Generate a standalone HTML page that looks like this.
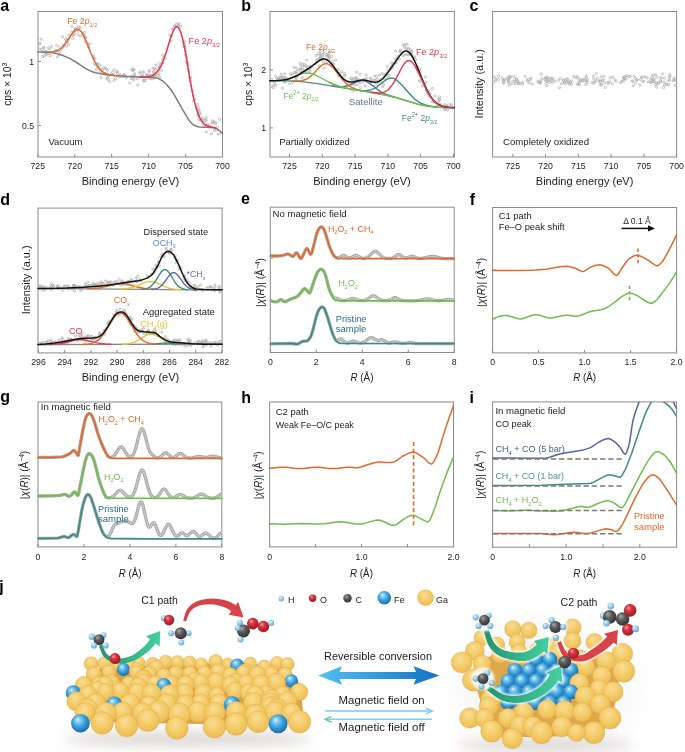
<!DOCTYPE html>
<html><head><meta charset="utf-8"><style>html,body{margin:0;padding:0;background:#fff;}svg{display:block;will-change:transform;}</style></head>
<body><svg width="685" height="752" viewBox="0 0 685 752" font-family='"Liberation Sans", sans-serif'><rect width="685" height="752" fill="#fff"/><text x="0.3" y="11.4" font-size="16" font-weight="bold" fill="#000">a</text><rect x="38" y="11.5" width="184.5" height="145.5" fill="none" stroke="#8a8a8a" stroke-width="1"/><line x1="37.8" y1="157" x2="37.8" y2="154" stroke="#8a8a8a" stroke-width="1"/><text x="37.8" y="168.8" font-size="9.2" fill="#1c1c1c" text-anchor="middle" font-weight="normal" textLength="14.55" lengthAdjust="spacingAndGlyphs" >725</text><line x1="74.75" y1="157" x2="74.75" y2="154" stroke="#8a8a8a" stroke-width="1"/><text x="74.75" y="168.8" font-size="9.2" fill="#1c1c1c" text-anchor="middle" font-weight="normal" textLength="14.55" lengthAdjust="spacingAndGlyphs" >720</text><line x1="111.7" y1="157" x2="111.7" y2="154" stroke="#8a8a8a" stroke-width="1"/><text x="111.7" y="168.8" font-size="9.2" fill="#1c1c1c" text-anchor="middle" font-weight="normal" textLength="14.55" lengthAdjust="spacingAndGlyphs" >715</text><line x1="148.65" y1="157" x2="148.65" y2="154" stroke="#8a8a8a" stroke-width="1"/><text x="148.65" y="168.8" font-size="9.2" fill="#1c1c1c" text-anchor="middle" font-weight="normal" textLength="14.55" lengthAdjust="spacingAndGlyphs" >710</text><line x1="185.6" y1="157" x2="185.6" y2="154" stroke="#8a8a8a" stroke-width="1"/><text x="185.6" y="168.8" font-size="9.2" fill="#1c1c1c" text-anchor="middle" font-weight="normal" textLength="14.55" lengthAdjust="spacingAndGlyphs" >705</text><line x1="222.55" y1="157" x2="222.55" y2="154" stroke="#8a8a8a" stroke-width="1"/><text x="222.55" y="168.8" font-size="9.2" fill="#1c1c1c" text-anchor="middle" font-weight="normal" textLength="14.55" lengthAdjust="spacingAndGlyphs" >700</text><text x="130.5" y="184.8" font-size="10.8" fill="#1c1c1c" text-anchor="middle" font-weight="normal" textLength="97.6" lengthAdjust="spacingAndGlyphs" >Binding energy (eV)</text><line x1="38" y1="61.5" x2="41" y2="61.5" stroke="#8a8a8a" stroke-width="1"/><text x="34" y="64.7" font-size="9.2" fill="#1c1c1c" text-anchor="end" font-weight="normal" textLength="4.85" lengthAdjust="spacingAndGlyphs" >1</text><line x1="38" y1="125.5" x2="41" y2="125.5" stroke="#8a8a8a" stroke-width="1"/><text x="34" y="128.7" font-size="9.2" fill="#1c1c1c" text-anchor="end" font-weight="normal" textLength="12.1" lengthAdjust="spacingAndGlyphs" >0.5</text><text transform="translate(11.3,84.2) rotate(-90)" x="0" y="0" font-size="10.5" fill="#1c1c1c" text-anchor="middle" textLength="43.2" lengthAdjust="spacingAndGlyphs">cps × 10<tspan font-size="7" dy="-4">3</tspan></text><g fill="#fff" stroke="#9c9c9c" stroke-width="0.6" fill-opacity="0.5"><circle cx="39.68" cy="43.15" r="1.1"/><circle cx="39.95" cy="48.89" r="1.1"/><circle cx="39.96" cy="44.04" r="1.1"/><circle cx="41.15" cy="39.18" r="1.1"/><circle cx="41.6" cy="49.54" r="1.1"/><circle cx="42.69" cy="56.64" r="1.1"/><circle cx="42.85" cy="51.76" r="1.1"/><circle cx="43.6" cy="47.13" r="1.1"/><circle cx="43.87" cy="48.02" r="1.1"/><circle cx="44.53" cy="55.9" r="1.1"/><circle cx="44.54" cy="52.2" r="1.1"/><circle cx="45.51" cy="51.8" r="1.1"/><circle cx="45.95" cy="51.41" r="1.1"/><circle cx="46.11" cy="51.76" r="1.1"/><circle cx="46.24" cy="54.68" r="1.1"/><circle cx="47.02" cy="53.72" r="1.1"/><circle cx="47.51" cy="52.44" r="1.1"/><circle cx="48.25" cy="47.65" r="1.1"/><circle cx="48.25" cy="53.55" r="1.1"/><circle cx="49.81" cy="48.97" r="1.1"/><circle cx="50.29" cy="55.7" r="1.1"/><circle cx="51.54" cy="46.63" r="1.1"/><circle cx="55.7" cy="50.3" r="1.1"/><circle cx="56.56" cy="50.55" r="1.1"/><circle cx="56.65" cy="45.51" r="1.1"/><circle cx="57.45" cy="56.8" r="1.1"/><circle cx="59.51" cy="54.73" r="1.1"/><circle cx="59.57" cy="47.38" r="1.1"/><circle cx="59.66" cy="52.01" r="1.1"/><circle cx="61.43" cy="49.14" r="1.1"/><circle cx="62.57" cy="36.67" r="1.1"/><circle cx="63.02" cy="47.07" r="1.1"/><circle cx="63.4" cy="45.46" r="1.1"/><circle cx="63.96" cy="45.36" r="1.1"/><circle cx="65.55" cy="38.88" r="1.1"/><circle cx="66.41" cy="40.71" r="1.1"/><circle cx="66.52" cy="40.89" r="1.1"/><circle cx="66.57" cy="46.01" r="1.1"/><circle cx="67.19" cy="41.83" r="1.1"/><circle cx="68.24" cy="38.89" r="1.1"/><circle cx="68.48" cy="44.35" r="1.1"/><circle cx="69.3" cy="35.13" r="1.1"/><circle cx="71.74" cy="32.1" r="1.1"/><circle cx="71.95" cy="26.38" r="1.1"/><circle cx="72.56" cy="38.45" r="1.1"/><circle cx="73.22" cy="35.35" r="1.1"/><circle cx="73.9" cy="34.42" r="1.1"/><circle cx="74.11" cy="33.27" r="1.1"/><circle cx="74.12" cy="31.14" r="1.1"/><circle cx="75" cy="30.77" r="1.1"/><circle cx="75.23" cy="28.82" r="1.1"/><circle cx="75.61" cy="28.75" r="1.1"/><circle cx="76.03" cy="29.5" r="1.1"/><circle cx="77.86" cy="34.63" r="1.1"/><circle cx="78.18" cy="31.03" r="1.1"/><circle cx="78.24" cy="28.71" r="1.1"/><circle cx="78.29" cy="26.74" r="1.1"/><circle cx="80.1" cy="27.5" r="1.1"/><circle cx="80.32" cy="36.2" r="1.1"/><circle cx="82.71" cy="35.27" r="1.1"/><circle cx="82.72" cy="33.63" r="1.1"/><circle cx="84.17" cy="34.84" r="1.1"/><circle cx="84.36" cy="32.35" r="1.1"/><circle cx="84.81" cy="37.28" r="1.1"/><circle cx="85.13" cy="41.58" r="1.1"/><circle cx="85.13" cy="36.77" r="1.1"/><circle cx="85.51" cy="38.28" r="1.1"/><circle cx="87.84" cy="44.02" r="1.1"/><circle cx="88.55" cy="47.09" r="1.1"/><circle cx="89.81" cy="43.8" r="1.1"/><circle cx="93.78" cy="58.3" r="1.1"/><circle cx="93.83" cy="56.05" r="1.1"/><circle cx="94.3" cy="63.64" r="1.1"/><circle cx="94.97" cy="58.65" r="1.1"/><circle cx="95.68" cy="65.08" r="1.1"/><circle cx="96.25" cy="69.68" r="1.1"/><circle cx="97.04" cy="63.95" r="1.1"/><circle cx="97.79" cy="63.97" r="1.1"/><circle cx="97.95" cy="67.21" r="1.1"/><circle cx="98.71" cy="67.47" r="1.1"/><circle cx="99.71" cy="64.89" r="1.1"/><circle cx="100.81" cy="71.52" r="1.1"/><circle cx="101.06" cy="77.67" r="1.1"/><circle cx="101.82" cy="69.67" r="1.1"/><circle cx="102.16" cy="70.15" r="1.1"/><circle cx="103.86" cy="68.08" r="1.1"/><circle cx="104.93" cy="73.83" r="1.1"/><circle cx="105.27" cy="68.04" r="1.1"/><circle cx="106.44" cy="69.06" r="1.1"/><circle cx="106.92" cy="78.3" r="1.1"/><circle cx="107.67" cy="70.25" r="1.1"/><circle cx="107.78" cy="77.83" r="1.1"/><circle cx="108.23" cy="79.64" r="1.1"/><circle cx="108.25" cy="74.84" r="1.1"/><circle cx="108.46" cy="76.02" r="1.1"/><circle cx="109.74" cy="81.64" r="1.1"/><circle cx="111.69" cy="73.85" r="1.1"/><circle cx="112.46" cy="72.46" r="1.1"/><circle cx="114" cy="69.78" r="1.1"/><circle cx="114.1" cy="75.09" r="1.1"/><circle cx="114.13" cy="80.56" r="1.1"/><circle cx="115.45" cy="78.73" r="1.1"/><circle cx="116.86" cy="71.64" r="1.1"/><circle cx="117.15" cy="72" r="1.1"/><circle cx="117.47" cy="73.36" r="1.1"/><circle cx="119.36" cy="76.55" r="1.1"/><circle cx="120.12" cy="74.71" r="1.1"/><circle cx="120.23" cy="76.32" r="1.1"/><circle cx="122.31" cy="76.78" r="1.1"/><circle cx="124.02" cy="74.63" r="1.1"/><circle cx="124.08" cy="75.61" r="1.1"/><circle cx="124.36" cy="76.57" r="1.1"/><circle cx="124.4" cy="75.47" r="1.1"/><circle cx="126.45" cy="77.82" r="1.1"/><circle cx="129.68" cy="83.19" r="1.1"/><circle cx="131.08" cy="78.4" r="1.1"/><circle cx="131.67" cy="76.39" r="1.1"/><circle cx="132.04" cy="69.79" r="1.1"/><circle cx="132.62" cy="77.69" r="1.1"/><circle cx="132.83" cy="68.83" r="1.1"/><circle cx="132.97" cy="70.88" r="1.1"/><circle cx="133.08" cy="79.49" r="1.1"/><circle cx="133.74" cy="78.95" r="1.1"/><circle cx="133.81" cy="75.7" r="1.1"/><circle cx="134.11" cy="69.78" r="1.1"/><circle cx="134.5" cy="74.88" r="1.1"/><circle cx="134.58" cy="73.72" r="1.1"/><circle cx="137.26" cy="78.81" r="1.1"/><circle cx="137.76" cy="84.98" r="1.1"/><circle cx="138.94" cy="77.26" r="1.1"/><circle cx="139.8" cy="73.5" r="1.1"/><circle cx="140.01" cy="72.01" r="1.1"/><circle cx="141.88" cy="76.28" r="1.1"/><circle cx="142.49" cy="75.83" r="1.1"/><circle cx="142.97" cy="72.13" r="1.1"/><circle cx="142.97" cy="76.95" r="1.1"/><circle cx="143.63" cy="72.14" r="1.1"/><circle cx="143.69" cy="80.73" r="1.1"/><circle cx="143.83" cy="80.55" r="1.1"/><circle cx="144.97" cy="80.61" r="1.1"/><circle cx="146.67" cy="74.6" r="1.1"/><circle cx="146.73" cy="78.36" r="1.1"/><circle cx="146.75" cy="75.9" r="1.1"/><circle cx="147.53" cy="74.85" r="1.1"/><circle cx="148.17" cy="74.95" r="1.1"/><circle cx="149.19" cy="71.13" r="1.1"/><circle cx="149.42" cy="70.53" r="1.1"/><circle cx="150.2" cy="78.85" r="1.1"/><circle cx="150.46" cy="75.03" r="1.1"/><circle cx="150.79" cy="76.48" r="1.1"/><circle cx="152.55" cy="78.75" r="1.1"/><circle cx="153.08" cy="68.08" r="1.1"/><circle cx="153.36" cy="71.53" r="1.1"/><circle cx="153.63" cy="75" r="1.1"/><circle cx="153.69" cy="75.79" r="1.1"/><circle cx="153.83" cy="72.77" r="1.1"/><circle cx="153.91" cy="78.07" r="1.1"/><circle cx="154.33" cy="74.66" r="1.1"/><circle cx="154.93" cy="68.77" r="1.1"/><circle cx="155.43" cy="69.39" r="1.1"/><circle cx="155.57" cy="75.86" r="1.1"/><circle cx="155.75" cy="74.4" r="1.1"/><circle cx="156.09" cy="65.08" r="1.1"/><circle cx="157.77" cy="75.56" r="1.1"/><circle cx="158.95" cy="71.16" r="1.1"/><circle cx="159.04" cy="73.85" r="1.1"/><circle cx="159.09" cy="67.22" r="1.1"/><circle cx="159.32" cy="67.21" r="1.1"/><circle cx="159.67" cy="63.5" r="1.1"/><circle cx="159.85" cy="77.13" r="1.1"/><circle cx="159.9" cy="66.75" r="1.1"/><circle cx="161.6" cy="70.18" r="1.1"/><circle cx="162.45" cy="59.72" r="1.1"/><circle cx="162.46" cy="62.8" r="1.1"/><circle cx="162.71" cy="55.2" r="1.1"/><circle cx="163.77" cy="57.4" r="1.1"/><circle cx="165.3" cy="58.33" r="1.1"/><circle cx="169.87" cy="35.07" r="1.1"/><circle cx="170.77" cy="41.07" r="1.1"/><circle cx="171.47" cy="36.23" r="1.1"/><circle cx="172.22" cy="28.91" r="1.1"/><circle cx="174.37" cy="26.27" r="1.1"/><circle cx="174.56" cy="26.14" r="1.1"/><circle cx="176.12" cy="26.14" r="1.1"/><circle cx="176.42" cy="24.18" r="1.1"/><circle cx="178.44" cy="24.03" r="1.1"/><circle cx="178.66" cy="26.3" r="1.1"/><circle cx="178.95" cy="23.98" r="1.1"/><circle cx="180.56" cy="26.39" r="1.1"/><circle cx="183.66" cy="42.72" r="1.1"/><circle cx="183.73" cy="46.57" r="1.1"/><circle cx="184.47" cy="41.02" r="1.1"/><circle cx="184.48" cy="46.9" r="1.1"/><circle cx="184.54" cy="44.72" r="1.1"/><circle cx="185.3" cy="47.5" r="1.1"/><circle cx="185.37" cy="54.83" r="1.1"/><circle cx="185.64" cy="51.09" r="1.1"/><circle cx="186.1" cy="61.35" r="1.1"/><circle cx="186.92" cy="57.49" r="1.1"/><circle cx="187.11" cy="63.07" r="1.1"/><circle cx="187.78" cy="64.74" r="1.1"/><circle cx="187.78" cy="62.78" r="1.1"/><circle cx="187.98" cy="69.07" r="1.1"/><circle cx="188.87" cy="71.64" r="1.1"/><circle cx="189.36" cy="77.39" r="1.1"/><circle cx="190.48" cy="81.34" r="1.1"/><circle cx="190.58" cy="77.91" r="1.1"/><circle cx="192.33" cy="91.08" r="1.1"/><circle cx="193.23" cy="96.04" r="1.1"/><circle cx="193.6" cy="101.23" r="1.1"/><circle cx="194.86" cy="99.33" r="1.1"/><circle cx="196.46" cy="108.41" r="1.1"/><circle cx="197.28" cy="104.57" r="1.1"/><circle cx="198.02" cy="115.67" r="1.1"/><circle cx="198.29" cy="109.8" r="1.1"/><circle cx="198.42" cy="107.38" r="1.1"/><circle cx="198.52" cy="114.26" r="1.1"/><circle cx="198.91" cy="119.62" r="1.1"/><circle cx="199.18" cy="110.24" r="1.1"/><circle cx="199.27" cy="112.09" r="1.1"/><circle cx="199.66" cy="114.23" r="1.1"/><circle cx="200.08" cy="113.58" r="1.1"/><circle cx="200.34" cy="119.78" r="1.1"/><circle cx="201.96" cy="117.81" r="1.1"/><circle cx="202.62" cy="118.96" r="1.1"/><circle cx="202.74" cy="124.06" r="1.1"/><circle cx="203.96" cy="120.24" r="1.1"/><circle cx="204.93" cy="125.55" r="1.1"/><circle cx="205.69" cy="120.75" r="1.1"/><circle cx="206.07" cy="120.07" r="1.1"/><circle cx="206.1" cy="117.72" r="1.1"/><circle cx="206.38" cy="131.93" r="1.1"/><circle cx="207.4" cy="124.16" r="1.1"/><circle cx="208.34" cy="126.69" r="1.1"/><circle cx="209.35" cy="125.97" r="1.1"/><circle cx="210.25" cy="126.93" r="1.1"/><circle cx="211.43" cy="126.77" r="1.1"/><circle cx="211.45" cy="133.83" r="1.1"/><circle cx="212.03" cy="122.75" r="1.1"/><circle cx="212.55" cy="120.87" r="1.1"/><circle cx="212.75" cy="122.97" r="1.1"/><circle cx="214.21" cy="122" r="1.1"/><circle cx="214.45" cy="129.95" r="1.1"/><circle cx="215.5" cy="130.53" r="1.1"/><circle cx="215.63" cy="123.82" r="1.1"/><circle cx="216.31" cy="122.55" r="1.1"/><circle cx="217.62" cy="127.35" r="1.1"/><circle cx="217.92" cy="134.19" r="1.1"/><circle cx="219.49" cy="119.39" r="1.1"/><circle cx="220.68" cy="133.23" r="1.1"/></g><path d="M37.7,52 46.5,52.3 52.5,52.8 56.7,53.6 62.2,55.2 66.8,57.1 70.5,58.9 78.9,64 84.9,68.1 87.7,69.6 90.4,70.9 93.2,72 95.5,72.7 98.3,73.3 105.2,74.5 114.5,75.6 128.8,76.5 152.9,77.6 156.1,77.9 158.5,78.6 162.2,80.6 164,82 167.2,85.2 170,88.5 172.3,91.8 174.6,95.4 182.5,109.4 188.1,118.8 189.9,121.4 192.7,124.3 194.1,125.2 195.5,125.8 197.3,126.5 199.2,126.9 211.7,127.5 214.4,127.8 215.4,128 216.7,128.7 219.1,130.3 220.4,131.5 222.3,133.5" fill="none" stroke="#837977" stroke-width="1.5" stroke-linejoin="round" stroke-linecap="round" /><path d="M48.3,52.1 52,51.9 55.7,51.3 58.1,50.5 60.4,49.1 62.7,47 64.5,44.8 66.8,41.6 71.5,34.5 73.8,31.6 75.2,30.3 76.6,29.6 78,29.4 78.9,29.6 79.8,30.2 81.2,31.6 82.1,32.9 83.5,35.3 85.8,40.4 91.4,54.2 93.7,59.5 96.5,64.7 97.8,66.8 99.2,68.6 100.6,70.1 102.5,71.7 104.3,72.8 106.2,73.7 108.5,74.4 110.8,74.9 114,75.4 117.7,75.8" fill="none" stroke="#E2692B" stroke-width="1.5" stroke-linejoin="round" stroke-linecap="round" /><path d="M140.4,77 144.1,77 146.9,76.9 149.2,76.6 151.5,75.9 153.4,75 154.8,74 156.6,72.3 158.5,70.1 159.8,68 160.8,66.4 162.2,63.4 163.5,60 166.3,52 170.9,37 173.3,30.8 174.6,28.2 175.6,27.2 176.5,26.7 177,26.7 177.9,27.1 178.8,28.2 180.2,30.8 181.6,34.9 183,40.3 184.4,46.8 185.8,54.2 189.9,78.8 192.7,93.8 194.1,100.1 195.5,105.6 196.9,110.3 198.2,114.3 199.6,117.5 201,120 202.9,122.5 204.7,124.3 206.6,125.5 208.4,126.3 210.7,126.9 214.9,127.7 215.8,128.1" fill="none" stroke="#E8354B" stroke-width="1.5" stroke-linejoin="round" stroke-linecap="round" /><text x="67.2" y="23.9" font-size="9.5" fill="#E2692B" text-anchor="start" font-weight="normal" textLength="30" lengthAdjust="spacingAndGlyphs" >Fe 2<tspan font-style="italic">p</tspan><tspan font-size="6" dy="2.8">1/2</tspan></text><text x="188.6" y="43.7" font-size="9.5" fill="#E8354B" text-anchor="start" font-weight="normal" textLength="31.4" lengthAdjust="spacingAndGlyphs" >Fe 2<tspan font-style="italic">p</tspan><tspan font-size="6" dy="2.8">3/2</tspan></text><text x="48.5" y="145.2" font-size="9.2" fill="#1c1c1c" text-anchor="start" font-weight="normal" textLength="34" lengthAdjust="spacingAndGlyphs" >Vacuum</text><text x="241.3" y="11.4" font-size="16" font-weight="bold" fill="#000">b</text><rect x="270" y="11.5" width="184.4" height="145.5" fill="none" stroke="#8a8a8a" stroke-width="1"/><line x1="289.5" y1="157" x2="289.5" y2="154" stroke="#8a8a8a" stroke-width="1"/><text x="289.5" y="168.8" font-size="9.2" fill="#1c1c1c" text-anchor="middle" font-weight="normal" textLength="14.55" lengthAdjust="spacingAndGlyphs" >725</text><line x1="322.28" y1="157" x2="322.28" y2="154" stroke="#8a8a8a" stroke-width="1"/><text x="322.28" y="168.8" font-size="9.2" fill="#1c1c1c" text-anchor="middle" font-weight="normal" textLength="14.55" lengthAdjust="spacingAndGlyphs" >720</text><line x1="355.06" y1="157" x2="355.06" y2="154" stroke="#8a8a8a" stroke-width="1"/><text x="355.06" y="168.8" font-size="9.2" fill="#1c1c1c" text-anchor="middle" font-weight="normal" textLength="14.55" lengthAdjust="spacingAndGlyphs" >715</text><line x1="387.84" y1="157" x2="387.84" y2="154" stroke="#8a8a8a" stroke-width="1"/><text x="387.84" y="168.8" font-size="9.2" fill="#1c1c1c" text-anchor="middle" font-weight="normal" textLength="14.55" lengthAdjust="spacingAndGlyphs" >710</text><line x1="420.62" y1="157" x2="420.62" y2="154" stroke="#8a8a8a" stroke-width="1"/><text x="420.62" y="168.8" font-size="9.2" fill="#1c1c1c" text-anchor="middle" font-weight="normal" textLength="14.55" lengthAdjust="spacingAndGlyphs" >705</text><line x1="453.4" y1="157" x2="453.4" y2="154" stroke="#8a8a8a" stroke-width="1"/><text x="453.4" y="168.8" font-size="9.2" fill="#1c1c1c" text-anchor="middle" font-weight="normal" textLength="14.55" lengthAdjust="spacingAndGlyphs" >700</text><text x="362" y="184.8" font-size="10.8" fill="#1c1c1c" text-anchor="middle" font-weight="normal" textLength="97.6" lengthAdjust="spacingAndGlyphs" >Binding energy (eV)</text><line x1="270" y1="70" x2="273" y2="70" stroke="#8a8a8a" stroke-width="1"/><text x="266" y="73.2" font-size="9.2" fill="#1c1c1c" text-anchor="end" font-weight="normal" textLength="4.85" lengthAdjust="spacingAndGlyphs" >2</text><line x1="270" y1="127.9" x2="273" y2="127.9" stroke="#8a8a8a" stroke-width="1"/><text x="266" y="131.1" font-size="9.2" fill="#1c1c1c" text-anchor="end" font-weight="normal" textLength="4.85" lengthAdjust="spacingAndGlyphs" >1</text><text transform="translate(252.3,84.2) rotate(-90)" x="0" y="0" font-size="10.5" fill="#1c1c1c" text-anchor="middle" textLength="43.2" lengthAdjust="spacingAndGlyphs">cps × 10<tspan font-size="7" dy="-4">3</tspan></text><g fill="#fff" stroke="#9c9c9c" stroke-width="0.6" fill-opacity="0.5"><circle cx="271.6" cy="79.04" r="1.1"/><circle cx="272.04" cy="86.91" r="1.1"/><circle cx="273.32" cy="87.47" r="1.1"/><circle cx="273.75" cy="84.69" r="1.1"/><circle cx="274.4" cy="82.1" r="1.1"/><circle cx="275.7" cy="76.26" r="1.1"/><circle cx="275.82" cy="85.16" r="1.1"/><circle cx="276.92" cy="78.83" r="1.1"/><circle cx="277.42" cy="78.76" r="1.1"/><circle cx="278.61" cy="77.78" r="1.1"/><circle cx="279.08" cy="79.36" r="1.1"/><circle cx="280.02" cy="77.09" r="1.1"/><circle cx="280.56" cy="78.53" r="1.1"/><circle cx="281.34" cy="74.26" r="1.1"/><circle cx="282.39" cy="77.14" r="1.1"/><circle cx="282.5" cy="88.27" r="1.1"/><circle cx="283.14" cy="78.32" r="1.1"/><circle cx="283.31" cy="77.59" r="1.1"/><circle cx="283.8" cy="80.76" r="1.1"/><circle cx="284.36" cy="81.41" r="1.1"/><circle cx="284.7" cy="73.71" r="1.1"/><circle cx="285.05" cy="77.45" r="1.1"/><circle cx="285.14" cy="82.17" r="1.1"/><circle cx="285.94" cy="79.29" r="1.1"/><circle cx="286.39" cy="78.57" r="1.1"/><circle cx="289.48" cy="83.75" r="1.1"/><circle cx="290.52" cy="74.01" r="1.1"/><circle cx="291.86" cy="76.7" r="1.1"/><circle cx="292.22" cy="74.02" r="1.1"/><circle cx="292.45" cy="82.37" r="1.1"/><circle cx="293.78" cy="67.34" r="1.1"/><circle cx="294.63" cy="72.33" r="1.1"/><circle cx="295.12" cy="72.69" r="1.1"/><circle cx="295.64" cy="77.44" r="1.1"/><circle cx="295.75" cy="77.14" r="1.1"/><circle cx="295.98" cy="80.34" r="1.1"/><circle cx="296.18" cy="67.77" r="1.1"/><circle cx="296.38" cy="77.43" r="1.1"/><circle cx="296.74" cy="72.85" r="1.1"/><circle cx="296.85" cy="71.23" r="1.1"/><circle cx="296.99" cy="76.22" r="1.1"/><circle cx="298.98" cy="68.99" r="1.1"/><circle cx="300.35" cy="63.32" r="1.1"/><circle cx="300.61" cy="70.34" r="1.1"/><circle cx="300.72" cy="65.54" r="1.1"/><circle cx="301.1" cy="68.87" r="1.1"/><circle cx="301.17" cy="73.12" r="1.1"/><circle cx="301.27" cy="72.81" r="1.1"/><circle cx="302.24" cy="77.58" r="1.1"/><circle cx="302.55" cy="69.89" r="1.1"/><circle cx="302.68" cy="64.21" r="1.1"/><circle cx="302.69" cy="67.47" r="1.1"/><circle cx="304.51" cy="65.69" r="1.1"/><circle cx="304.57" cy="64.4" r="1.1"/><circle cx="304.61" cy="71.32" r="1.1"/><circle cx="306.11" cy="65.87" r="1.1"/><circle cx="306.67" cy="59.93" r="1.1"/><circle cx="307.14" cy="70.87" r="1.1"/><circle cx="307.72" cy="67.12" r="1.1"/><circle cx="308.06" cy="68.88" r="1.1"/><circle cx="308.34" cy="67.64" r="1.1"/><circle cx="309.74" cy="68.93" r="1.1"/><circle cx="310" cy="66.26" r="1.1"/><circle cx="310.11" cy="71.22" r="1.1"/><circle cx="310.5" cy="67.54" r="1.1"/><circle cx="311.04" cy="67.01" r="1.1"/><circle cx="315.77" cy="63.35" r="1.1"/><circle cx="315.9" cy="55.41" r="1.1"/><circle cx="316.51" cy="60.35" r="1.1"/><circle cx="317.75" cy="59.01" r="1.1"/><circle cx="317.88" cy="60.88" r="1.1"/><circle cx="318.08" cy="54.15" r="1.1"/><circle cx="319.32" cy="65.89" r="1.1"/><circle cx="319.81" cy="59.17" r="1.1"/><circle cx="319.98" cy="53.54" r="1.1"/><circle cx="320.18" cy="51.34" r="1.1"/><circle cx="320.26" cy="57.3" r="1.1"/><circle cx="320.45" cy="58" r="1.1"/><circle cx="320.79" cy="55.2" r="1.1"/><circle cx="321.02" cy="58.5" r="1.1"/><circle cx="321.78" cy="55.12" r="1.1"/><circle cx="321.83" cy="60.11" r="1.1"/><circle cx="322.68" cy="54.52" r="1.1"/><circle cx="322.9" cy="57.37" r="1.1"/><circle cx="323.53" cy="61.57" r="1.1"/><circle cx="323.74" cy="68.24" r="1.1"/><circle cx="324.43" cy="53.23" r="1.1"/><circle cx="326.43" cy="56.07" r="1.1"/><circle cx="326.72" cy="54.63" r="1.1"/><circle cx="326.82" cy="61.5" r="1.1"/><circle cx="327.71" cy="53.93" r="1.1"/><circle cx="328.05" cy="56.95" r="1.1"/><circle cx="328.49" cy="59.19" r="1.1"/><circle cx="328.74" cy="55.4" r="1.1"/><circle cx="329.35" cy="56.01" r="1.1"/><circle cx="329.63" cy="58.29" r="1.1"/><circle cx="330.03" cy="51.85" r="1.1"/><circle cx="331.63" cy="56.34" r="1.1"/><circle cx="332.24" cy="61.39" r="1.1"/><circle cx="332.41" cy="63.97" r="1.1"/><circle cx="333.72" cy="64.25" r="1.1"/><circle cx="335.5" cy="60.02" r="1.1"/><circle cx="338.31" cy="69.43" r="1.1"/><circle cx="338.9" cy="75.54" r="1.1"/><circle cx="339.7" cy="75.55" r="1.1"/><circle cx="339.99" cy="73.26" r="1.1"/><circle cx="341.68" cy="71.86" r="1.1"/><circle cx="342.54" cy="79.15" r="1.1"/><circle cx="344.51" cy="75.84" r="1.1"/><circle cx="344.55" cy="73.39" r="1.1"/><circle cx="345.11" cy="75.34" r="1.1"/><circle cx="347.17" cy="85.96" r="1.1"/><circle cx="347.8" cy="81.05" r="1.1"/><circle cx="348.14" cy="85.11" r="1.1"/><circle cx="350.82" cy="78.64" r="1.1"/><circle cx="350.83" cy="84.59" r="1.1"/><circle cx="351.5" cy="78.11" r="1.1"/><circle cx="352.2" cy="79.91" r="1.1"/><circle cx="352.63" cy="90.96" r="1.1"/><circle cx="352.73" cy="83.72" r="1.1"/><circle cx="353.65" cy="78.23" r="1.1"/><circle cx="353.94" cy="79.91" r="1.1"/><circle cx="354.13" cy="81.6" r="1.1"/><circle cx="354.57" cy="85.21" r="1.1"/><circle cx="355.96" cy="77.7" r="1.1"/><circle cx="356.6" cy="72.26" r="1.1"/><circle cx="356.64" cy="78.38" r="1.1"/><circle cx="356.65" cy="79.62" r="1.1"/><circle cx="357.49" cy="79.78" r="1.1"/><circle cx="357.52" cy="84.84" r="1.1"/><circle cx="357.92" cy="80.54" r="1.1"/><circle cx="359.83" cy="82.18" r="1.1"/><circle cx="360.03" cy="74.11" r="1.1"/><circle cx="360.24" cy="82.34" r="1.1"/><circle cx="360.55" cy="87.46" r="1.1"/><circle cx="363.43" cy="81.73" r="1.1"/><circle cx="363.64" cy="79.56" r="1.1"/><circle cx="364.55" cy="79.22" r="1.1"/><circle cx="365.13" cy="86.16" r="1.1"/><circle cx="366.16" cy="74.95" r="1.1"/><circle cx="366.58" cy="78.47" r="1.1"/><circle cx="366.7" cy="80.89" r="1.1"/><circle cx="369.81" cy="82.95" r="1.1"/><circle cx="370.4" cy="78.16" r="1.1"/><circle cx="371.33" cy="81.54" r="1.1"/><circle cx="371.41" cy="79.1" r="1.1"/><circle cx="372.99" cy="81.11" r="1.1"/><circle cx="374.58" cy="80.2" r="1.1"/><circle cx="375" cy="75.97" r="1.1"/><circle cx="375.17" cy="80.67" r="1.1"/><circle cx="375.38" cy="84.44" r="1.1"/><circle cx="376.68" cy="76.53" r="1.1"/><circle cx="377.29" cy="79.43" r="1.1"/><circle cx="378.49" cy="82.82" r="1.1"/><circle cx="379.49" cy="75.04" r="1.1"/><circle cx="380.5" cy="79.68" r="1.1"/><circle cx="381.87" cy="73.41" r="1.1"/><circle cx="381.92" cy="82.59" r="1.1"/><circle cx="382.62" cy="86.92" r="1.1"/><circle cx="383.56" cy="84.76" r="1.1"/><circle cx="383.94" cy="74.96" r="1.1"/><circle cx="384.25" cy="78.64" r="1.1"/><circle cx="385.71" cy="74.34" r="1.1"/><circle cx="386.1" cy="73.78" r="1.1"/><circle cx="386.95" cy="78.77" r="1.1"/><circle cx="387.22" cy="66.37" r="1.1"/><circle cx="387.7" cy="75.7" r="1.1"/><circle cx="388.35" cy="70.18" r="1.1"/><circle cx="389.03" cy="75.36" r="1.1"/><circle cx="390.72" cy="67.83" r="1.1"/><circle cx="391.7" cy="62.81" r="1.1"/><circle cx="391.99" cy="66.4" r="1.1"/><circle cx="392.48" cy="67.62" r="1.1"/><circle cx="392.9" cy="64.07" r="1.1"/><circle cx="394.74" cy="63.28" r="1.1"/><circle cx="395.12" cy="58.49" r="1.1"/><circle cx="395.56" cy="51.06" r="1.1"/><circle cx="396.19" cy="62.88" r="1.1"/><circle cx="396.25" cy="61.94" r="1.1"/><circle cx="397.57" cy="57.7" r="1.1"/><circle cx="398.39" cy="56.2" r="1.1"/><circle cx="399.12" cy="59.27" r="1.1"/><circle cx="399.87" cy="52.02" r="1.1"/><circle cx="400.43" cy="50.29" r="1.1"/><circle cx="401.16" cy="51.62" r="1.1"/><circle cx="403.08" cy="55.62" r="1.1"/><circle cx="403.23" cy="44.69" r="1.1"/><circle cx="404.3" cy="54.88" r="1.1"/><circle cx="404.67" cy="47.04" r="1.1"/><circle cx="404.82" cy="45.04" r="1.1"/><circle cx="405.75" cy="54.76" r="1.1"/><circle cx="406.05" cy="49.04" r="1.1"/><circle cx="406.98" cy="44.11" r="1.1"/><circle cx="407.85" cy="48.4" r="1.1"/><circle cx="407.93" cy="53.86" r="1.1"/><circle cx="408.21" cy="55.12" r="1.1"/><circle cx="408.81" cy="48.75" r="1.1"/><circle cx="409.21" cy="52.6" r="1.1"/><circle cx="409.63" cy="54.32" r="1.1"/><circle cx="410.48" cy="49.6" r="1.1"/><circle cx="411.03" cy="54.53" r="1.1"/><circle cx="411.13" cy="53.05" r="1.1"/><circle cx="411.54" cy="51.54" r="1.1"/><circle cx="411.78" cy="52.1" r="1.1"/><circle cx="411.85" cy="54.55" r="1.1"/><circle cx="413.53" cy="57.35" r="1.1"/><circle cx="414.54" cy="56.91" r="1.1"/><circle cx="415.54" cy="59.67" r="1.1"/><circle cx="416.83" cy="69.12" r="1.1"/><circle cx="417.43" cy="66.79" r="1.1"/><circle cx="417.76" cy="70.43" r="1.1"/><circle cx="418.42" cy="73.38" r="1.1"/><circle cx="419.23" cy="72.83" r="1.1"/><circle cx="419.66" cy="80.99" r="1.1"/><circle cx="419.99" cy="68.81" r="1.1"/><circle cx="420.01" cy="75.73" r="1.1"/><circle cx="420.1" cy="71.21" r="1.1"/><circle cx="420.18" cy="80.55" r="1.1"/><circle cx="422.56" cy="85.82" r="1.1"/><circle cx="425.42" cy="77.15" r="1.1"/><circle cx="425.89" cy="82.29" r="1.1"/><circle cx="426.31" cy="90.05" r="1.1"/><circle cx="426.68" cy="91.34" r="1.1"/><circle cx="427.84" cy="93.42" r="1.1"/><circle cx="428.29" cy="90.87" r="1.1"/><circle cx="428.83" cy="94.05" r="1.1"/><circle cx="429.15" cy="95.44" r="1.1"/><circle cx="429.92" cy="93.64" r="1.1"/><circle cx="432.38" cy="101.83" r="1.1"/><circle cx="432.64" cy="88.35" r="1.1"/><circle cx="433.97" cy="102.03" r="1.1"/><circle cx="434.9" cy="95.97" r="1.1"/><circle cx="437.03" cy="106.12" r="1.1"/><circle cx="437.91" cy="101.72" r="1.1"/><circle cx="439.1" cy="99.63" r="1.1"/><circle cx="439.27" cy="105.02" r="1.1"/><circle cx="439.39" cy="99.69" r="1.1"/><circle cx="439.5" cy="99.74" r="1.1"/><circle cx="439.51" cy="96.99" r="1.1"/><circle cx="440.27" cy="103.81" r="1.1"/><circle cx="442.31" cy="106.75" r="1.1"/><circle cx="444.72" cy="109.57" r="1.1"/><circle cx="444.89" cy="104.72" r="1.1"/><circle cx="444.93" cy="109.72" r="1.1"/><circle cx="446.42" cy="105.65" r="1.1"/><circle cx="446.48" cy="105.19" r="1.1"/><circle cx="446.64" cy="108.02" r="1.1"/><circle cx="447.67" cy="110.19" r="1.1"/><circle cx="450.13" cy="104.54" r="1.1"/><circle cx="451.54" cy="105.03" r="1.1"/></g><path d="M269.8,80.7 286.1,80.8 294.2,81.1 303.8,81.9 317.1,83.6 369.6,92.1 386.9,95.3 390.6,96.2 394.7,97.2 417.6,104.1 424.6,105.6 429.8,106.4 437.6,107.2 446.8,107.6 454.2,107.7" fill="none" stroke="#4f8a86" stroke-width="1.4" stroke-linejoin="round" stroke-linecap="round" /><path d="M332.6,86 336.7,86.5 339.6,86.6 342.2,86.6 344.8,86.3 347,85.8 349.3,85.1 356.3,82 358.5,81.1 361.1,80.6 362.6,80.6 363.7,80.7 364.8,80.9 366.2,81.4 368.8,82.9 371.1,84.4 377.7,89.7 379.9,91.2 382.1,92.5 384.4,93.6 386.9,94.6 394.7,97.2" fill="none" stroke="#6570A8" stroke-width="1.4" stroke-linejoin="round" stroke-linecap="round" /><path d="M292.7,80.9 297.9,80.9 301.2,80.6 304.2,80 307.1,78.8 309.3,77.4 311.9,75.3 314.1,73.1 318.9,67.8 321.5,65.5 323,64.5 324.1,64 325.6,63.6 326.7,63.7 327.8,63.9 329.3,64.6 330.8,65.6 332.3,66.9 335.2,70.3 340.4,77 343,80.1 345.9,83.2 348.5,85.4 351.8,87.5 355.2,88.9 359.2,90.1 364.4,91.2" fill="none" stroke="#E2692B" stroke-width="1.4" stroke-linejoin="round" stroke-linecap="round" /><path d="M356.6,90 361.4,90.5 365.1,90.6 368.5,90.3 371.4,89.6 374,88.6 376.6,87.1 379.2,85.2 384.4,81 386.9,79.3 388.4,78.6 389.9,78.2 391.4,78.1 392.5,78.2 394,78.7 395.8,79.7 397.3,80.7 399.1,82.3 402.1,85.2 408.7,92.8 411.7,96 415,99.2 418,101.4 421.3,103.3 425.4,105 429.4,106 435.4,106.9" fill="none" stroke="#3B8C84" stroke-width="1.4" stroke-linejoin="round" stroke-linecap="round" /><path d="M269.8,80.7 279.8,80.4 283.1,80.1 286.1,79.6 288.6,79 291.6,78 300.1,74.4 302.3,73.6 305.3,73 307.9,72.9 309.7,73.2 311.6,73.6 313.4,74.2 315.6,75.1 319.3,77 328.6,82 334.1,84.5 338.9,86.2 344.8,87.8" fill="none" stroke="#6DBE4B" stroke-width="1.4" stroke-linejoin="round" stroke-linecap="round" /><path d="M330,82.8 333.4,84.2 336.7,85.5 340,86.6 343.7,87.5 351.1,89.1 373.3,92.8 389.2,95.8 395.4,97.5 416.9,103.9 421.7,105 428.3,106.2 436.5,107.1 445.7,107.5 454.2,107.7" fill="none" stroke="#6DBE4B" stroke-width="1.4" stroke-linejoin="round" stroke-linecap="round" /><path d="M269.8,80.7 277.9,80.5 283.1,80.1 287.5,79.3 292,77.8 294.9,76.5 298.3,74.8 308.6,68.5 311.9,66.2 317.5,61.8 319.7,60.3 321.9,59.3 323,59 324.1,58.9 325.6,59.2 327.1,59.9 328.6,60.9 330,62.2 333,65.6 338.9,73.7 341.5,76.9 343,78.4 344.4,79.7 345.9,80.7 347,81.3 349.3,82 350.4,82.1 351.8,82.1 354.1,81.7 360,80.2 361.8,80 363.3,80 366.2,80.4 371.4,81.8 373.3,82.1 375.1,82.3 377,82 379.2,81.2 381,80 382.9,78.5 385.1,76.1 389.2,70.8 398.8,56.9 401.4,53.7 402.8,52.3 403.9,51.6 405.4,51 406.5,51 408,51.5 409.5,52.7 411.3,55 413.2,58.1 416.1,64.3 423.2,81.6 426.5,89.1 428.3,92.7 429.8,95.3 431.3,97.5 433.1,99.9 435,101.9 436.8,103.4 439,104.8 441.3,105.8 443.9,106.6 446.8,107.1 450.1,107.5 454.2,107.6" fill="none" stroke="#111" stroke-width="1.5" stroke-linejoin="round" stroke-linecap="round" /><path d="M371.1,92.3 377.3,93 379.6,93 381.4,92.8 383.2,92.3 384.7,91.8 386.6,90.8 388.1,89.7 390.6,87 392.1,85.1 393.6,82.9 396.2,78.4 401.7,67.8 403.2,65.3 404.3,63.7 405.8,62 406.9,61.2 407.6,60.8 408.4,60.6 409.5,60.7 411,61.3 412.4,62.6 413.9,64.4 415.4,66.6 418.4,72.3 424.3,85.2 427.2,91.2 430.2,96.2 431.7,98.3 433.5,100.5 435.4,102.3 437.2,103.8 439,104.9 441.3,105.8 443.9,106.6 446.4,107.1 449.4,107.4 453.1,107.6" fill="none" stroke="#E8354B" stroke-width="1.4" stroke-linejoin="round" stroke-linecap="round" /><text x="306" y="50.2" font-size="9.5" fill="#E2692B" text-anchor="start" font-weight="normal" textLength="29" lengthAdjust="spacingAndGlyphs" >Fe 2<tspan font-style="italic">p</tspan><tspan font-size="6" dy="2.8">1/2</tspan></text><text x="415.9" y="55.3" font-size="9.5" fill="#E8354B" text-anchor="start" font-weight="normal" textLength="31.2" lengthAdjust="spacingAndGlyphs" >Fe 2<tspan font-style="italic">p</tspan><tspan font-size="6" dy="2.8">3/2</tspan></text><text x="283.5" y="98.5" font-size="9.5" fill="#6DBE4B" text-anchor="start" font-weight="normal" textLength="35.3" lengthAdjust="spacingAndGlyphs" >Fe<tspan font-size="6.5" dy="-3.5">2+</tspan><tspan dy="3.5"> 2</tspan><tspan font-style="italic">p</tspan><tspan font-size="6" dy="2.8">1/2</tspan></text><text x="348.8" y="105.4" font-size="9.5" fill="#6570A8" text-anchor="start" font-weight="normal" textLength="34" lengthAdjust="spacingAndGlyphs" >Satellite</text><text x="401.8" y="120.8" font-size="9.5" fill="#3B8C84" text-anchor="start" font-weight="normal" textLength="35.6" lengthAdjust="spacingAndGlyphs" >Fe<tspan font-size="6.5" dy="-3.5">2+</tspan><tspan dy="3.5"> 2</tspan><tspan font-style="italic">p</tspan><tspan font-size="6" dy="2.8">3/2</tspan></text><text x="279.3" y="145.2" font-size="9.2" fill="#1c1c1c" text-anchor="start" font-weight="normal" textLength="70.5" lengthAdjust="spacingAndGlyphs" >Partially oxidized</text><text x="469.6" y="11.4" font-size="16" font-weight="bold" fill="#000">c</text><rect x="492.6" y="11.5" width="184" height="145.5" fill="none" stroke="#8a8a8a" stroke-width="1"/><line x1="512.8" y1="157" x2="512.8" y2="154" stroke="#8a8a8a" stroke-width="1"/><text x="512.8" y="168.8" font-size="9.2" fill="#1c1c1c" text-anchor="middle" font-weight="normal" textLength="14.55" lengthAdjust="spacingAndGlyphs" >725</text><line x1="545.56" y1="157" x2="545.56" y2="154" stroke="#8a8a8a" stroke-width="1"/><text x="545.56" y="168.8" font-size="9.2" fill="#1c1c1c" text-anchor="middle" font-weight="normal" textLength="14.55" lengthAdjust="spacingAndGlyphs" >720</text><line x1="578.32" y1="157" x2="578.32" y2="154" stroke="#8a8a8a" stroke-width="1"/><text x="578.32" y="168.8" font-size="9.2" fill="#1c1c1c" text-anchor="middle" font-weight="normal" textLength="14.55" lengthAdjust="spacingAndGlyphs" >715</text><line x1="611.08" y1="157" x2="611.08" y2="154" stroke="#8a8a8a" stroke-width="1"/><text x="611.08" y="168.8" font-size="9.2" fill="#1c1c1c" text-anchor="middle" font-weight="normal" textLength="14.55" lengthAdjust="spacingAndGlyphs" >710</text><line x1="643.84" y1="157" x2="643.84" y2="154" stroke="#8a8a8a" stroke-width="1"/><text x="643.84" y="168.8" font-size="9.2" fill="#1c1c1c" text-anchor="middle" font-weight="normal" textLength="14.55" lengthAdjust="spacingAndGlyphs" >705</text><line x1="676.6" y1="157" x2="676.6" y2="154" stroke="#8a8a8a" stroke-width="1"/><text x="676.6" y="168.8" font-size="9.2" fill="#1c1c1c" text-anchor="middle" font-weight="normal" textLength="14.55" lengthAdjust="spacingAndGlyphs" >700</text><text x="584.6" y="184.8" font-size="10.8" fill="#1c1c1c" text-anchor="middle" font-weight="normal" textLength="97.6" lengthAdjust="spacingAndGlyphs" >Binding energy (eV)</text><text transform="translate(483,83.7) rotate(-90)" x="0" y="0" font-size="10.5" fill="#1c1c1c" text-anchor="middle" textLength="69.4" lengthAdjust="spacingAndGlyphs">Intensity (a.u.)</text><g fill="#fff" stroke="#9c9c9c" stroke-width="0.6" fill-opacity="0.5"><circle cx="493.22" cy="82.55" r="1.1"/><circle cx="494.18" cy="76.85" r="1.1"/><circle cx="495.43" cy="80.94" r="1.1"/><circle cx="495.86" cy="79.02" r="1.1"/><circle cx="498.43" cy="79.44" r="1.1"/><circle cx="498.6" cy="75.87" r="1.1"/><circle cx="502.15" cy="78.08" r="1.1"/><circle cx="502.85" cy="80.35" r="1.1"/><circle cx="503.59" cy="82.71" r="1.1"/><circle cx="503.9" cy="82.97" r="1.1"/><circle cx="504.02" cy="80.19" r="1.1"/><circle cx="505.16" cy="79.91" r="1.1"/><circle cx="506.62" cy="78.24" r="1.1"/><circle cx="508.24" cy="81.45" r="1.1"/><circle cx="508.45" cy="79.76" r="1.1"/><circle cx="508.62" cy="81.98" r="1.1"/><circle cx="508.91" cy="84.95" r="1.1"/><circle cx="509" cy="80.32" r="1.1"/><circle cx="509.03" cy="76.51" r="1.1"/><circle cx="509.04" cy="78.16" r="1.1"/><circle cx="510.37" cy="76.61" r="1.1"/><circle cx="510.9" cy="77.29" r="1.1"/><circle cx="511.23" cy="83.79" r="1.1"/><circle cx="512.98" cy="80.99" r="1.1"/><circle cx="513.99" cy="76.45" r="1.1"/><circle cx="514.85" cy="82.1" r="1.1"/><circle cx="514.88" cy="83.68" r="1.1"/><circle cx="515.95" cy="79.46" r="1.1"/><circle cx="516.41" cy="78.64" r="1.1"/><circle cx="516.5" cy="79.52" r="1.1"/><circle cx="517.7" cy="81.14" r="1.1"/><circle cx="518.14" cy="82.06" r="1.1"/><circle cx="518.16" cy="83.47" r="1.1"/><circle cx="518.31" cy="83.55" r="1.1"/><circle cx="520.09" cy="83.48" r="1.1"/><circle cx="522.56" cy="83.94" r="1.1"/><circle cx="522.64" cy="82.12" r="1.1"/><circle cx="525.25" cy="76.42" r="1.1"/><circle cx="527.04" cy="80.06" r="1.1"/><circle cx="527.62" cy="81.22" r="1.1"/><circle cx="528.5" cy="79.4" r="1.1"/><circle cx="529.15" cy="82.77" r="1.1"/><circle cx="530.73" cy="79.46" r="1.1"/><circle cx="530.93" cy="77.99" r="1.1"/><circle cx="532.15" cy="84.16" r="1.1"/><circle cx="538.18" cy="82.13" r="1.1"/><circle cx="538.27" cy="80.97" r="1.1"/><circle cx="539.97" cy="82.81" r="1.1"/><circle cx="540.13" cy="83.16" r="1.1"/><circle cx="540.99" cy="81.29" r="1.1"/><circle cx="541.34" cy="74.01" r="1.1"/><circle cx="541.74" cy="78.64" r="1.1"/><circle cx="544.8" cy="79.21" r="1.1"/><circle cx="545.2" cy="77.84" r="1.1"/><circle cx="546.04" cy="80.92" r="1.1"/><circle cx="546.08" cy="83.5" r="1.1"/><circle cx="546.14" cy="79.14" r="1.1"/><circle cx="546.74" cy="77.45" r="1.1"/><circle cx="546.88" cy="85.67" r="1.1"/><circle cx="547.45" cy="79.23" r="1.1"/><circle cx="547.51" cy="77.19" r="1.1"/><circle cx="548.16" cy="81.02" r="1.1"/><circle cx="548.54" cy="81.51" r="1.1"/><circle cx="548.86" cy="78.57" r="1.1"/><circle cx="549.71" cy="82.46" r="1.1"/><circle cx="550.98" cy="79.13" r="1.1"/><circle cx="551.35" cy="78" r="1.1"/><circle cx="551.68" cy="80.86" r="1.1"/><circle cx="552.54" cy="82.4" r="1.1"/><circle cx="553.28" cy="78.75" r="1.1"/><circle cx="554.97" cy="81.26" r="1.1"/><circle cx="558.68" cy="80.16" r="1.1"/><circle cx="559.35" cy="87.74" r="1.1"/><circle cx="560.43" cy="78.56" r="1.1"/><circle cx="561.21" cy="84" r="1.1"/><circle cx="563.41" cy="80.26" r="1.1"/><circle cx="563.48" cy="80.07" r="1.1"/><circle cx="564.03" cy="82.28" r="1.1"/><circle cx="564.48" cy="82.72" r="1.1"/><circle cx="565.22" cy="83.69" r="1.1"/><circle cx="566.09" cy="81.25" r="1.1"/><circle cx="566.14" cy="78.84" r="1.1"/><circle cx="567.73" cy="79" r="1.1"/><circle cx="567.78" cy="81.73" r="1.1"/><circle cx="568.01" cy="81.91" r="1.1"/><circle cx="569.03" cy="84.03" r="1.1"/><circle cx="570.38" cy="81.49" r="1.1"/><circle cx="570.65" cy="83.16" r="1.1"/><circle cx="571.48" cy="84.34" r="1.1"/><circle cx="571.65" cy="80.83" r="1.1"/><circle cx="573.63" cy="76.54" r="1.1"/><circle cx="575.3" cy="77.33" r="1.1"/><circle cx="577.24" cy="76.66" r="1.1"/><circle cx="577.7" cy="84.54" r="1.1"/><circle cx="577.9" cy="78.2" r="1.1"/><circle cx="578.18" cy="83.6" r="1.1"/><circle cx="578.86" cy="81.92" r="1.1"/><circle cx="579.27" cy="84.86" r="1.1"/><circle cx="579.47" cy="83.01" r="1.1"/><circle cx="580.45" cy="80.13" r="1.1"/><circle cx="580.91" cy="79.88" r="1.1"/><circle cx="581.91" cy="80.62" r="1.1"/><circle cx="583.12" cy="80.86" r="1.1"/><circle cx="584.06" cy="79.02" r="1.1"/><circle cx="584.33" cy="80.32" r="1.1"/><circle cx="585.54" cy="84.58" r="1.1"/><circle cx="586.24" cy="75.97" r="1.1"/><circle cx="586.57" cy="81.07" r="1.1"/><circle cx="586.59" cy="78.04" r="1.1"/><circle cx="586.79" cy="80.89" r="1.1"/><circle cx="587.06" cy="82.58" r="1.1"/><circle cx="587.59" cy="80.25" r="1.1"/><circle cx="592.27" cy="82.41" r="1.1"/><circle cx="593.55" cy="76.27" r="1.1"/><circle cx="593.62" cy="83.28" r="1.1"/><circle cx="593.73" cy="78.83" r="1.1"/><circle cx="594.84" cy="82.02" r="1.1"/><circle cx="595.96" cy="80.87" r="1.1"/><circle cx="596.23" cy="73.68" r="1.1"/><circle cx="597.35" cy="78.43" r="1.1"/><circle cx="599.62" cy="80.97" r="1.1"/><circle cx="599.68" cy="84.44" r="1.1"/><circle cx="599.85" cy="81.15" r="1.1"/><circle cx="600.54" cy="81.07" r="1.1"/><circle cx="601.31" cy="76.73" r="1.1"/><circle cx="601.5" cy="84.12" r="1.1"/><circle cx="601.52" cy="85.1" r="1.1"/><circle cx="602.56" cy="80.47" r="1.1"/><circle cx="603.3" cy="79.83" r="1.1"/><circle cx="603.8" cy="76.19" r="1.1"/><circle cx="604.62" cy="82.7" r="1.1"/><circle cx="605.37" cy="87.43" r="1.1"/><circle cx="608" cy="82.26" r="1.1"/><circle cx="608.3" cy="83.69" r="1.1"/><circle cx="610.15" cy="81.81" r="1.1"/><circle cx="610.26" cy="77.84" r="1.1"/><circle cx="612.51" cy="83.88" r="1.1"/><circle cx="612.98" cy="77.19" r="1.1"/><circle cx="614.72" cy="79.85" r="1.1"/><circle cx="616.22" cy="81.13" r="1.1"/><circle cx="620.33" cy="82.7" r="1.1"/><circle cx="621.67" cy="81.48" r="1.1"/><circle cx="622.32" cy="81.41" r="1.1"/><circle cx="623.38" cy="78.42" r="1.1"/><circle cx="624.04" cy="77.05" r="1.1"/><circle cx="624.13" cy="80.56" r="1.1"/><circle cx="624.62" cy="78.55" r="1.1"/><circle cx="624.65" cy="77" r="1.1"/><circle cx="624.85" cy="77.11" r="1.1"/><circle cx="626.23" cy="79.13" r="1.1"/><circle cx="626.92" cy="75.58" r="1.1"/><circle cx="629.2" cy="76.9" r="1.1"/><circle cx="630.35" cy="76.15" r="1.1"/><circle cx="632.21" cy="80.87" r="1.1"/><circle cx="632.86" cy="81.46" r="1.1"/><circle cx="633.36" cy="85.62" r="1.1"/><circle cx="633.93" cy="76.51" r="1.1"/><circle cx="635.5" cy="78.63" r="1.1"/><circle cx="635.72" cy="82.77" r="1.1"/><circle cx="637" cy="79.84" r="1.1"/><circle cx="637.14" cy="79.55" r="1.1"/><circle cx="639.67" cy="84.84" r="1.1"/><circle cx="640.32" cy="79.52" r="1.1"/><circle cx="641.5" cy="77.39" r="1.1"/><circle cx="642.17" cy="76.98" r="1.1"/><circle cx="642.8" cy="81.27" r="1.1"/><circle cx="643.59" cy="81.19" r="1.1"/><circle cx="645.06" cy="76.83" r="1.1"/><circle cx="647.13" cy="77.84" r="1.1"/><circle cx="648.17" cy="81.79" r="1.1"/><circle cx="649.9" cy="81.9" r="1.1"/><circle cx="651.03" cy="78.73" r="1.1"/><circle cx="651.19" cy="82.02" r="1.1"/><circle cx="652.17" cy="81.89" r="1.1"/><circle cx="652.28" cy="75.76" r="1.1"/><circle cx="652.9" cy="79.59" r="1.1"/><circle cx="652.95" cy="81.48" r="1.1"/><circle cx="653.59" cy="78.91" r="1.1"/><circle cx="653.63" cy="74.84" r="1.1"/><circle cx="654.17" cy="79.66" r="1.1"/><circle cx="655.18" cy="82.36" r="1.1"/><circle cx="655.31" cy="84.51" r="1.1"/><circle cx="655.65" cy="74.7" r="1.1"/><circle cx="656.63" cy="87.19" r="1.1"/><circle cx="656.78" cy="77.47" r="1.1"/><circle cx="656.85" cy="82.89" r="1.1"/><circle cx="657.83" cy="83.61" r="1.1"/><circle cx="658.61" cy="82.96" r="1.1"/><circle cx="660.43" cy="80.79" r="1.1"/><circle cx="660.61" cy="77.38" r="1.1"/><circle cx="660.92" cy="82.03" r="1.1"/><circle cx="661.35" cy="78.54" r="1.1"/><circle cx="662.76" cy="73.84" r="1.1"/><circle cx="663.55" cy="87.76" r="1.1"/><circle cx="664.28" cy="82.24" r="1.1"/><circle cx="664.46" cy="85.13" r="1.1"/><circle cx="664.49" cy="78.03" r="1.1"/><circle cx="666.58" cy="84.22" r="1.1"/><circle cx="667.19" cy="84.53" r="1.1"/><circle cx="668.58" cy="84.44" r="1.1"/><circle cx="668.91" cy="80.34" r="1.1"/><circle cx="669.25" cy="77.27" r="1.1"/><circle cx="669.42" cy="79.94" r="1.1"/><circle cx="669.72" cy="74.67" r="1.1"/><circle cx="670.19" cy="75.97" r="1.1"/><circle cx="673.11" cy="80.64" r="1.1"/><circle cx="674.18" cy="77.82" r="1.1"/><circle cx="674.4" cy="79.97" r="1.1"/><circle cx="674.61" cy="80.12" r="1.1"/><circle cx="675.1" cy="85.42" r="1.1"/></g><text x="503" y="145.2" font-size="9.2" fill="#1c1c1c" text-anchor="start" font-weight="normal" textLength="86" lengthAdjust="spacingAndGlyphs" >Completely oxidized</text><text x="0.2" y="205.1" font-size="16" font-weight="bold" fill="#000">d</text><rect x="38" y="208.1" width="184.1" height="144.8" fill="none" stroke="#8a8a8a" stroke-width="1"/><line x1="38.5" y1="352.9" x2="38.5" y2="349.9" stroke="#8a8a8a" stroke-width="1"/><text x="38.5" y="364.8" font-size="9.2" fill="#1c1c1c" text-anchor="middle" font-weight="normal" textLength="14.55" lengthAdjust="spacingAndGlyphs" >296</text><line x1="64.7" y1="352.9" x2="64.7" y2="349.9" stroke="#8a8a8a" stroke-width="1"/><text x="64.7" y="364.8" font-size="9.2" fill="#1c1c1c" text-anchor="middle" font-weight="normal" textLength="14.55" lengthAdjust="spacingAndGlyphs" >294</text><line x1="90.9" y1="352.9" x2="90.9" y2="349.9" stroke="#8a8a8a" stroke-width="1"/><text x="90.9" y="364.8" font-size="9.2" fill="#1c1c1c" text-anchor="middle" font-weight="normal" textLength="14.55" lengthAdjust="spacingAndGlyphs" >292</text><line x1="117.1" y1="352.9" x2="117.1" y2="349.9" stroke="#8a8a8a" stroke-width="1"/><text x="117.1" y="364.8" font-size="9.2" fill="#1c1c1c" text-anchor="middle" font-weight="normal" textLength="14.55" lengthAdjust="spacingAndGlyphs" >290</text><line x1="143.3" y1="352.9" x2="143.3" y2="349.9" stroke="#8a8a8a" stroke-width="1"/><text x="143.3" y="364.8" font-size="9.2" fill="#1c1c1c" text-anchor="middle" font-weight="normal" textLength="14.55" lengthAdjust="spacingAndGlyphs" >288</text><line x1="169.5" y1="352.9" x2="169.5" y2="349.9" stroke="#8a8a8a" stroke-width="1"/><text x="169.5" y="364.8" font-size="9.2" fill="#1c1c1c" text-anchor="middle" font-weight="normal" textLength="14.55" lengthAdjust="spacingAndGlyphs" >286</text><line x1="195.7" y1="352.9" x2="195.7" y2="349.9" stroke="#8a8a8a" stroke-width="1"/><text x="195.7" y="364.8" font-size="9.2" fill="#1c1c1c" text-anchor="middle" font-weight="normal" textLength="14.55" lengthAdjust="spacingAndGlyphs" >284</text><line x1="221.9" y1="352.9" x2="221.9" y2="349.9" stroke="#8a8a8a" stroke-width="1"/><text x="221.9" y="364.8" font-size="9.2" fill="#1c1c1c" text-anchor="middle" font-weight="normal" textLength="14.55" lengthAdjust="spacingAndGlyphs" >282</text><text x="130.5" y="381" font-size="10.8" fill="#1c1c1c" text-anchor="middle" font-weight="normal" textLength="97.6" lengthAdjust="spacingAndGlyphs" >Binding energy (eV)</text><text transform="translate(30.3,279.9) rotate(-90)" x="0" y="0" font-size="10.5" fill="#1c1c1c" text-anchor="middle" textLength="68.8" lengthAdjust="spacingAndGlyphs">Intensity (a.u.)</text><g fill="#fff" stroke="#9c9c9c" stroke-width="0.6" fill-opacity="0.5"><circle cx="39.49" cy="285.8" r="1.1"/><circle cx="39.51" cy="289.07" r="1.1"/><circle cx="40.04" cy="285.65" r="1.1"/><circle cx="41.13" cy="287.48" r="1.1"/><circle cx="42.62" cy="290.3" r="1.1"/><circle cx="42.89" cy="286.6" r="1.1"/><circle cx="43.46" cy="286.93" r="1.1"/><circle cx="45.02" cy="289.84" r="1.1"/><circle cx="46.14" cy="287.13" r="1.1"/><circle cx="50.12" cy="287.24" r="1.1"/><circle cx="50.48" cy="288.19" r="1.1"/><circle cx="51.14" cy="289.71" r="1.1"/><circle cx="51.58" cy="283.69" r="1.1"/><circle cx="51.65" cy="286.23" r="1.1"/><circle cx="52.79" cy="285.88" r="1.1"/><circle cx="53.44" cy="285.72" r="1.1"/><circle cx="53.69" cy="286.14" r="1.1"/><circle cx="57.54" cy="286.1" r="1.1"/><circle cx="57.65" cy="288.2" r="1.1"/><circle cx="57.83" cy="286" r="1.1"/><circle cx="57.88" cy="287.87" r="1.1"/><circle cx="58.17" cy="288.38" r="1.1"/><circle cx="58.34" cy="286.29" r="1.1"/><circle cx="60.88" cy="287.82" r="1.1"/><circle cx="62.47" cy="290.56" r="1.1"/><circle cx="64.03" cy="288.09" r="1.1"/><circle cx="64.24" cy="286.31" r="1.1"/><circle cx="64.71" cy="287.35" r="1.1"/><circle cx="65.64" cy="285.75" r="1.1"/><circle cx="67.61" cy="287.87" r="1.1"/><circle cx="68.02" cy="288.94" r="1.1"/><circle cx="68.32" cy="285.83" r="1.1"/><circle cx="68.94" cy="286.93" r="1.1"/><circle cx="71.92" cy="289.23" r="1.1"/><circle cx="73.27" cy="286.21" r="1.1"/><circle cx="73.52" cy="287.46" r="1.1"/><circle cx="73.73" cy="285.22" r="1.1"/><circle cx="73.74" cy="285.6" r="1.1"/><circle cx="74.46" cy="286.13" r="1.1"/><circle cx="74.54" cy="290.98" r="1.1"/><circle cx="74.92" cy="286.31" r="1.1"/><circle cx="74.98" cy="286.09" r="1.1"/><circle cx="75.45" cy="286.01" r="1.1"/><circle cx="78.3" cy="286.58" r="1.1"/><circle cx="79.35" cy="288.01" r="1.1"/><circle cx="79.54" cy="287.16" r="1.1"/><circle cx="80.68" cy="290.47" r="1.1"/><circle cx="80.89" cy="287.14" r="1.1"/><circle cx="81.66" cy="289.32" r="1.1"/><circle cx="82.1" cy="287.19" r="1.1"/><circle cx="84.18" cy="287.66" r="1.1"/><circle cx="85.34" cy="283.9" r="1.1"/><circle cx="85.74" cy="286.24" r="1.1"/><circle cx="85.95" cy="286.33" r="1.1"/><circle cx="87.04" cy="285.95" r="1.1"/><circle cx="87.68" cy="282.47" r="1.1"/><circle cx="88.24" cy="287.89" r="1.1"/><circle cx="89.28" cy="285.53" r="1.1"/><circle cx="89.36" cy="285.43" r="1.1"/><circle cx="90.3" cy="285.7" r="1.1"/><circle cx="91.28" cy="285.67" r="1.1"/><circle cx="92.43" cy="286.73" r="1.1"/><circle cx="93.19" cy="283.65" r="1.1"/><circle cx="93.39" cy="284.25" r="1.1"/><circle cx="94.61" cy="286.35" r="1.1"/><circle cx="94.99" cy="286.06" r="1.1"/><circle cx="95.27" cy="285.1" r="1.1"/><circle cx="96.47" cy="284.65" r="1.1"/><circle cx="96.48" cy="284.18" r="1.1"/><circle cx="97.58" cy="285.49" r="1.1"/><circle cx="97.61" cy="287.72" r="1.1"/><circle cx="97.85" cy="283.66" r="1.1"/><circle cx="99.3" cy="288.19" r="1.1"/><circle cx="99.53" cy="286.94" r="1.1"/><circle cx="100.03" cy="284.56" r="1.1"/><circle cx="100.08" cy="286.78" r="1.1"/><circle cx="100.52" cy="282.69" r="1.1"/><circle cx="101.07" cy="282.16" r="1.1"/><circle cx="102.52" cy="282.82" r="1.1"/><circle cx="102.58" cy="284.4" r="1.1"/><circle cx="103.35" cy="284.47" r="1.1"/><circle cx="103.67" cy="284.1" r="1.1"/><circle cx="105.02" cy="285.06" r="1.1"/><circle cx="105.65" cy="280.97" r="1.1"/><circle cx="106.86" cy="285.58" r="1.1"/><circle cx="107.62" cy="282.05" r="1.1"/><circle cx="108.07" cy="283.36" r="1.1"/><circle cx="108.86" cy="283.71" r="1.1"/><circle cx="108.98" cy="282.36" r="1.1"/><circle cx="110.22" cy="281.83" r="1.1"/><circle cx="111.28" cy="282.35" r="1.1"/><circle cx="112.1" cy="284.04" r="1.1"/><circle cx="113" cy="285" r="1.1"/><circle cx="113.14" cy="284.93" r="1.1"/><circle cx="114.55" cy="281.93" r="1.1"/><circle cx="115.74" cy="282.11" r="1.1"/><circle cx="116.9" cy="281.7" r="1.1"/><circle cx="118.92" cy="283.84" r="1.1"/><circle cx="119.25" cy="279.31" r="1.1"/><circle cx="120.71" cy="284.96" r="1.1"/><circle cx="121.25" cy="281.77" r="1.1"/><circle cx="122.26" cy="281.07" r="1.1"/><circle cx="122.47" cy="283.05" r="1.1"/><circle cx="122.98" cy="284.22" r="1.1"/><circle cx="122.98" cy="282.98" r="1.1"/><circle cx="123.36" cy="284.19" r="1.1"/><circle cx="123.95" cy="282.44" r="1.1"/><circle cx="126.23" cy="284.05" r="1.1"/><circle cx="126.58" cy="284.02" r="1.1"/><circle cx="127.98" cy="281.39" r="1.1"/><circle cx="128.07" cy="284.14" r="1.1"/><circle cx="129.1" cy="281.7" r="1.1"/><circle cx="129.56" cy="281.49" r="1.1"/><circle cx="131.09" cy="279.46" r="1.1"/><circle cx="132.41" cy="280.42" r="1.1"/><circle cx="132.45" cy="282.33" r="1.1"/><circle cx="136.24" cy="278.03" r="1.1"/><circle cx="136.39" cy="281.54" r="1.1"/><circle cx="136.53" cy="280.98" r="1.1"/><circle cx="136.65" cy="280.84" r="1.1"/><circle cx="137.76" cy="276.2" r="1.1"/><circle cx="139.8" cy="279.65" r="1.1"/><circle cx="140.78" cy="280.81" r="1.1"/><circle cx="147.33" cy="276.02" r="1.1"/><circle cx="151.73" cy="274.32" r="1.1"/><circle cx="152.74" cy="268.84" r="1.1"/><circle cx="153.55" cy="273.28" r="1.1"/><circle cx="154.35" cy="269.7" r="1.1"/><circle cx="155.11" cy="271.23" r="1.1"/><circle cx="155.74" cy="265.27" r="1.1"/><circle cx="156.62" cy="268.28" r="1.1"/><circle cx="156.83" cy="266.24" r="1.1"/><circle cx="157.75" cy="266.48" r="1.1"/><circle cx="158.62" cy="261.78" r="1.1"/><circle cx="158.64" cy="262.3" r="1.1"/><circle cx="159.41" cy="265.83" r="1.1"/><circle cx="160.83" cy="257.15" r="1.1"/><circle cx="162.1" cy="254.83" r="1.1"/><circle cx="162.14" cy="255.52" r="1.1"/><circle cx="162.32" cy="253.87" r="1.1"/><circle cx="163.4" cy="256.34" r="1.1"/><circle cx="164.24" cy="256.3" r="1.1"/><circle cx="166.26" cy="250.06" r="1.1"/><circle cx="166.33" cy="248.17" r="1.1"/><circle cx="168.9" cy="252.77" r="1.1"/><circle cx="169.23" cy="252.74" r="1.1"/><circle cx="169.63" cy="252.37" r="1.1"/><circle cx="170.27" cy="253.31" r="1.1"/><circle cx="170.32" cy="249.7" r="1.1"/><circle cx="170.84" cy="251.31" r="1.1"/><circle cx="171.02" cy="249.26" r="1.1"/><circle cx="171.89" cy="249.94" r="1.1"/><circle cx="174.64" cy="257.73" r="1.1"/><circle cx="175.23" cy="255.85" r="1.1"/><circle cx="175.96" cy="262.62" r="1.1"/><circle cx="176.59" cy="259.95" r="1.1"/><circle cx="177.53" cy="260.6" r="1.1"/><circle cx="178.7" cy="265.75" r="1.1"/><circle cx="179.43" cy="269.27" r="1.1"/><circle cx="180.23" cy="268.79" r="1.1"/><circle cx="181.14" cy="267.86" r="1.1"/><circle cx="183.82" cy="276.53" r="1.1"/><circle cx="183.9" cy="278.5" r="1.1"/><circle cx="184.29" cy="275.94" r="1.1"/><circle cx="184.38" cy="275.61" r="1.1"/><circle cx="185.23" cy="280.46" r="1.1"/><circle cx="186.1" cy="280.53" r="1.1"/><circle cx="186.73" cy="279.42" r="1.1"/><circle cx="187.76" cy="282.3" r="1.1"/><circle cx="189.06" cy="283.05" r="1.1"/><circle cx="190.45" cy="286.21" r="1.1"/><circle cx="190.68" cy="286.05" r="1.1"/><circle cx="192.38" cy="288.97" r="1.1"/><circle cx="193.61" cy="288.85" r="1.1"/><circle cx="194" cy="284.95" r="1.1"/><circle cx="194.33" cy="288.65" r="1.1"/><circle cx="194.39" cy="289.56" r="1.1"/><circle cx="194.67" cy="288.88" r="1.1"/><circle cx="195.27" cy="290.11" r="1.1"/><circle cx="195.31" cy="287.28" r="1.1"/><circle cx="196.06" cy="286.69" r="1.1"/><circle cx="196.37" cy="290.11" r="1.1"/><circle cx="198.36" cy="286.7" r="1.1"/><circle cx="200.64" cy="284.91" r="1.1"/><circle cx="202.25" cy="290.74" r="1.1"/><circle cx="207.21" cy="287.74" r="1.1"/><circle cx="207.32" cy="288.49" r="1.1"/><circle cx="210.13" cy="286.58" r="1.1"/><circle cx="210.48" cy="286.72" r="1.1"/><circle cx="210.86" cy="287.03" r="1.1"/><circle cx="213.15" cy="288.51" r="1.1"/><circle cx="213.77" cy="289.83" r="1.1"/><circle cx="214.87" cy="285.05" r="1.1"/><circle cx="214.9" cy="290.54" r="1.1"/><circle cx="215.1" cy="287.06" r="1.1"/><circle cx="218.99" cy="287.3" r="1.1"/><circle cx="219.29" cy="290.44" r="1.1"/><circle cx="219.39" cy="289.08" r="1.1"/><circle cx="219.4" cy="286.45" r="1.1"/><circle cx="219.88" cy="292.53" r="1.1"/></g><path d="M38,288.4 222.1,290.1" fill="none" stroke="#8a8585" stroke-width="1.4" stroke-linejoin="round" stroke-linecap="round" /><path d="M87.8,288.7 94.4,288.5 99.6,287.9 104.8,286.9 115.5,284.2 118.4,283.7 121.4,283.6 124.3,283.7 127.7,284.3 138.4,287.2 143.5,288.3 148.7,289 155.3,289.4" fill="none" stroke="#E2692B" stroke-width="1.4" stroke-linejoin="round" stroke-linecap="round" /><path d="M120.3,289 126.5,288.7 129.1,288.3 131.3,287.8 135.8,286.4 142.8,283.3 145.4,282.3 147.9,281.6 150.5,281.4 153.1,281.7 155.7,282.5 157.9,283.4 164.9,286.6 169.3,288.2 171.6,288.7 174.1,289.1 180.4,289.6" fill="none" stroke="#E5C52F" stroke-width="1.4" stroke-linejoin="round" stroke-linecap="round" /><path d="M141.7,289.2 144.6,289 147.2,288.4 149.4,287.4 151.3,286.1 152.7,284.6 154.6,282.3 159.4,274.6 161.2,272 162.3,270.8 163.1,270.2 164.2,269.6 164.9,269.5 165.7,269.7 166.8,270.2 167.5,270.8 168.6,272.1 170.1,274.1 175.2,282.5 177.1,284.9 178.6,286.4 180.4,287.7 182.6,288.7 185.2,289.4 188.2,289.6" fill="none" stroke="#3B8C84" stroke-width="1.4" stroke-linejoin="round" stroke-linecap="round" /><path d="M151.3,289.3 154.2,289.1 156.4,288.6 158.3,287.9 160.1,286.8 161.6,285.5 163.4,283.5 168.6,276.4 170.1,274.7 171.2,273.6 171.9,273.1 173,272.7 173.8,272.6 174.5,272.7 175.2,273 176,273.5 177.1,274.5 178.9,276.7 183.7,283.4 185.6,285.5 187.1,286.8 188.9,288 191.1,288.9 193.3,289.4 196.3,289.7" fill="none" stroke="#5D6AA6" stroke-width="1.4" stroke-linejoin="round" stroke-linecap="round" /><path d="M38,288.5 52,288.4 67.1,288 83.4,287.2 97,286.2 105.5,285.4 113.2,284.5 127.2,282.3 138.3,280.7 142,279.9 146.4,278.4 147.9,277.7 150.1,276.2 152.3,274.2 153.4,272.9 154.5,271.2 158.2,264.8 161.5,257.8 162.6,255.8 164.1,253.9 165.6,252.4 167.1,251.5 168.2,251.2 169.3,251.4 170.7,252.1 173,254.2 174.1,255.6 175.5,258.3 177.8,262.8 182.9,274.5 186.2,281.1 187.3,283 188.1,284 189.6,285.5 191,286.7 194.3,288.5 195.5,288.9 196.2,289 204.3,289.6 222,289.8" fill="none" stroke="#111" stroke-width="1.5" stroke-linejoin="round" stroke-linecap="round" /><g fill="#fff" stroke="#9c9c9c" stroke-width="0.6" fill-opacity="0.5"><circle cx="40.04" cy="343.07" r="1.1"/><circle cx="41.52" cy="344.28" r="1.1"/><circle cx="42.38" cy="343.31" r="1.1"/><circle cx="43.35" cy="341.95" r="1.1"/><circle cx="45.41" cy="344.81" r="1.1"/><circle cx="45.82" cy="342.39" r="1.1"/><circle cx="47.1" cy="342.36" r="1.1"/><circle cx="48.04" cy="340.69" r="1.1"/><circle cx="50.64" cy="341.52" r="1.1"/><circle cx="50.84" cy="344.09" r="1.1"/><circle cx="51.05" cy="339.99" r="1.1"/><circle cx="52.76" cy="342.57" r="1.1"/><circle cx="54.8" cy="343.72" r="1.1"/><circle cx="55.19" cy="341.69" r="1.1"/><circle cx="55.89" cy="342.7" r="1.1"/><circle cx="58.74" cy="339.8" r="1.1"/><circle cx="59.16" cy="344.1" r="1.1"/><circle cx="61.23" cy="343.36" r="1.1"/><circle cx="61.29" cy="341.8" r="1.1"/><circle cx="61.89" cy="338.1" r="1.1"/><circle cx="62.24" cy="339.31" r="1.1"/><circle cx="63.25" cy="342.74" r="1.1"/><circle cx="65.44" cy="343.61" r="1.1"/><circle cx="65.55" cy="341.04" r="1.1"/><circle cx="67.7" cy="342.29" r="1.1"/><circle cx="68.49" cy="338.8" r="1.1"/><circle cx="69.26" cy="339.4" r="1.1"/><circle cx="71.12" cy="339.39" r="1.1"/><circle cx="71.28" cy="340.12" r="1.1"/><circle cx="75.59" cy="335.78" r="1.1"/><circle cx="77.02" cy="339.98" r="1.1"/><circle cx="77.25" cy="340.64" r="1.1"/><circle cx="79.09" cy="335.94" r="1.1"/><circle cx="81.04" cy="335.41" r="1.1"/><circle cx="81.17" cy="338.47" r="1.1"/><circle cx="81.17" cy="336.66" r="1.1"/><circle cx="82.39" cy="333.51" r="1.1"/><circle cx="83.53" cy="339.2" r="1.1"/><circle cx="83.68" cy="338.02" r="1.1"/><circle cx="84.55" cy="336.85" r="1.1"/><circle cx="85.86" cy="341.48" r="1.1"/><circle cx="86.3" cy="337.91" r="1.1"/><circle cx="86.8" cy="336.29" r="1.1"/><circle cx="87.69" cy="337.8" r="1.1"/><circle cx="88.17" cy="335.72" r="1.1"/><circle cx="88.19" cy="336.22" r="1.1"/><circle cx="90.8" cy="338.14" r="1.1"/><circle cx="90.83" cy="336.45" r="1.1"/><circle cx="92.01" cy="336.55" r="1.1"/><circle cx="92.21" cy="340.36" r="1.1"/><circle cx="92.93" cy="338.84" r="1.1"/><circle cx="93.4" cy="338.71" r="1.1"/><circle cx="94.2" cy="338.15" r="1.1"/><circle cx="94.64" cy="338.03" r="1.1"/><circle cx="95.88" cy="339.67" r="1.1"/><circle cx="95.99" cy="337" r="1.1"/><circle cx="99.32" cy="339.19" r="1.1"/><circle cx="99.37" cy="334.1" r="1.1"/><circle cx="99.61" cy="335.21" r="1.1"/><circle cx="99.82" cy="333.04" r="1.1"/><circle cx="100.24" cy="334.61" r="1.1"/><circle cx="103.65" cy="333.14" r="1.1"/><circle cx="103.92" cy="334.49" r="1.1"/><circle cx="104.07" cy="330.49" r="1.1"/><circle cx="104.62" cy="330.94" r="1.1"/><circle cx="105.9" cy="328.41" r="1.1"/><circle cx="108.31" cy="323.95" r="1.1"/><circle cx="108.61" cy="322.62" r="1.1"/><circle cx="108.8" cy="324.54" r="1.1"/><circle cx="109.02" cy="320.92" r="1.1"/><circle cx="109.32" cy="323.71" r="1.1"/><circle cx="109.7" cy="322.86" r="1.1"/><circle cx="113.7" cy="315.04" r="1.1"/><circle cx="115.97" cy="311.6" r="1.1"/><circle cx="116.75" cy="310.36" r="1.1"/><circle cx="117.84" cy="315.53" r="1.1"/><circle cx="119.93" cy="308.94" r="1.1"/><circle cx="120.08" cy="314.14" r="1.1"/><circle cx="123.28" cy="312.95" r="1.1"/><circle cx="123.42" cy="311.29" r="1.1"/><circle cx="124.1" cy="310.22" r="1.1"/><circle cx="124.35" cy="314.33" r="1.1"/><circle cx="124.55" cy="315.7" r="1.1"/><circle cx="124.65" cy="310.97" r="1.1"/><circle cx="126.26" cy="313.64" r="1.1"/><circle cx="126.37" cy="316.22" r="1.1"/><circle cx="127.95" cy="317.27" r="1.1"/><circle cx="128.7" cy="321.48" r="1.1"/><circle cx="129.32" cy="317.84" r="1.1"/><circle cx="129.52" cy="320.15" r="1.1"/><circle cx="129.82" cy="317.39" r="1.1"/><circle cx="130.39" cy="324.25" r="1.1"/><circle cx="131.29" cy="320.61" r="1.1"/><circle cx="131.83" cy="318.87" r="1.1"/><circle cx="133.52" cy="325.37" r="1.1"/><circle cx="133.91" cy="325.91" r="1.1"/><circle cx="134.91" cy="330.86" r="1.1"/><circle cx="135.08" cy="326.97" r="1.1"/><circle cx="135.78" cy="328.22" r="1.1"/><circle cx="135.84" cy="329.35" r="1.1"/><circle cx="136.76" cy="331.92" r="1.1"/><circle cx="136.98" cy="329.12" r="1.1"/><circle cx="138.67" cy="332.15" r="1.1"/><circle cx="139.85" cy="331.61" r="1.1"/><circle cx="140.03" cy="330.17" r="1.1"/><circle cx="140.44" cy="330.9" r="1.1"/><circle cx="141.7" cy="330.98" r="1.1"/><circle cx="142.47" cy="329.38" r="1.1"/><circle cx="143.09" cy="333.28" r="1.1"/><circle cx="143.6" cy="328.65" r="1.1"/><circle cx="145.6" cy="333.43" r="1.1"/><circle cx="147.26" cy="333.16" r="1.1"/><circle cx="147.63" cy="331.3" r="1.1"/><circle cx="148.04" cy="330.11" r="1.1"/><circle cx="148.68" cy="331.13" r="1.1"/><circle cx="149.07" cy="332.41" r="1.1"/><circle cx="149.36" cy="332.92" r="1.1"/><circle cx="152.89" cy="332.42" r="1.1"/><circle cx="153.08" cy="333.72" r="1.1"/><circle cx="153.84" cy="331.05" r="1.1"/><circle cx="154.41" cy="332.6" r="1.1"/><circle cx="154.53" cy="329.38" r="1.1"/><circle cx="154.63" cy="333.6" r="1.1"/><circle cx="155.5" cy="332.74" r="1.1"/><circle cx="155.81" cy="331.85" r="1.1"/><circle cx="157.62" cy="335.98" r="1.1"/><circle cx="158.08" cy="335.53" r="1.1"/><circle cx="161.84" cy="332.14" r="1.1"/><circle cx="164.14" cy="338.81" r="1.1"/><circle cx="165.27" cy="336.72" r="1.1"/><circle cx="165.38" cy="341.31" r="1.1"/><circle cx="165.77" cy="344.04" r="1.1"/><circle cx="167.03" cy="339.17" r="1.1"/><circle cx="168.87" cy="340.91" r="1.1"/><circle cx="171.72" cy="340.97" r="1.1"/><circle cx="173.11" cy="342.26" r="1.1"/><circle cx="173.24" cy="342.81" r="1.1"/><circle cx="174.01" cy="344.07" r="1.1"/><circle cx="174.28" cy="340.01" r="1.1"/><circle cx="174.77" cy="344.68" r="1.1"/><circle cx="175.56" cy="340.27" r="1.1"/><circle cx="175.9" cy="342.48" r="1.1"/><circle cx="176.19" cy="344.1" r="1.1"/><circle cx="176.35" cy="343.31" r="1.1"/><circle cx="177.47" cy="340.44" r="1.1"/><circle cx="178.16" cy="340.93" r="1.1"/><circle cx="178.37" cy="341.38" r="1.1"/><circle cx="178.41" cy="342.12" r="1.1"/><circle cx="179.15" cy="344.34" r="1.1"/><circle cx="179.91" cy="340.01" r="1.1"/><circle cx="180.32" cy="343.21" r="1.1"/><circle cx="181.4" cy="343.56" r="1.1"/><circle cx="181.53" cy="343.47" r="1.1"/><circle cx="181.98" cy="343.34" r="1.1"/><circle cx="182.37" cy="345.27" r="1.1"/><circle cx="184.17" cy="343.55" r="1.1"/><circle cx="184.47" cy="344.24" r="1.1"/><circle cx="184.79" cy="343.73" r="1.1"/><circle cx="185.65" cy="346" r="1.1"/><circle cx="187.52" cy="339.49" r="1.1"/><circle cx="187.97" cy="345.25" r="1.1"/><circle cx="188.43" cy="342.5" r="1.1"/><circle cx="188.77" cy="342.49" r="1.1"/><circle cx="188.88" cy="341.26" r="1.1"/><circle cx="189.16" cy="339.66" r="1.1"/><circle cx="189.62" cy="342.37" r="1.1"/><circle cx="189.64" cy="341.82" r="1.1"/><circle cx="190.33" cy="343.99" r="1.1"/><circle cx="190.58" cy="340.47" r="1.1"/><circle cx="190.98" cy="345.72" r="1.1"/><circle cx="194.06" cy="343.79" r="1.1"/><circle cx="194.21" cy="342.86" r="1.1"/><circle cx="197.44" cy="342.15" r="1.1"/><circle cx="197.99" cy="342.03" r="1.1"/><circle cx="199.15" cy="341.45" r="1.1"/><circle cx="199.26" cy="342.5" r="1.1"/><circle cx="200.3" cy="343.52" r="1.1"/><circle cx="201.84" cy="343.23" r="1.1"/><circle cx="202.26" cy="341.01" r="1.1"/><circle cx="202.41" cy="343.08" r="1.1"/><circle cx="202.44" cy="341.95" r="1.1"/><circle cx="202.46" cy="343.85" r="1.1"/><circle cx="203.04" cy="346.93" r="1.1"/><circle cx="203.81" cy="344.71" r="1.1"/><circle cx="204.74" cy="343.03" r="1.1"/><circle cx="205.12" cy="340.68" r="1.1"/><circle cx="205.82" cy="341.06" r="1.1"/><circle cx="205.83" cy="340.57" r="1.1"/><circle cx="205.95" cy="344.92" r="1.1"/><circle cx="207.22" cy="342.24" r="1.1"/><circle cx="207.66" cy="343.73" r="1.1"/><circle cx="210.57" cy="342.52" r="1.1"/><circle cx="210.95" cy="343.8" r="1.1"/><circle cx="211.18" cy="346.16" r="1.1"/><circle cx="214.18" cy="342.41" r="1.1"/><circle cx="215.02" cy="343.03" r="1.1"/><circle cx="216.59" cy="342.19" r="1.1"/><circle cx="217.43" cy="345.21" r="1.1"/><circle cx="219.54" cy="341.77" r="1.1"/><circle cx="220.55" cy="341.57" r="1.1"/></g><path d="M38,344.6 222.1,344" fill="none" stroke="#8a8585" stroke-width="1.4" stroke-linejoin="round" stroke-linecap="round" /><path d="M49.8,344.5 55.7,344.1 60.5,343.6 64.9,342.7 74.9,340.1 77.8,339.7 80.4,339.6 83,339.7 86,340.2 95.6,342.6 100,343.4 104.8,344 110.7,344.3" fill="none" stroke="#E8354B" stroke-width="1.4" stroke-linejoin="round" stroke-linecap="round" /><path d="M122.5,344.2 125.8,344 128.4,343.7 131,343.2 133.2,342.6 135.4,341.7 137.6,340.5 144.3,336.3 146.5,335.1 149.1,334.2 151.3,334 153.5,334.3 156.1,335.3 158.3,336.5 164.5,340.4 166.8,341.6 168.6,342.3 170.8,343 173.4,343.5 176.4,343.9 179.7,344.1" fill="none" stroke="#E5C52F" stroke-width="1.4" stroke-linejoin="round" stroke-linecap="round" /><path d="M152.7,344.1 156.8,343.8 163.1,343.1 166,342.9 168.6,343 175.2,343.8 179.3,344.1" fill="none" stroke="#3B8C84" stroke-width="1.4" stroke-linejoin="round" stroke-linecap="round" /><path d="M82.6,344.4 88.2,343.9 90.4,343.6 92.2,343.1 94.1,342.4 95.6,341.7 97.4,340.6 98.9,339.4 101.5,336.9 104.4,333 106.6,329.6 112.2,320.4 114.7,316.6 116.2,315 117.7,313.8 119.2,313 120.3,312.9 121.4,313 122.9,313.6 124.3,314.8 125.8,316.4 128.4,320.1 133.9,329.5 136.5,333.5 139.1,336.9 141.7,339.4 143.1,340.6 145,341.7 146.5,342.4 148.3,343 150.2,343.5 152.4,343.8 157.5,344.1" fill="none" stroke="#E2692B" stroke-width="1.4" stroke-linejoin="round" stroke-linecap="round" /><path d="M38,344.4 45.7,344 54.6,343.1 61.2,342 74.1,339.4 78.6,338.7 81.5,338.4 92.6,337.9 96.6,337.6 97.7,337.3 99.6,336.3 101.8,334.7 102.9,333.7 104,332.4 107.7,326.9 111,321.1 113.6,317 115.4,314.5 116.5,313.6 118,312.7 119.5,312.1 120.6,311.9 121.7,312 123.2,312.4 124.7,313.3 125.8,314.2 127.2,316.1 134.2,327.2 135.7,328.8 137.9,330.5 139,331 140.1,331.3 144.2,331.8 152.3,332.4 154.2,332.7 155.6,333.1 156.7,333.8 159.7,336.3 163.7,339.1 165.6,340.1 168.9,341.4 171.1,341.9 176.3,342.6 192.5,343.8 204.3,344.2 222,344.2" fill="none" stroke="#111" stroke-width="1.5" stroke-linejoin="round" stroke-linecap="round" /><text x="143.6" y="234.8" font-size="9.5" fill="#1c1c1c" text-anchor="start" font-weight="normal" textLength="64.6" lengthAdjust="spacingAndGlyphs" >Dispersed state</text><text x="152.7" y="245.6" font-size="9.5" fill="#5B8BD0" text-anchor="start" font-weight="normal" textLength="23" lengthAdjust="spacingAndGlyphs" >OCH<tspan font-size="6" dy="2.8">3</tspan></text><text x="186.6" y="277" font-size="9.5" fill="#5D6AA6" text-anchor="start" font-weight="normal" textLength="18.7" lengthAdjust="spacingAndGlyphs" >*CH<tspan font-size="6" dy="2.8">x</tspan></text><text x="142.7" y="314.8" font-size="9.5" fill="#1c1c1c" text-anchor="start" font-weight="normal" textLength="72.2" lengthAdjust="spacingAndGlyphs" >Aggregated state</text><text x="140.2" y="326.9" font-size="9.5" fill="#E5C52F" text-anchor="start" font-weight="normal" textLength="27.7" lengthAdjust="spacingAndGlyphs" >CH<tspan font-size="6" dy="2.8">4</tspan><tspan dy="-2.8">(g)</tspan></text><text x="68.9" y="334.4" font-size="9.5" fill="#E8354B" text-anchor="start" font-weight="normal" textLength="13.5" lengthAdjust="spacingAndGlyphs" >CO</text><text x="113.8" y="303" font-size="9.5" fill="#E2692B" text-anchor="start" font-weight="normal" textLength="16.1" lengthAdjust="spacingAndGlyphs" >CO<tspan font-size="6" dy="2.8" font-style="italic">x</tspan></text><text x="241" y="204" font-size="16" font-weight="bold" fill="#000">e</text><rect x="270.3" y="207.2" width="183.9" height="145.3" fill="none" stroke="#8a8a8a" stroke-width="1"/><line x1="270.3" y1="352.5" x2="270.3" y2="349.5" stroke="#8a8a8a" stroke-width="1"/><text x="270.3" y="364.8" font-size="9.2" fill="#1c1c1c" text-anchor="middle" font-weight="normal" textLength="4.85" lengthAdjust="spacingAndGlyphs" >0</text><line x1="316.28" y1="352.5" x2="316.28" y2="349.5" stroke="#8a8a8a" stroke-width="1"/><text x="316.28" y="364.8" font-size="9.2" fill="#1c1c1c" text-anchor="middle" font-weight="normal" textLength="4.85" lengthAdjust="spacingAndGlyphs" >2</text><line x1="362.26" y1="352.5" x2="362.26" y2="349.5" stroke="#8a8a8a" stroke-width="1"/><text x="362.26" y="364.8" font-size="9.2" fill="#1c1c1c" text-anchor="middle" font-weight="normal" textLength="4.85" lengthAdjust="spacingAndGlyphs" >4</text><line x1="408.24" y1="352.5" x2="408.24" y2="349.5" stroke="#8a8a8a" stroke-width="1"/><text x="408.24" y="364.8" font-size="9.2" fill="#1c1c1c" text-anchor="middle" font-weight="normal" textLength="4.85" lengthAdjust="spacingAndGlyphs" >6</text><line x1="454.22" y1="352.5" x2="454.22" y2="349.5" stroke="#8a8a8a" stroke-width="1"/><text x="454.22" y="364.8" font-size="9.2" fill="#1c1c1c" text-anchor="middle" font-weight="normal" textLength="4.85" lengthAdjust="spacingAndGlyphs" >8</text><text x="362" y="381.3" font-size="10.8" fill="#1c1c1c" text-anchor="middle" font-weight="normal" textLength="22.8" lengthAdjust="spacingAndGlyphs" ><tspan font-style="italic">R</tspan> (Å)</text><text transform="translate(263.9,282.5) rotate(-90)" x="0" y="0" font-size="10.5" fill="#1c1c1c" text-anchor="middle" textLength="49" lengthAdjust="spacingAndGlyphs">|<tspan font-style="italic">χ</tspan>(<tspan font-style="italic">R</tspan>)| (Å<tspan font-size="7" dy="-4">−4</tspan><tspan dy="4">)</tspan></text><line x1="270.3" y1="258" x2="273.3" y2="258" stroke="#8a8a8a" stroke-width="1"/><line x1="270.3" y1="300.8" x2="273.3" y2="300.8" stroke="#8a8a8a" stroke-width="1"/><line x1="270.3" y1="343.5" x2="273.3" y2="343.5" stroke="#8a8a8a" stroke-width="1"/><path d="M270.3,255.9 275.3,256 279.8,255.8 283.3,255.3 286.7,254.2 287.7,254 288.7,254.2 291.7,256.1 292.7,256.4 293.2,256.3 293.7,255.8 295.7,253.2 296.2,252.9 296.7,252.8 297.2,253.2 297.7,253.9 299.7,257.5 300.2,258.1 300.7,258.4 301.2,258.3 301.7,257.8 302.2,257.1 303.2,255.1 305.2,250.5 306.2,248.9 306.7,248.5 307.2,248.6 307.7,249.1 309.7,253.3 310.2,254.1 310.7,254.3 311.2,254 311.7,253 312.2,251.4 315.7,237.6 317.1,232.6 318.1,230.2 319.1,228.4 320.1,227.4 321.1,226.8 321.6,226.8 322.6,227.5 323.6,228.7 324.1,229.6 326.1,235.4 329.1,245.3 330.6,249.4 331.6,251.7 333.1,254.4 334.1,255.9 335.1,256.8 336.1,257.5 337.1,258 338.1,258 339.1,257.7 342.1,255.8 343.1,255.4 343.6,255.4 344.6,255.6 347.5,257.6 348.5,257.9 349.5,258 351,257.6 354.5,255.7 355.5,255.4 356,255.4 357.5,255.9 360,257.4 361.5,258 363,258.3 365,258.2 367,257.5 368.5,256.6 370,255.2 372.5,252.7 373.5,251.9 374.5,251.4 375.5,251.3 376.5,251.6 377.5,252.3 380.9,255.7 382.9,257.2 384.9,258.1 386.9,258.4 389.9,258.5 391.4,258.3 392.4,258 393.9,257.3 397.4,254.9 398.4,254.6 398.9,254.6 399.4,254.7 400.4,255.1 403.9,257.5 404.9,257.8 405.9,258 407.4,257.8 410.3,256.5 411.8,256.1 413.3,256.4 417.3,258.1 419.3,258.4 421.3,258.4 423.3,258.2 429.8,256.7 432.3,256.5 434.8,256.7 439.7,257.9 442.7,258.4 446.7,258.6 454.2,258.7" fill="none" stroke="#a8a8a8" stroke-width="3.3" stroke-linejoin="round"/><path d="M270.3,255.9 275.3,256 279.8,255.8 283.3,255.3 286.7,254.2 287.7,254 288.7,254.2 291.7,256.1 292.7,256.4 293.2,256.3 293.7,255.8 295.7,253.2 296.2,252.9 296.7,252.8 297.2,253.2 297.7,253.9 299.7,257.5 300.2,258.1 300.7,258.4 301.2,258.3 301.7,257.8 302.2,257.1 303.2,255.1 305.2,250.5 306.2,248.9 306.7,248.5 307.2,248.6 307.7,249.1 309.7,253.3 310.2,254.1 310.7,254.3 311.2,254 311.7,253 312.2,251.4 315.7,237.6 317.1,232.6 318.1,230.2 319.1,228.4 320.1,227.4 321.1,226.8 321.6,226.8 322.6,227.5 323.6,228.7 324.1,229.6 326.1,235.4 329.1,245.3 330.6,249.4 331.6,251.7 333.1,254.4 334.1,255.9 335.1,256.8 336.1,257.5 337.1,258 338.1,258 339.1,257.7 342.1,255.8 343.1,255.4 343.6,255.4 344.6,255.6 347.5,257.6 348.5,257.9 349.5,258 351,257.6 354.5,255.7 355.5,255.4 356,255.4 357.5,255.9 360,257.4 361.5,258 363,258.3 365,258.2 367,257.5 368.5,256.6 370,255.2 372.5,252.7 373.5,251.9 374.5,251.4 375.5,251.3 376.5,251.6 377.5,252.3 380.9,255.7 382.9,257.2 384.9,258.1 386.9,258.4 389.9,258.5 391.4,258.3 392.4,258 393.9,257.3 397.4,254.9 398.4,254.6 398.9,254.6 399.4,254.7 400.4,255.1 403.9,257.5 404.9,257.8 405.9,258 407.4,257.8 410.3,256.5 411.8,256.1 413.3,256.4 417.3,258.1 419.3,258.4 421.3,258.4 423.3,258.2 429.8,256.7 432.3,256.5 434.8,256.7 439.7,257.9 442.7,258.4 446.7,258.6 454.2,258.7" fill="none" stroke="#e2e2e2" stroke-width="1.3" stroke-dasharray="1.1,0.9" stroke-linejoin="round"/><path d="M270.3,300.5 272.3,301.3 273.8,301.7 275.3,301.9 276.3,301.9 277.8,301.5 279.8,300 280.8,299.6 281.8,299.9 283.8,301.4 284.3,301.6 284.8,301.7 286.2,301.3 290.7,299.1 295.7,297.3 297.7,296.1 298.7,295.2 301.2,292.3 303.2,289.5 304.2,288.7 304.7,288.6 305.2,288.8 307.2,290.7 308.7,292.5 309.2,292.9 309.7,293 310.2,292.3 310.7,291.1 314.7,278.9 317.1,272.9 318.1,271.3 319.1,270.3 320.1,269.5 321.1,269.2 321.6,269.3 322.6,269.9 324.1,271.7 324.6,272.6 325.6,275.5 326.6,278.9 328.1,285.5 329.1,288.9 330.1,291.5 331.1,293.6 333.1,296.9 334.1,298.1 334.6,298.4 335.1,298.5 336.1,298.3 337.1,298.4 338.1,298.8 340.6,300.1 341.6,300.4 343.6,300.7 345.6,300.5 347.5,300 351,298.7 352.5,298.5 353.5,298.6 354.5,298.8 357.5,299.9 359.5,300.5 361.5,300.6 363.5,300.5 365,300.2 366.5,299.6 368,298.7 371.5,296.3 372.5,295.9 373.5,295.8 374.5,296 375.5,296.5 378.9,299 380.4,299.8 382.4,300.4 384.4,300.7 386.9,300.6 388.9,300.2 390.4,299.6 393.4,298 394.9,297.6 395.9,297.7 396.9,298.1 399.4,299.5 400.9,300.1 402.4,300.5 404.4,300.7 412.8,300.8 417.3,300.7 419.8,300.4 425.3,299.2 427.3,299 429.3,299.1 434.8,300.3 437.8,300.6 439.7,300.7 441.7,300.5 446.7,299.6 448.7,299.4 450.7,299.5 454.2,300.2" fill="none" stroke="#a8a8a8" stroke-width="3.3" stroke-linejoin="round"/><path d="M270.3,300.5 272.3,301.3 273.8,301.7 275.3,301.9 276.3,301.9 277.8,301.5 279.8,300 280.8,299.6 281.8,299.9 283.8,301.4 284.3,301.6 284.8,301.7 286.2,301.3 290.7,299.1 295.7,297.3 297.7,296.1 298.7,295.2 301.2,292.3 303.2,289.5 304.2,288.7 304.7,288.6 305.2,288.8 307.2,290.7 308.7,292.5 309.2,292.9 309.7,293 310.2,292.3 310.7,291.1 314.7,278.9 317.1,272.9 318.1,271.3 319.1,270.3 320.1,269.5 321.1,269.2 321.6,269.3 322.6,269.9 324.1,271.7 324.6,272.6 325.6,275.5 326.6,278.9 328.1,285.5 329.1,288.9 330.1,291.5 331.1,293.6 333.1,296.9 334.1,298.1 334.6,298.4 335.1,298.5 336.1,298.3 337.1,298.4 338.1,298.8 340.6,300.1 341.6,300.4 343.6,300.7 345.6,300.5 347.5,300 351,298.7 352.5,298.5 353.5,298.6 354.5,298.8 357.5,299.9 359.5,300.5 361.5,300.6 363.5,300.5 365,300.2 366.5,299.6 368,298.7 371.5,296.3 372.5,295.9 373.5,295.8 374.5,296 375.5,296.5 378.9,299 380.4,299.8 382.4,300.4 384.4,300.7 386.9,300.6 388.9,300.2 390.4,299.6 393.4,298 394.9,297.6 395.9,297.7 396.9,298.1 399.4,299.5 400.9,300.1 402.4,300.5 404.4,300.7 412.8,300.8 417.3,300.7 419.8,300.4 425.3,299.2 427.3,299 429.3,299.1 434.8,300.3 437.8,300.6 439.7,300.7 441.7,300.5 446.7,299.6 448.7,299.4 450.7,299.5 454.2,300.2" fill="none" stroke="#e2e2e2" stroke-width="1.3" stroke-dasharray="1.1,0.9" stroke-linejoin="round"/><path d="M270.3,343.9 290.2,343.4 291.7,343.5 295.7,344 297.2,344.1 298.7,343.6 301.7,341.8 302.7,341.3 303.7,341.2 306.2,341.2 306.7,341.1 307.7,340.5 308.7,339.5 310.2,337.6 311.2,335.4 313.2,329.1 315.7,318.6 317.1,313.9 318.1,311.3 319.1,309.5 320.6,307.6 321.1,307.2 321.6,307 322.1,307 323.1,307.4 324.1,308.3 325.1,310.2 327.6,317.2 330.1,325.8 332.6,333.6 334.1,337.2 335.1,339.1 335.6,339.7 336.6,340.4 337.6,340.5 338.1,340.3 339.6,339.1 340.6,338.8 341.1,338.9 342.1,339.5 344.1,341.6 345.1,342.5 346.6,343.1 347.5,343.1 348.5,342.9 349.5,342.6 352,341.5 353.5,341.1 355,341.4 358.5,342.9 360.5,343.1 362,342.9 363.5,342.3 365.5,341.1 369,338.4 370.5,337.8 371.5,337.7 373,338 376,339.8 377.5,340.4 378.9,340.3 381.4,339.7 382.9,339.9 383.9,340.4 386.9,342.4 387.9,342.8 388.9,343 390.4,342.9 393.4,342.2 394.9,342 396.4,342.1 400.4,343.2 402.4,343.4 404.4,343.3 408.3,342.6 409.8,342.5 411.3,342.7 414.8,343.3 417.8,343.5 454.2,343.6" fill="none" stroke="#a8a8a8" stroke-width="3.3" stroke-linejoin="round"/><path d="M270.3,343.9 290.2,343.4 291.7,343.5 295.7,344 297.2,344.1 298.7,343.6 301.7,341.8 302.7,341.3 303.7,341.2 306.2,341.2 306.7,341.1 307.7,340.5 308.7,339.5 310.2,337.6 311.2,335.4 313.2,329.1 315.7,318.6 317.1,313.9 318.1,311.3 319.1,309.5 320.6,307.6 321.1,307.2 321.6,307 322.1,307 323.1,307.4 324.1,308.3 325.1,310.2 327.6,317.2 330.1,325.8 332.6,333.6 334.1,337.2 335.1,339.1 335.6,339.7 336.6,340.4 337.6,340.5 338.1,340.3 339.6,339.1 340.6,338.8 341.1,338.9 342.1,339.5 344.1,341.6 345.1,342.5 346.6,343.1 347.5,343.1 348.5,342.9 349.5,342.6 352,341.5 353.5,341.1 355,341.4 358.5,342.9 360.5,343.1 362,342.9 363.5,342.3 365.5,341.1 369,338.4 370.5,337.8 371.5,337.7 373,338 376,339.8 377.5,340.4 378.9,340.3 381.4,339.7 382.9,339.9 383.9,340.4 386.9,342.4 387.9,342.8 388.9,343 390.4,342.9 393.4,342.2 394.9,342 396.4,342.1 400.4,343.2 402.4,343.4 404.4,343.3 408.3,342.6 409.8,342.5 411.3,342.7 414.8,343.3 417.8,343.5 454.2,343.6" fill="none" stroke="#e2e2e2" stroke-width="1.3" stroke-dasharray="1.1,0.9" stroke-linejoin="round"/><path d="M270.3,255.9 275.3,256 279.8,255.8 283.3,255.3 286.7,254.2 287.7,254 288.7,254.2 291.7,256.1 292.7,256.4 293.2,256.3 293.7,255.8 295.7,253.2 296.2,252.9 296.7,252.8 297.2,253.2 297.7,253.9 299.7,257.5 300.2,258.1 300.7,258.4 301.2,258.3 301.7,257.8 302.2,257.1 303.2,255.1 305.2,250.5 306.2,248.9 306.7,248.5 307.2,248.6 307.7,249.1 309.7,253.3 310.2,254.1 310.7,254.3 311.2,254 311.7,253 312.2,251.4 315.7,237.6 317.1,232.6 318.1,230.2 319.1,228.4 320.1,227.4 321.1,226.8 321.6,226.8 322.6,227.5 323.6,228.7 324.1,229.6 326.1,235.4 329.1,245.3 330.6,249.4 331.6,251.7 333.1,254.4 334.6,256.4 336.6,257.9 337.6,258.3 344.6,258.6 454.2,258.7" fill="none" stroke="#E2692B" stroke-width="1.8" stroke-linejoin="round" stroke-linecap="round" /><path d="M270.3,300.5 272.3,301.3 273.8,301.7 275.3,301.9 276.3,301.9 277.8,301.5 279.8,300 280.8,299.6 281.8,299.9 283.8,301.4 284.3,301.6 284.8,301.7 286.2,301.3 290.7,299.1 295.7,297.3 297.7,296.1 298.7,295.2 301.2,292.3 303.2,289.5 304.2,288.7 304.7,288.6 305.2,288.8 307.2,290.7 308.7,292.5 309.2,292.9 309.7,293 310.2,292.3 310.7,291.1 314.7,278.9 317.1,272.9 318.1,271.3 319.1,270.3 320.1,269.5 321.1,269.2 321.6,269.3 322.6,269.9 324.1,271.7 324.6,272.6 325.6,275.5 326.6,278.9 328.6,287.4 329.6,290.3 331.1,293.8 333.6,298.5 334.6,299.9 335.1,300.3 337.6,300.7 340.1,300.8 454.2,300.8" fill="none" stroke="#6DBE4B" stroke-width="1.8" stroke-linejoin="round" stroke-linecap="round" /><path d="M270.3,343.9 290.2,343.4 291.7,343.5 295.7,344 297.2,344.1 298.7,343.6 301.7,341.8 302.7,341.3 303.7,341.2 306.2,341.2 306.7,341.1 307.7,340.5 308.7,339.5 310.2,337.6 311.2,335.4 313.2,329.1 315.7,318.6 317.1,313.9 318.1,311.3 319.1,309.5 320.6,307.6 321.1,307.2 321.6,307 322.1,307 323.1,307.4 324.1,308.3 324.6,309.1 325.6,311.4 327.6,317.2 329.6,324.2 332.1,332.2 334.1,337.3 335.1,339.3 336.1,340.8 337.6,342.3 338.6,342.8 340.6,343.3 342.1,343.4 454.2,343.6" fill="none" stroke="#3B8C84" stroke-width="1.8" stroke-linejoin="round" stroke-linecap="round" /><text x="272.6" y="216.8" font-size="9.5" fill="#1c1c1c" text-anchor="start" font-weight="normal" textLength="74" lengthAdjust="spacingAndGlyphs" >No magnetic field</text><text x="327.9" y="231.6" font-size="9.5" fill="#E2692B" text-anchor="start" font-weight="normal" textLength="45.5" lengthAdjust="spacingAndGlyphs" >H<tspan font-size="6" dy="2.8">2</tspan><tspan dy="-2.8">O</tspan><tspan font-size="6" dy="2.8">2</tspan><tspan dy="-2.8"> + CH</tspan><tspan font-size="6" dy="2.8">4</tspan></text><text x="338.4" y="286.3" font-size="9.5" fill="#6DBE4B" text-anchor="start" font-weight="normal" textLength="19.5" lengthAdjust="spacingAndGlyphs" >H<tspan font-size="6" dy="2.8">2</tspan><tspan dy="-2.8">O</tspan><tspan font-size="6" dy="2.8">2</tspan></text><text x="335.8" y="321.8" font-size="9.5" fill="#2F6A90" text-anchor="start" font-weight="normal" textLength="30.6" lengthAdjust="spacingAndGlyphs" >Pristine</text><text x="335.8" y="331.6" font-size="9.5" fill="#2F6A90" text-anchor="start" font-weight="normal" textLength="30.6" lengthAdjust="spacingAndGlyphs" >sample</text><text x="469.8" y="204.5" font-size="16" font-weight="bold" fill="#000">f</text><rect x="492.6" y="207.5" width="184" height="145.4" fill="none" stroke="#8a8a8a" stroke-width="1"/><line x1="492.6" y1="352.9" x2="492.6" y2="349.9" stroke="#8a8a8a" stroke-width="1"/><text x="492.6" y="364.8" font-size="9.2" fill="#1c1c1c" text-anchor="middle" font-weight="normal" textLength="4.85" lengthAdjust="spacingAndGlyphs" >0</text><line x1="538.6" y1="352.9" x2="538.6" y2="349.9" stroke="#8a8a8a" stroke-width="1"/><text x="538.6" y="364.8" font-size="9.2" fill="#1c1c1c" text-anchor="middle" font-weight="normal" textLength="12.1" lengthAdjust="spacingAndGlyphs" >0.5</text><line x1="584.6" y1="352.9" x2="584.6" y2="349.9" stroke="#8a8a8a" stroke-width="1"/><text x="584.6" y="364.8" font-size="9.2" fill="#1c1c1c" text-anchor="middle" font-weight="normal" textLength="12.1" lengthAdjust="spacingAndGlyphs" >1.0</text><line x1="630.6" y1="352.9" x2="630.6" y2="349.9" stroke="#8a8a8a" stroke-width="1"/><text x="630.6" y="364.8" font-size="9.2" fill="#1c1c1c" text-anchor="middle" font-weight="normal" textLength="12.1" lengthAdjust="spacingAndGlyphs" >1.5</text><line x1="676.6" y1="352.9" x2="676.6" y2="349.9" stroke="#8a8a8a" stroke-width="1"/><text x="676.6" y="364.8" font-size="9.2" fill="#1c1c1c" text-anchor="middle" font-weight="normal" textLength="12.1" lengthAdjust="spacingAndGlyphs" >2.0</text><text x="584.6" y="381.3" font-size="10.8" fill="#1c1c1c" text-anchor="middle" font-weight="normal" textLength="22.8" lengthAdjust="spacingAndGlyphs" ><tspan font-style="italic">R</tspan> (Å)</text><text transform="translate(484.9,282.4) rotate(-90)" x="0" y="0" font-size="10.5" fill="#1c1c1c" text-anchor="middle" textLength="49" lengthAdjust="spacingAndGlyphs">|<tspan font-style="italic">χ</tspan>(<tspan font-style="italic">R</tspan>)| (Å<tspan font-size="7" dy="-4">−4</tspan><tspan dy="4">)</tspan></text><line x1="492.6" y1="270" x2="495.6" y2="270" stroke="#8a8a8a" stroke-width="1"/><line x1="492.6" y1="318.9" x2="495.6" y2="318.9" stroke="#8a8a8a" stroke-width="1"/><path d="M492.6,270.5 517.5,270.5 530.5,270.3 535.5,270.1 546,269.2 559.9,266.8 563.4,266.4 565.9,266.2 568.9,266.5 574.4,267.9 575.9,268.5 580.4,270.9 581.9,271.4 582.9,271.4 583.9,271.2 585.3,270.5 589.3,267.8 590.8,267.1 594.3,265.8 596.3,265.3 598.3,264.9 599.8,264.8 601.3,265 602.8,265.5 608.3,268.2 609.8,269.4 612.8,272.8 614.3,274.3 615.8,275.2 616.8,275.3 617.3,275.1 618.3,274.1 621.7,268.3 625.7,262.7 627.7,260.2 628.7,259.2 631.7,257.1 633.7,256 635.2,255.5 636.7,255.3 637.7,255.4 639.2,255.7 640.7,256.2 643.2,257.4 647.7,259.9 653.2,263.9 655.2,265.1 656.2,265.6 657.2,265.8 657.7,265.7 658.6,265.2 660.1,264 662.1,261.8 663.1,260.6 664.6,258.2 671.1,246.1 676.6,234.9" fill="none" stroke="#E2692B" stroke-width="1.5" stroke-linejoin="round" stroke-linecap="round" /><path d="M492.6,318.9 497.1,317.1 499.6,316.3 502.1,315.7 504.6,315.4 506.1,315.4 508.1,315.7 510.1,316.3 516.5,318.3 518.5,318.8 520.5,318.9 522,318.8 524,318.3 531.5,315.5 533.5,315 535,314.8 536.5,314.8 538.5,315.1 540.5,315.6 547,317.5 548.9,317.9 550.4,318 552.4,317.9 554.4,317.6 561.9,315.8 565.4,315.2 568.4,315.3 574.4,316.3 576.4,316.3 577.9,316.1 580.9,315.3 587.3,312.6 589.8,311.7 592.8,311.1 600.8,309.7 603.3,309.1 605.3,308.3 607.8,307 610.8,305 615.8,301.4 619.8,298.1 621.7,296.7 626.2,294.2 627.7,293.6 629.2,293.3 630.2,293.3 631.7,293.5 633.2,293.9 635.2,294.7 638.2,296.2 642.2,299 647.2,302 649.7,303.1 650.7,303.2 651.7,303.2 653.2,302.5 655.2,301.2 657.2,299.5 658.6,297.8 666.1,287.9 669.6,283.1 673.1,277.7 676.6,271.9" fill="none" stroke="#6DBE4B" stroke-width="1.5" stroke-linejoin="round" stroke-linecap="round" /><line x1="638" y1="248.6" x2="638" y2="264.8" stroke="#E2692B" stroke-width="1.6" stroke-dasharray="3.4,2.2"/><line x1="629.5" y1="285.6" x2="629.5" y2="301.8" stroke="#6DBE4B" stroke-width="1.6" stroke-dasharray="3.4,2.2"/><line x1="621.5" y1="228.4" x2="650" y2="228.4" stroke="#111" stroke-width="1.5"/><path d="M648,225.2 L655,228.4 L648,231.6 Z" fill="#111"/><text x="623.2" y="223.5" font-size="9.5" fill="#1c1c1c" text-anchor="start" font-weight="normal" textLength="27.6" lengthAdjust="spacingAndGlyphs" >Δ 0.1 Å</text><text x="498.7" y="218.5" font-size="9.5" fill="#1c1c1c" text-anchor="start" font-weight="normal" textLength="33" lengthAdjust="spacingAndGlyphs" >C1 path</text><text x="498.7" y="229.6" font-size="9.5" fill="#1c1c1c" text-anchor="start" font-weight="normal" textLength="66" lengthAdjust="spacingAndGlyphs" >Fe–O peak shift</text><text x="0.3" y="402.3" font-size="16" font-weight="bold" fill="#000">g</text><rect x="38" y="402" width="183.8" height="144.9" fill="none" stroke="#8a8a8a" stroke-width="1"/><line x1="38" y1="546.9" x2="38" y2="543.9" stroke="#8a8a8a" stroke-width="1"/><text x="38" y="559.8" font-size="9.2" fill="#1c1c1c" text-anchor="middle" font-weight="normal" textLength="4.85" lengthAdjust="spacingAndGlyphs" >0</text><line x1="83.96" y1="546.9" x2="83.96" y2="543.9" stroke="#8a8a8a" stroke-width="1"/><text x="83.96" y="559.8" font-size="9.2" fill="#1c1c1c" text-anchor="middle" font-weight="normal" textLength="4.85" lengthAdjust="spacingAndGlyphs" >2</text><line x1="129.92" y1="546.9" x2="129.92" y2="543.9" stroke="#8a8a8a" stroke-width="1"/><text x="129.92" y="559.8" font-size="9.2" fill="#1c1c1c" text-anchor="middle" font-weight="normal" textLength="4.85" lengthAdjust="spacingAndGlyphs" >4</text><line x1="175.88" y1="546.9" x2="175.88" y2="543.9" stroke="#8a8a8a" stroke-width="1"/><text x="175.88" y="559.8" font-size="9.2" fill="#1c1c1c" text-anchor="middle" font-weight="normal" textLength="4.85" lengthAdjust="spacingAndGlyphs" >6</text><line x1="221.84" y1="546.9" x2="221.84" y2="543.9" stroke="#8a8a8a" stroke-width="1"/><text x="221.84" y="559.8" font-size="9.2" fill="#1c1c1c" text-anchor="middle" font-weight="normal" textLength="4.85" lengthAdjust="spacingAndGlyphs" >8</text><text x="130.1" y="576.8" font-size="10.8" fill="#1c1c1c" text-anchor="middle" font-weight="normal" textLength="22.8" lengthAdjust="spacingAndGlyphs" ><tspan font-style="italic">R</tspan> (Å)</text><text transform="translate(28.4,475) rotate(-90)" x="0" y="0" font-size="10.5" fill="#1c1c1c" text-anchor="middle" textLength="48.4" lengthAdjust="spacingAndGlyphs">|<tspan font-style="italic">χ</tspan>(<tspan font-style="italic">R</tspan>)| (Å<tspan font-size="7" dy="-4">−4</tspan><tspan dy="4">)</tspan></text><line x1="38" y1="457.5" x2="41" y2="457.5" stroke="#8a8a8a" stroke-width="1"/><line x1="38" y1="496" x2="41" y2="496" stroke="#8a8a8a" stroke-width="1"/><line x1="38" y1="538.4" x2="41" y2="538.4" stroke="#8a8a8a" stroke-width="1"/><path d="M38,457.4 52.9,457.4 61.9,456.9 63.9,456.3 67.9,454.6 69.9,453.6 70.9,452.8 72.9,450.8 73.4,450.5 73.9,450.4 74.4,450.6 74.9,451.1 76.4,453 77.4,454.8 77.8,455.4 78.3,455.2 78.8,453 79.8,446.8 82.8,430.4 84.8,421 85.8,417.8 86.8,415.5 87.3,414.8 88.3,413.8 88.8,413.5 89.3,413.4 89.8,413.5 90.3,413.8 91.3,414.8 92.3,416.4 93.3,418.7 94.8,423.1 98.3,435 100.8,441.7 103.3,447.5 105.2,451.5 107.7,455.8 108.7,456.8 109.7,457.3 110.7,457.4 111.7,457.3 112.7,456.9 113.7,456.2 115.2,454.3 118.7,448.6 119.7,447.4 120.7,446.8 121.2,446.8 121.7,446.9 122.7,447.8 123.7,449.1 126.7,454.1 127.7,455.3 128.7,456.3 129.7,456.8 130.6,456.8 131.6,456.4 132.1,456 133.1,454.7 133.6,453.8 135.1,450 136.6,444.8 139.1,434.7 140.1,431.4 141.1,429.3 141.6,428.8 142.1,428.7 142.6,429 143.1,429.7 144.1,432 145.1,435.4 148.1,447.2 149.6,451.3 150.1,452.3 151.1,453.6 154.6,456.7 156.1,457.7 157.5,458 158.5,457.8 159.5,457.4 161,456.4 164,453.5 165,452.9 165.5,452.8 166,452.8 167,453.2 170.5,456.4 171.5,457 172.5,457.3 173.5,457.3 174.5,457 175.5,456.4 178.5,454.1 179.5,453.6 180.5,453.5 181,453.6 182,454 184.9,456.3 186.4,457.2 187.4,457.7 188.9,458 190.4,458.1 192.4,457.9 197.4,456.7 199.4,456.5 200.9,456.6 204.9,457.3 206.9,457.3 211.3,456.3 212.8,456.1 214.8,456.3 219.3,457.7 221.8,458.1" fill="none" stroke="#a8a8a8" stroke-width="3.3" stroke-linejoin="round"/><path d="M38,457.4 52.9,457.4 61.9,456.9 63.9,456.3 67.9,454.6 69.9,453.6 70.9,452.8 72.9,450.8 73.4,450.5 73.9,450.4 74.4,450.6 74.9,451.1 76.4,453 77.4,454.8 77.8,455.4 78.3,455.2 78.8,453 79.8,446.8 82.8,430.4 84.8,421 85.8,417.8 86.8,415.5 87.3,414.8 88.3,413.8 88.8,413.5 89.3,413.4 89.8,413.5 90.3,413.8 91.3,414.8 92.3,416.4 93.3,418.7 94.8,423.1 98.3,435 100.8,441.7 103.3,447.5 105.2,451.5 107.7,455.8 108.7,456.8 109.7,457.3 110.7,457.4 111.7,457.3 112.7,456.9 113.7,456.2 115.2,454.3 118.7,448.6 119.7,447.4 120.7,446.8 121.2,446.8 121.7,446.9 122.7,447.8 123.7,449.1 126.7,454.1 127.7,455.3 128.7,456.3 129.7,456.8 130.6,456.8 131.6,456.4 132.1,456 133.1,454.7 133.6,453.8 135.1,450 136.6,444.8 139.1,434.7 140.1,431.4 141.1,429.3 141.6,428.8 142.1,428.7 142.6,429 143.1,429.7 144.1,432 145.1,435.4 148.1,447.2 149.6,451.3 150.1,452.3 151.1,453.6 154.6,456.7 156.1,457.7 157.5,458 158.5,457.8 159.5,457.4 161,456.4 164,453.5 165,452.9 165.5,452.8 166,452.8 167,453.2 170.5,456.4 171.5,457 172.5,457.3 173.5,457.3 174.5,457 175.5,456.4 178.5,454.1 179.5,453.6 180.5,453.5 181,453.6 182,454 184.9,456.3 186.4,457.2 187.4,457.7 188.9,458 190.4,458.1 192.4,457.9 197.4,456.7 199.4,456.5 200.9,456.6 204.9,457.3 206.9,457.3 211.3,456.3 212.8,456.1 214.8,456.3 219.3,457.7 221.8,458.1" fill="none" stroke="#e2e2e2" stroke-width="1.3" stroke-dasharray="1.1,0.9" stroke-linejoin="round"/><path d="M38,496 51.4,495.8 59.9,495.4 64.4,494.4 65.4,494.6 68.4,496.1 69.4,496.3 69.9,496.2 70.9,495.5 73.4,492.6 74.4,491.8 74.9,491.9 75.4,492.4 76.9,494.7 77.4,495.2 77.8,495.4 78.3,494.9 78.8,492.9 79.8,487.3 81.8,477.8 83.3,469.9 85.3,460.8 86.3,457.6 87.3,455.3 88.3,454.1 88.8,453.6 89.3,453.5 89.8,453.7 90.3,454 91.8,455.7 92.8,457.4 93.8,459.7 95.8,466.8 98.3,477.2 100.3,483.7 102.3,489.1 104.2,493.8 105.7,496.6 106.2,497.2 106.7,497.5 108.2,497.8 109.2,497.9 110.2,497.7 111.7,497.1 113.7,495.8 117.2,492.1 118.2,491.2 119.2,490.6 120.2,490.4 121.2,490.7 122.2,491.3 126.2,495.5 127.7,496.6 128.7,497.1 129.7,497.2 130.6,497.1 131.6,496.5 132.6,495.5 133.1,494.8 134.6,491.7 136.1,487.1 139.6,474 140.6,471.4 141.1,470.6 141.6,470.1 142.1,470 142.6,470.3 143.1,470.9 144.1,473.2 145.1,476.4 148.1,487.9 149.6,492.3 150.6,494.4 151.6,495.9 152.6,496.9 153.6,497.4 154.6,497.6 155.6,497.6 156.5,497.2 157.5,496.5 159,494.8 162,490.3 163,489.4 163.5,489.2 164,489.1 164.5,489.2 165.5,490 166.5,491.3 168.5,494.4 170,496.2 171,497 172.5,497.5 173.5,497.5 174.5,497.3 175.5,496.8 178.5,495 179.5,494.6 180.5,494.5 182,494.9 185.4,497 186.9,497.7 187.9,497.9 189.4,498.2 191.9,498.1 193.4,497.8 194.9,497.3 199.4,494.6 200.4,494.2 201.4,494.1 202.4,494.3 203.4,494.7 206.9,496.9 208.4,497.6 210.8,498.1 213.3,498.2 214.8,498 215.8,497.6 217.3,496.8 220.3,494.6 221.3,494.3 221.8,494.3" fill="none" stroke="#a8a8a8" stroke-width="3.3" stroke-linejoin="round"/><path d="M38,496 51.4,495.8 59.9,495.4 64.4,494.4 65.4,494.6 68.4,496.1 69.4,496.3 69.9,496.2 70.9,495.5 73.4,492.6 74.4,491.8 74.9,491.9 75.4,492.4 76.9,494.7 77.4,495.2 77.8,495.4 78.3,494.9 78.8,492.9 79.8,487.3 81.8,477.8 83.3,469.9 85.3,460.8 86.3,457.6 87.3,455.3 88.3,454.1 88.8,453.6 89.3,453.5 89.8,453.7 90.3,454 91.8,455.7 92.8,457.4 93.8,459.7 95.8,466.8 98.3,477.2 100.3,483.7 102.3,489.1 104.2,493.8 105.7,496.6 106.2,497.2 106.7,497.5 108.2,497.8 109.2,497.9 110.2,497.7 111.7,497.1 113.7,495.8 117.2,492.1 118.2,491.2 119.2,490.6 120.2,490.4 121.2,490.7 122.2,491.3 126.2,495.5 127.7,496.6 128.7,497.1 129.7,497.2 130.6,497.1 131.6,496.5 132.6,495.5 133.1,494.8 134.6,491.7 136.1,487.1 139.6,474 140.6,471.4 141.1,470.6 141.6,470.1 142.1,470 142.6,470.3 143.1,470.9 144.1,473.2 145.1,476.4 148.1,487.9 149.6,492.3 150.6,494.4 151.6,495.9 152.6,496.9 153.6,497.4 154.6,497.6 155.6,497.6 156.5,497.2 157.5,496.5 159,494.8 162,490.3 163,489.4 163.5,489.2 164,489.1 164.5,489.2 165.5,490 166.5,491.3 168.5,494.4 170,496.2 171,497 172.5,497.5 173.5,497.5 174.5,497.3 175.5,496.8 178.5,495 179.5,494.6 180.5,494.5 182,494.9 185.4,497 186.9,497.7 187.9,497.9 189.4,498.2 191.9,498.1 193.4,497.8 194.9,497.3 199.4,494.6 200.4,494.2 201.4,494.1 202.4,494.3 203.4,494.7 206.9,496.9 208.4,497.6 210.8,498.1 213.3,498.2 214.8,498 215.8,497.6 217.3,496.8 220.3,494.6 221.3,494.3 221.8,494.3" fill="none" stroke="#e2e2e2" stroke-width="1.3" stroke-dasharray="1.1,0.9" stroke-linejoin="round"/><path d="M38,538.4 57.4,538.2 58.9,537.9 62.9,536.7 64.4,536.5 65.4,536.7 67.4,537.6 68.4,537.6 69.4,537.2 72.4,534.8 73.4,534.3 73.9,534.3 74.4,534.6 75.9,536.1 76.4,536.4 76.9,536.4 77.4,535.3 78.3,530.8 81.3,513 82.3,507.9 83.3,503.8 85.3,497.5 85.8,496.4 86.8,495.1 87.3,494.6 87.8,494.4 88.3,494.5 88.8,494.7 89.8,495.8 90.8,497.5 91.3,498.7 94.3,507.7 98.8,522.4 101.8,530.5 102.8,532.5 104.2,534.9 105.7,536.3 106.7,536.8 107.2,536.8 107.7,536.7 108.7,536 109.2,535.4 110.7,532.8 112.7,528.2 113.7,526.2 114.7,524.8 115.2,524.3 116.2,523.6 121.7,521.7 124.2,521.3 126.2,521.4 127.7,521.7 128.7,522 130.6,523.1 131.6,523.5 132.6,523.4 133.1,523 134.1,521.7 135.1,519.4 136.1,516.2 138.6,506.5 139.6,503.5 140.1,502.6 140.6,502 141.1,501.9 141.6,502.2 142.1,503 143.1,505.9 146.6,521.4 147.6,524.7 148.1,525.9 148.6,526.7 149.1,527.1 149.6,527.1 150.1,526.8 150.6,526.3 152.6,523.4 153.1,522.9 153.6,522.8 154.1,523 154.6,523.4 155.6,525.3 158.5,533.1 159.5,534.8 160,535.2 160.5,535.4 161,535.4 161.5,535.2 162.5,534.1 163.5,532.3 166.5,526 167.5,524.7 168,524.4 168.5,524.3 169,524.5 169.5,524.9 170.5,526.4 173.5,532.8 174.5,534.6 175.5,535.7 176.5,536.2 177,536.2 178,535.8 180.5,533.5 181.5,532.9 182,532.8 182.4,532.8 183.4,533.3 185.9,535.4 186.9,535.7 187.4,535.6 187.9,535.4 188.9,534.7 191.4,532.1 192.4,531.5 192.9,531.4 193.4,531.4 194.4,531.9 195.4,532.9 197.4,535.2 198.4,536 198.9,536.3 199.9,536.4 200.9,536.1 201.9,535.5 204.4,533.5 205.4,533.1 205.9,533.1 206.4,533.2 207.4,533.6 210.8,536.8 211.8,537.6 213.3,538.2 214.3,538.3 215.3,538 216.3,537.5 217.3,536.6 219.3,534.3 220.3,533.4 221.3,532.9 221.8,532.9" fill="none" stroke="#a8a8a8" stroke-width="3.3" stroke-linejoin="round"/><path d="M38,538.4 57.4,538.2 58.9,537.9 62.9,536.7 64.4,536.5 65.4,536.7 67.4,537.6 68.4,537.6 69.4,537.2 72.4,534.8 73.4,534.3 73.9,534.3 74.4,534.6 75.9,536.1 76.4,536.4 76.9,536.4 77.4,535.3 78.3,530.8 81.3,513 82.3,507.9 83.3,503.8 85.3,497.5 85.8,496.4 86.8,495.1 87.3,494.6 87.8,494.4 88.3,494.5 88.8,494.7 89.8,495.8 90.8,497.5 91.3,498.7 94.3,507.7 98.8,522.4 101.8,530.5 102.8,532.5 104.2,534.9 105.7,536.3 106.7,536.8 107.2,536.8 107.7,536.7 108.7,536 109.2,535.4 110.7,532.8 112.7,528.2 113.7,526.2 114.7,524.8 115.2,524.3 116.2,523.6 121.7,521.7 124.2,521.3 126.2,521.4 127.7,521.7 128.7,522 130.6,523.1 131.6,523.5 132.6,523.4 133.1,523 134.1,521.7 135.1,519.4 136.1,516.2 138.6,506.5 139.6,503.5 140.1,502.6 140.6,502 141.1,501.9 141.6,502.2 142.1,503 143.1,505.9 146.6,521.4 147.6,524.7 148.1,525.9 148.6,526.7 149.1,527.1 149.6,527.1 150.1,526.8 150.6,526.3 152.6,523.4 153.1,522.9 153.6,522.8 154.1,523 154.6,523.4 155.6,525.3 158.5,533.1 159.5,534.8 160,535.2 160.5,535.4 161,535.4 161.5,535.2 162.5,534.1 163.5,532.3 166.5,526 167.5,524.7 168,524.4 168.5,524.3 169,524.5 169.5,524.9 170.5,526.4 173.5,532.8 174.5,534.6 175.5,535.7 176.5,536.2 177,536.2 178,535.8 180.5,533.5 181.5,532.9 182,532.8 182.4,532.8 183.4,533.3 185.9,535.4 186.9,535.7 187.4,535.6 187.9,535.4 188.9,534.7 191.4,532.1 192.4,531.5 192.9,531.4 193.4,531.4 194.4,531.9 195.4,532.9 197.4,535.2 198.4,536 198.9,536.3 199.9,536.4 200.9,536.1 201.9,535.5 204.4,533.5 205.4,533.1 205.9,533.1 206.4,533.2 207.4,533.6 210.8,536.8 211.8,537.6 213.3,538.2 214.3,538.3 215.3,538 216.3,537.5 217.3,536.6 219.3,534.3 220.3,533.4 221.3,532.9 221.8,532.9" fill="none" stroke="#e2e2e2" stroke-width="1.3" stroke-dasharray="1.1,0.9" stroke-linejoin="round"/><path d="M38,457.4 52.9,457.4 61.9,456.9 63.9,456.3 67.9,454.6 69.9,453.6 70.9,452.8 72.9,450.8 73.4,450.5 73.9,450.4 74.4,450.6 74.9,451.1 76.4,453 77.4,454.8 77.8,455.4 78.3,455.2 78.8,453 79.8,446.8 82.8,430.4 84.8,421 85.8,417.8 86.8,415.5 87.3,414.8 88.3,413.8 88.8,413.5 89.3,413.4 89.8,413.5 90.3,413.8 91.3,414.8 92.3,416.4 93.3,418.7 94.8,423.1 97.3,431.9 98.8,436.4 101.3,442.9 103.7,448.5 105.2,451.5 107.7,455.8 108.7,456.9 110.2,457.7 112.7,458.3 114.2,458.4 221.8,458.3" fill="none" stroke="#E2692B" stroke-width="1.8" stroke-linejoin="round" stroke-linecap="round" /><path d="M38,496 51.4,495.8 59.9,495.4 64.4,494.4 65.4,494.6 68.4,496.1 69.4,496.3 69.9,496.2 70.9,495.5 73.4,492.6 74.4,491.8 74.9,491.9 75.4,492.4 76.9,494.7 77.4,495.2 77.8,495.4 78.3,494.9 78.8,492.9 79.8,487.3 81.8,477.8 83.3,469.9 85.3,460.8 86.3,457.6 87.3,455.3 88.3,454.1 88.8,453.6 89.3,453.5 89.8,453.7 90.3,454 91.8,455.7 92.8,457.4 93.8,459.7 95.8,466.8 98.3,477.2 100.3,483.7 102.3,489.1 104.2,493.8 105.7,496.6 106.2,497.3 106.7,497.5 108.7,498.1 110.2,498.2 221.8,498.3" fill="none" stroke="#6DBE4B" stroke-width="1.8" stroke-linejoin="round" stroke-linecap="round" /><path d="M38,538.4 57.4,538.2 58.9,537.9 62.9,536.7 64.4,536.5 65.4,536.7 67.4,537.6 68.4,537.6 69.4,537.2 72.4,534.8 73.4,534.3 73.9,534.3 74.4,534.6 75.9,536.1 76.4,536.4 76.9,536.4 77.4,535.3 78.3,530.8 81.3,513 82.3,507.9 83.3,503.8 85.3,497.5 85.8,496.4 86.8,495.1 87.3,494.6 87.8,494.4 88.3,494.5 88.8,494.7 89.8,495.8 90.8,497.5 91.3,498.7 94.3,507.7 98.8,522.4 101.8,530.5 102.8,532.6 104.2,534.9 106.2,537 107.2,537.6 109.7,538.4 111.2,538.5 145.6,538.8 221.8,538.9" fill="none" stroke="#3B8C84" stroke-width="1.8" stroke-linejoin="round" stroke-linecap="round" /><text x="40.8" y="409.9" font-size="9.5" fill="#1c1c1c" text-anchor="start" font-weight="normal" textLength="70" lengthAdjust="spacingAndGlyphs" >In magnetic field</text><text x="98.5" y="421.9" font-size="9.5" fill="#E2692B" text-anchor="start" font-weight="normal" textLength="45.3" lengthAdjust="spacingAndGlyphs" >H<tspan font-size="6" dy="2.8">2</tspan><tspan dy="-2.8">O</tspan><tspan font-size="6" dy="2.8">2</tspan><tspan dy="-2.8"> + CH</tspan><tspan font-size="6" dy="2.8">4</tspan></text><text x="104" y="479.6" font-size="9.5" fill="#6DBE4B" text-anchor="start" font-weight="normal" textLength="19.5" lengthAdjust="spacingAndGlyphs" >H<tspan font-size="6" dy="2.8">2</tspan><tspan dy="-2.8">O</tspan><tspan font-size="6" dy="2.8">2</tspan></text><text x="98.1" y="511.8" font-size="9.5" fill="#2F6A90" text-anchor="start" font-weight="normal" textLength="30.6" lengthAdjust="spacingAndGlyphs" >Pristine</text><text x="98.1" y="521.6" font-size="9.5" fill="#2F6A90" text-anchor="start" font-weight="normal" textLength="30.6" lengthAdjust="spacingAndGlyphs" >sample</text><text x="241.3" y="402.7" font-size="16" font-weight="bold" fill="#000">h</text><rect x="269.6" y="402" width="183.9" height="144.9" fill="none" stroke="#8a8a8a" stroke-width="1"/><line x1="269.6" y1="546.9" x2="269.6" y2="543.9" stroke="#8a8a8a" stroke-width="1"/><text x="269.6" y="559.8" font-size="9.2" fill="#1c1c1c" text-anchor="middle" font-weight="normal" textLength="4.85" lengthAdjust="spacingAndGlyphs" >0</text><line x1="315.58" y1="546.9" x2="315.58" y2="543.9" stroke="#8a8a8a" stroke-width="1"/><line x1="361.55" y1="546.9" x2="361.55" y2="543.9" stroke="#8a8a8a" stroke-width="1"/><text x="361.55" y="559.8" font-size="9.2" fill="#1c1c1c" text-anchor="middle" font-weight="normal" textLength="12.1" lengthAdjust="spacingAndGlyphs" >1.0</text><line x1="407.53" y1="546.9" x2="407.53" y2="543.9" stroke="#8a8a8a" stroke-width="1"/><line x1="453.5" y1="546.9" x2="453.5" y2="543.9" stroke="#8a8a8a" stroke-width="1"/><text x="453.5" y="559.8" font-size="9.2" fill="#1c1c1c" text-anchor="middle" font-weight="normal" textLength="12.1" lengthAdjust="spacingAndGlyphs" >2.0</text><text x="361.5" y="576.8" font-size="10.8" fill="#1c1c1c" text-anchor="middle" font-weight="normal" textLength="22.8" lengthAdjust="spacingAndGlyphs" ><tspan font-style="italic">R</tspan> (Å)</text><text transform="translate(261.7,475.3) rotate(-90)" x="0" y="0" font-size="10.5" fill="#1c1c1c" text-anchor="middle" textLength="48" lengthAdjust="spacingAndGlyphs">|<tspan font-style="italic">χ</tspan>(<tspan font-style="italic">R</tspan>)| (Å<tspan font-size="7" dy="-4">−4</tspan><tspan dy="4">)</tspan></text><line x1="269.6" y1="468.3" x2="272.6" y2="468.3" stroke="#8a8a8a" stroke-width="1"/><line x1="269.6" y1="523.8" x2="272.6" y2="523.8" stroke="#8a8a8a" stroke-width="1"/><path d="M269.6,468.3 277.6,467.4 283.1,467.2 287,467.3 295.5,468.4 299,468.6 303,468.4 311.5,467.5 315.5,467.2 319.4,467.3 328.9,468.4 332.9,468.6 336.9,468.4 344.9,467.4 347.8,467.2 350.3,467.2 355.3,467.7 357.8,467.7 360.8,467 367.3,464.7 373.3,463 376.3,462.4 378.2,462.1 379.7,462.1 385.2,462.6 387.7,462.6 390.7,462.4 393.7,462 394.7,461.6 396.2,460.8 402.2,456.5 406.7,454.1 410.1,452.6 411.6,452.2 413.1,452.1 414.1,452.2 415.6,452.6 418.6,454.3 423.1,457.3 424.6,458.6 427.6,461.7 429.1,463 430.6,463.9 431.1,464.1 431.6,464 432.6,463.3 434.1,461.1 436.1,457.1 438.1,452.5 440,446.5 445,429.9 449.5,416.8 453.5,405.7" fill="none" stroke="#E2692B" stroke-width="1.5" stroke-linejoin="round" stroke-linecap="round" /><path d="M269.6,523.8 277.6,524.1 283.1,524.2 301.5,523.6 315.5,524.1 319.9,524.1 324.9,523.7 336.4,522.1 341.4,521.8 345.9,522.2 355.8,523.9 359.8,524.1 361.8,523.9 364.3,523.4 374.3,520.6 376.3,520.2 378.2,520.1 380.2,520.3 382.2,521 388.2,523.8 390.7,524.7 392.7,525.2 394.2,525.2 395.7,524.9 397.2,524.1 402.7,519.8 407.6,516.9 410.1,515.7 412.1,515.3 413.6,515.4 415.1,515.9 425.6,521.1 427.1,521.6 428.1,521.8 428.6,521.6 429.6,520.5 430.6,518.7 431.6,516.3 435.1,507.2 439.5,493.3 444.5,479.2 449,467.6 453.5,456.9" fill="none" stroke="#6DBE4B" stroke-width="1.5" stroke-linejoin="round" stroke-linecap="round" /><line x1="413.6" y1="442.1" x2="413.6" y2="527.2" stroke="#E2692B" stroke-width="1.6" stroke-dasharray="4,2.6"/><text x="275.8" y="414.8" font-size="9.5" fill="#1c1c1c" text-anchor="start" font-weight="normal" textLength="33" lengthAdjust="spacingAndGlyphs" >C2 path</text><text x="275.8" y="427.9" font-size="9.5" fill="#1c1c1c" text-anchor="start" font-weight="normal" textLength="78" lengthAdjust="spacingAndGlyphs" >Weak Fe–O/C peak</text><text x="469.6" y="402.7" font-size="16" font-weight="bold" fill="#000">i</text><rect x="492.6" y="401.9" width="184" height="145.3" fill="none" stroke="#8a8a8a" stroke-width="1"/><line x1="492.6" y1="547.2" x2="492.6" y2="544.2" stroke="#8a8a8a" stroke-width="1"/><text x="492.6" y="559.8" font-size="9.2" fill="#1c1c1c" text-anchor="middle" font-weight="normal" textLength="4.85" lengthAdjust="spacingAndGlyphs" >0</text><line x1="529.4" y1="547.2" x2="529.4" y2="544.2" stroke="#8a8a8a" stroke-width="1"/><line x1="566.2" y1="547.2" x2="566.2" y2="544.2" stroke="#8a8a8a" stroke-width="1"/><text x="566.2" y="559.8" font-size="9.2" fill="#1c1c1c" text-anchor="middle" font-weight="normal" textLength="12.1" lengthAdjust="spacingAndGlyphs" >1.0</text><line x1="603" y1="547.2" x2="603" y2="544.2" stroke="#8a8a8a" stroke-width="1"/><line x1="639.8" y1="547.2" x2="639.8" y2="544.2" stroke="#8a8a8a" stroke-width="1"/><text x="639.8" y="559.8" font-size="9.2" fill="#1c1c1c" text-anchor="middle" font-weight="normal" textLength="12.1" lengthAdjust="spacingAndGlyphs" >2.0</text><text x="584.6" y="576.8" font-size="10.8" fill="#1c1c1c" text-anchor="middle" font-weight="normal" textLength="22.8" lengthAdjust="spacingAndGlyphs" ><tspan font-style="italic">R</tspan> (Å)</text><text transform="translate(484.3,474.7) rotate(-90)" x="0" y="0" font-size="10.5" fill="#1c1c1c" text-anchor="middle" textLength="48" lengthAdjust="spacingAndGlyphs">|<tspan font-style="italic">χ</tspan>(<tspan font-style="italic">R</tspan>)| (Å<tspan font-size="7" dy="-4">−4</tspan><tspan dy="4">)</tspan></text><line x1="492.6" y1="458.9" x2="495.6" y2="458.9" stroke="#8a8a8a" stroke-width="1"/><line x1="492.6" y1="485.9" x2="495.6" y2="485.9" stroke="#8a8a8a" stroke-width="1"/><line x1="492.6" y1="510.6" x2="495.6" y2="510.6" stroke="#8a8a8a" stroke-width="1"/><line x1="492.6" y1="533.7" x2="495.6" y2="533.7" stroke="#8a8a8a" stroke-width="1"/><clipPath id="ci"><rect x="492.6" y="401.9" width="184.0" height="145.30000000000007"/></clipPath><g clip-path="url(#ci)"><path d="M492.6,533.5 540.5,533.6 543.5,533.8 550.4,534.6 553.9,534.7 557.4,534.4 570.4,532.5 574.4,532.2 577.4,532.4 583.9,533.4 586.8,533.5 588.8,533.3 590.8,532.9 597.3,531.1 602.8,529.4 604.8,529 606.3,528.8 608.3,529 611.3,529.7 615.3,531.4 616.3,531.6 616.8,531.5 617.3,531.2 618.3,530.2 620.3,527.7 621.7,525.5 623.2,522.9 626.7,516.1 634.2,499.9 639.2,490.3 642.2,485 644.7,481.4 648.2,477.4 650.2,475.7 651.2,475.2 652.2,474.9 653.7,475 654.7,475.3 655.7,475.8 658.2,477.6 660.1,479.8 662.1,482.6 668.6,492.2 672.6,498.6 676.6,505.2" fill="none" stroke="#E2692B" stroke-width="1.5" stroke-linejoin="round" stroke-linecap="round" /><path d="M492.6,510.4 502.1,510.8 509.1,510.9 525,510.2 529.5,510.3 539,511 545,511.1 553.4,511.2 560.9,510.9 562.9,510.7 565.4,510.1 571.4,508.6 576.9,507 579.4,506.5 581.9,506.5 586.8,507.2 588.3,507.2 589.3,507 591.8,506.2 596.8,504 602.3,501.9 604.8,501.1 607.3,500.7 608.3,500.7 609.8,501.1 614.3,503.1 615.8,504.1 618.8,506.5 620.3,507.4 621.3,507.7 622.2,507.5 622.7,507.2 623.7,506.2 625.2,503.9 629.2,495.9 632.7,489.4 639.2,476.7 644.7,466.5 647.7,461.3 649.7,458.3 653.2,454 654.2,453 655.2,452.3 656.7,451.7 657.7,451.6 658.6,451.8 660.6,452.6 663.6,454.5 665.6,456.3 668.1,459.2 671.1,463.3 673.6,467.5 676.6,473.3" fill="none" stroke="#6DBE4B" stroke-width="1.5" stroke-linejoin="round" stroke-linecap="round" /><path d="M492.6,485.5 542,485.3 559.4,484.5 587.8,483.6 590.8,483.3 592.8,482.6 598.8,479.3 604.8,476.3 606.8,475.4 608.3,475 609.8,474.9 611.3,475.1 615.3,476 618.8,477 619.8,477.2 620.3,477.2 621.3,476.4 622.2,475.1 625.2,469.6 626.7,466.3 631.7,453.2 638.7,432.6 645.2,414.1 646.7,410.6 649.2,405.8 650.7,403.2 652.2,401.1 653.2,400.2 654.2,399.6 655.2,399.4 656.7,399.4 658.2,399.6 660.1,400.2 662.1,401.1 663.6,401.9 667.1,404.4 670.6,407.6 673.1,410.8 676.6,416.4" fill="none" stroke="#3E8A85" stroke-width="1.5" stroke-linejoin="round" stroke-linecap="round" /><path d="M492.6,457.9 531.5,458.3 544,458.2 546.5,458 549.9,457.2 556.9,454.8 559.9,454 564.9,453.1 578.9,450.8 583.4,449.9 586.8,448.9 589.8,447.9 591.8,446.9 598.3,442.5 602.3,440.4 604.3,439.5 605.8,439 607.3,438.7 608.3,438.6 609.8,438.9 611.3,439.6 613.3,440.9 616.3,443.2 620.3,447.6 623.2,452.3 624.2,453.6 624.7,454.1 625.2,454.2 625.7,453.8 626.7,452 628.7,446.2 629.7,441.3 632.2,424.8 632.7,422 633.7,417.7 635.7,411.3 640.2,398.9 642.7,392.6 645.7,386.6 647.7,383 649.2,380.7 650.7,379 651.7,378.2 653.2,377.6 654.2,377.4 655.2,377.4 656.2,377.6 657.7,378.3 658.6,378.9 660.1,380.1 662.1,382.5 664.6,386.2 669.6,394.8 673.1,401.5 676.6,408.7" fill="none" stroke="#56649E" stroke-width="1.5" stroke-linejoin="round" stroke-linecap="round" /></g><line x1="493.40000000000003" y1="458.9" x2="623.7" y2="458.9" stroke="#7a7a7a" stroke-width="1.5" stroke-dasharray="5.4,2.8"/><line x1="493.40000000000003" y1="485.9" x2="623.7" y2="485.9" stroke="#7a7a7a" stroke-width="1.5" stroke-dasharray="5.4,2.8"/><line x1="493.40000000000003" y1="510.6" x2="623.7" y2="510.6" stroke="#7a7a7a" stroke-width="1.5" stroke-dasharray="5.4,2.8"/><line x1="493.40000000000003" y1="533.7" x2="623.7" y2="533.7" stroke="#7a7a7a" stroke-width="1.5" stroke-dasharray="5.4,2.8"/><text x="495.4" y="413.9" font-size="9.5" fill="#1c1c1c" text-anchor="start" font-weight="normal" textLength="70" lengthAdjust="spacingAndGlyphs" >In magnetic field</text><text x="495.4" y="427.4" font-size="9.5" fill="#1c1c1c" text-anchor="start" font-weight="normal" textLength="36" lengthAdjust="spacingAndGlyphs" >CO peak</text><text x="495.4" y="451.7" font-size="9.5" fill="#3C5E98" text-anchor="start" font-weight="normal" textLength="69.5" lengthAdjust="spacingAndGlyphs" >CH<tspan font-size="6" dy="2.8">4</tspan><tspan dy="-2.8"> + CO (5 bar)</tspan></text><text x="495.4" y="479.1" font-size="9.5" fill="#4A948E" text-anchor="start" font-weight="normal" textLength="68.5" lengthAdjust="spacingAndGlyphs" >CH<tspan font-size="6" dy="2.8">4</tspan><tspan dy="-2.8"> + CO (1 bar)</tspan></text><text x="495.4" y="503.2" font-size="9.5" fill="#6DBE4B" text-anchor="start" font-weight="normal" textLength="46.3" lengthAdjust="spacingAndGlyphs" >CH<tspan font-size="6" dy="2.8">4</tspan><tspan dy="-2.8"> + H</tspan><tspan font-size="6" dy="2.8">2</tspan><tspan dy="-2.8">O</tspan><tspan font-size="6" dy="2.8">2</tspan></text><text x="634" y="519.3" font-size="9.5" fill="#E2692B" text-anchor="start" font-weight="normal" textLength="30.6" lengthAdjust="spacingAndGlyphs" >Pristine</text><text x="634" y="530.1" font-size="9.5" fill="#E2692B" text-anchor="start" font-weight="normal" textLength="30.6" lengthAdjust="spacingAndGlyphs" >sample</text><defs>
<radialGradient id="gY" cx="0.46" cy="0.4" r="0.62" fx="0.42" fy="0.3">
<stop offset="0" stop-color="#F9DE98"/><stop offset="0.55" stop-color="#F4CC68"/><stop offset="0.9" stop-color="#EDBE57"/><stop offset="1" stop-color="#E6B24C"/></radialGradient>
<radialGradient id="gB" cx="0.45" cy="0.42" r="0.62" fx="0.36" fy="0.3">
<stop offset="0" stop-color="#EAF8FF"/><stop offset="0.18" stop-color="#8ED2F4"/><stop offset="0.55" stop-color="#3A9FDC"/><stop offset="0.88" stop-color="#1F74B4"/><stop offset="1" stop-color="#1A5F93"/></radialGradient>
<radialGradient id="gR" cx="0.42" cy="0.38" r="0.66" fx="0.36" fy="0.3">
<stop offset="0" stop-color="#F59A9F"/><stop offset="0.35" stop-color="#D9353F"/><stop offset="1" stop-color="#9A1622"/></radialGradient>
<radialGradient id="gC" cx="0.42" cy="0.38" r="0.66" fx="0.36" fy="0.3">
<stop offset="0" stop-color="#A8A8A8"/><stop offset="0.4" stop-color="#5E5E5E"/><stop offset="1" stop-color="#2E2E2E"/></radialGradient>
<radialGradient id="gH" cx="0.42" cy="0.38" r="0.66" fx="0.36" fy="0.3">
<stop offset="0" stop-color="#E6F5FF"/><stop offset="0.4" stop-color="#A3D3EE"/><stop offset="1" stop-color="#5FA3CC"/></radialGradient>
<linearGradient id="gArr" x1="0" y1="0" x2="1" y2="0"><stop offset="0" stop-color="#52C0F2"/><stop offset="1" stop-color="#1372C4"/></linearGradient>
<linearGradient id="gGr" x1="0" y1="0" x2="1" y2="0"><stop offset="0" stop-color="#22946F"/><stop offset="1" stop-color="#45CFA0"/></linearGradient>
<filter id="blur6" x="-20%" y="-60%" width="140%" height="220%"><feGaussianBlur stdDeviation="6"/></filter>
<filter id="glow" x="-20%" y="-20%" width="140%" height="140%"><feGaussianBlur stdDeviation="1.2"/></filter>
<radialGradient id="gBg" cx="0.5" cy="0.62" r="0.5"><stop offset="0" stop-color="#f0f0f0"/><stop offset="0.6" stop-color="#f6f6f6"/><stop offset="1" stop-color="#ffffff"/></radialGradient>
</defs><text x="-0.8" y="592.3" font-size="16" font-weight="bold" fill="#000">j</text><rect x="438" y="586" width="218" height="166" fill="url(#gBg)"/><ellipse cx="188" cy="739" rx="125" ry="8" fill="#c4beb6" opacity="0.55" filter="url(#blur6)"/><ellipse cx="545" cy="745" rx="90" ry="7" fill="#c4beb6" opacity="0.5" filter="url(#blur6)"/><path d="M100,668 L200,663 L286,665 L300,684 L303,712 L295,722 L200,724 L92,722 L76,714 L78,700 Z" fill="#D9A446"/><circle cx="215.7" cy="661.4" r="6.9" fill="url(#gY)" stroke="#DDA850" stroke-width="0.45"/><circle cx="165.6" cy="661.9" r="6.7" fill="url(#gY)" stroke="#DDA850" stroke-width="0.45"/><circle cx="177.5" cy="662.3" r="6.8" fill="url(#gY)" stroke="#DDA850" stroke-width="0.45"/><circle cx="189.7" cy="662.6" r="6.6" fill="url(#gY)" stroke="#DDA850" stroke-width="0.45"/><circle cx="138.7" cy="663.2" r="6.6" fill="url(#gY)" stroke="#DDA850" stroke-width="0.45"/><circle cx="277.1" cy="663.2" r="6.8" fill="url(#gY)" stroke="#DDA850" stroke-width="0.45"/><circle cx="104.1" cy="663.3" r="6.5" fill="url(#gY)" stroke="#DDA850" stroke-width="0.45"/><circle cx="250.2" cy="663.6" r="6.5" fill="url(#gY)" stroke="#DDA850" stroke-width="0.45"/><circle cx="91.1" cy="663.7" r="7" fill="url(#gY)" stroke="#DDA850" stroke-width="0.45"/><circle cx="152.8" cy="663.9" r="6.6" fill="url(#gY)" stroke="#DDA850" stroke-width="0.45"/><circle cx="227.7" cy="664.1" r="6" fill="url(#gY)" stroke="#DDA850" stroke-width="0.45"/><circle cx="287.5" cy="664.2" r="6.8" fill="url(#gY)" stroke="#DDA850" stroke-width="0.45"/><circle cx="129.4" cy="664.3" r="6.1" fill="url(#gY)" stroke="#DDA850" stroke-width="0.45"/><circle cx="201.4" cy="664.3" r="6.4" fill="url(#gY)" stroke="#DDA850" stroke-width="0.45"/><circle cx="117.2" cy="664.4" r="6.3" fill="url(#gY)" stroke="#DDA850" stroke-width="0.45"/><circle cx="237.2" cy="665.4" r="7" fill="url(#gB)"/><circle cx="264.2" cy="667.2" r="7.1" fill="url(#gY)" stroke="#DDA850" stroke-width="0.45"/><circle cx="155.9" cy="667.3" r="7.3" fill="url(#gY)" stroke="#DDA850" stroke-width="0.45"/><circle cx="123.4" cy="669.4" r="6.6" fill="url(#gB)"/><circle cx="136.6" cy="669.8" r="7.4" fill="url(#gY)" stroke="#DDA850" stroke-width="0.45"/><circle cx="245.6" cy="671.1" r="7.5" fill="url(#gY)" stroke="#DDA850" stroke-width="0.45"/><circle cx="218.3" cy="671.9" r="8.2" fill="url(#gY)" stroke="#DDA850" stroke-width="0.45"/><circle cx="108.8" cy="672.2" r="7" fill="url(#gY)" stroke="#DDA850" stroke-width="0.45"/><circle cx="136.5" cy="672.5" r="7" fill="url(#gY)" stroke="#DDA850" stroke-width="0.45"/><circle cx="243.5" cy="672.6" r="7.5" fill="url(#gY)" stroke="#DDA850" stroke-width="0.45"/><circle cx="176" cy="672.8" r="7.7" fill="url(#gY)" stroke="#DDA850" stroke-width="0.45"/><circle cx="189.7" cy="673.3" r="7.2" fill="url(#gY)" stroke="#DDA850" stroke-width="0.45"/><circle cx="204.4" cy="673.4" r="7.6" fill="url(#gY)" stroke="#DDA850" stroke-width="0.45"/><circle cx="149.2" cy="673.5" r="7.5" fill="url(#gY)" stroke="#DDA850" stroke-width="0.45"/><circle cx="271.2" cy="673.5" r="7.1" fill="url(#gY)" stroke="#DDA850" stroke-width="0.45"/><circle cx="175.3" cy="673.6" r="7.4" fill="url(#gY)" stroke="#DDA850" stroke-width="0.45"/><circle cx="93.8" cy="674.2" r="7.6" fill="url(#gY)" stroke="#DDA850" stroke-width="0.45"/><circle cx="257.3" cy="674.4" r="8.3" fill="url(#gY)" stroke="#DDA850" stroke-width="0.45"/><circle cx="284.9" cy="674.5" r="7.3" fill="url(#gY)" stroke="#DDA850" stroke-width="0.45"/><circle cx="230.1" cy="675.1" r="7.5" fill="url(#gY)" stroke="#DDA850" stroke-width="0.45"/><circle cx="163.8" cy="675.6" r="7.3" fill="url(#gY)" stroke="#DDA850" stroke-width="0.45"/><circle cx="143.6" cy="677.5" r="8" fill="url(#gY)" stroke="#DDA850" stroke-width="0.45"/><circle cx="143.3" cy="678" r="8" fill="url(#gY)" stroke="#DDA850" stroke-width="0.45"/><circle cx="195.1" cy="680.3" r="8.2" fill="url(#gY)" stroke="#DDA850" stroke-width="0.45"/><circle cx="291.4" cy="680.8" r="6.6" fill="url(#gB)"/><circle cx="215.9" cy="681.6" r="9" fill="url(#gY)" stroke="#DDA850" stroke-width="0.45"/><circle cx="235.3" cy="681.8" r="8.3" fill="url(#gY)" stroke="#DDA850" stroke-width="0.45"/><circle cx="200.6" cy="682.3" r="8.3" fill="url(#gY)" stroke="#DDA850" stroke-width="0.45"/><circle cx="143.1" cy="682.4" r="8.8" fill="url(#gY)" stroke="#DDA850" stroke-width="0.45"/><circle cx="276.3" cy="682.6" r="9.3" fill="url(#gY)" stroke="#DDA850" stroke-width="0.45"/><circle cx="155.1" cy="683.3" r="8" fill="url(#gY)" stroke="#DDA850" stroke-width="0.45"/><circle cx="246.3" cy="683.3" r="8.5" fill="url(#gY)" stroke="#DDA850" stroke-width="0.45"/><circle cx="111.1" cy="683.4" r="8.6" fill="url(#gY)" stroke="#DDA850" stroke-width="0.45"/><circle cx="171" cy="683.5" r="8.1" fill="url(#gY)" stroke="#DDA850" stroke-width="0.45"/><circle cx="261" cy="683.7" r="9" fill="url(#gY)" stroke="#DDA850" stroke-width="0.45"/><circle cx="129" cy="683.8" r="7.6" fill="url(#gY)" stroke="#DDA850" stroke-width="0.45"/><circle cx="185.7" cy="684.1" r="8.7" fill="url(#gY)" stroke="#DDA850" stroke-width="0.45"/><circle cx="99.3" cy="684.6" r="8.3" fill="url(#gY)" stroke="#DDA850" stroke-width="0.45"/><circle cx="104.9" cy="684.6" r="8.5" fill="url(#gY)" stroke="#DDA850" stroke-width="0.45"/><circle cx="83.7" cy="684.9" r="8.4" fill="url(#gY)" stroke="#DDA850" stroke-width="0.45"/><circle cx="230.5" cy="685" r="8.8" fill="url(#gY)" stroke="#DDA850" stroke-width="0.45"/><circle cx="163.8" cy="685.2" r="7.2" fill="url(#gB)"/><circle cx="138.5" cy="685.9" r="8.6" fill="url(#gY)" stroke="#DDA850" stroke-width="0.45"/><circle cx="97.7" cy="690.2" r="8.9" fill="url(#gY)" stroke="#DDA850" stroke-width="0.45"/><circle cx="234.8" cy="690.6" r="8.5" fill="url(#gY)" stroke="#DDA850" stroke-width="0.45"/><circle cx="120.2" cy="691" r="8.7" fill="url(#gY)" stroke="#DDA850" stroke-width="0.45"/><circle cx="105.4" cy="692" r="8.5" fill="url(#gY)" stroke="#DDA850" stroke-width="0.45"/><circle cx="299.1" cy="692" r="8.7" fill="url(#gY)" stroke="#DDA850" stroke-width="0.45"/><circle cx="248.9" cy="692.3" r="8.8" fill="url(#gY)" stroke="#DDA850" stroke-width="0.45"/><circle cx="137.1" cy="692.4" r="9.2" fill="url(#gY)" stroke="#DDA850" stroke-width="0.45"/><circle cx="184.5" cy="692.6" r="9" fill="url(#gY)" stroke="#DDA850" stroke-width="0.45"/><circle cx="73.3" cy="692.9" r="7.6" fill="url(#gB)"/><circle cx="203.6" cy="693.4" r="9.5" fill="url(#gY)" stroke="#DDA850" stroke-width="0.45"/><circle cx="151.6" cy="693.5" r="9.7" fill="url(#gY)" stroke="#DDA850" stroke-width="0.45"/><circle cx="169.5" cy="694.1" r="9.4" fill="url(#gY)" stroke="#DDA850" stroke-width="0.45"/><circle cx="266.2" cy="694.3" r="8.8" fill="url(#gY)" stroke="#DDA850" stroke-width="0.45"/><circle cx="87.9" cy="694.4" r="9" fill="url(#gY)" stroke="#DDA850" stroke-width="0.45"/><circle cx="255" cy="694.9" r="9.3" fill="url(#gY)" stroke="#DDA850" stroke-width="0.45"/><circle cx="216.8" cy="695.2" r="8.1" fill="url(#gY)" stroke="#DDA850" stroke-width="0.45"/><circle cx="282.4" cy="695.4" r="9.1" fill="url(#gY)" stroke="#DDA850" stroke-width="0.45"/><circle cx="271.3" cy="698.8" r="9.6" fill="url(#gY)" stroke="#DDA850" stroke-width="0.45"/><circle cx="76.5" cy="701.5" r="9.7" fill="url(#gY)" stroke="#DDA850" stroke-width="0.45"/><circle cx="287" cy="701.6" r="10.1" fill="url(#gY)" stroke="#DDA850" stroke-width="0.45"/><circle cx="253.4" cy="702.3" r="10" fill="url(#gY)" stroke="#DDA850" stroke-width="0.45"/><circle cx="270.2" cy="702.5" r="9.7" fill="url(#gY)" stroke="#DDA850" stroke-width="0.45"/><circle cx="95.6" cy="703.2" r="9.8" fill="url(#gY)" stroke="#DDA850" stroke-width="0.45"/><circle cx="200.4" cy="703.4" r="9.6" fill="url(#gY)" stroke="#DDA850" stroke-width="0.45"/><circle cx="129.9" cy="703.5" r="9.9" fill="url(#gY)" stroke="#DDA850" stroke-width="0.45"/><circle cx="219" cy="703.5" r="9.7" fill="url(#gY)" stroke="#DDA850" stroke-width="0.45"/><circle cx="166.7" cy="703.6" r="10" fill="url(#gY)" stroke="#DDA850" stroke-width="0.45"/><circle cx="114.2" cy="704.2" r="7.8" fill="url(#gB)"/><circle cx="185" cy="704.6" r="9.6" fill="url(#gY)" stroke="#DDA850" stroke-width="0.45"/><circle cx="232.1" cy="704.7" r="8.5" fill="url(#gB)"/><circle cx="148.9" cy="705.1" r="9.3" fill="url(#gY)" stroke="#DDA850" stroke-width="0.45"/><circle cx="270.3" cy="706.7" r="10.1" fill="url(#gY)" stroke="#DDA850" stroke-width="0.45"/><circle cx="87.8" cy="709" r="10.3" fill="url(#gY)" stroke="#DDA850" stroke-width="0.45"/><circle cx="277.5" cy="709.1" r="10.3" fill="url(#gY)" stroke="#DDA850" stroke-width="0.45"/><circle cx="275.1" cy="711.7" r="10.3" fill="url(#gY)" stroke="#DDA850" stroke-width="0.45"/><circle cx="236.3" cy="711.8" r="10.3" fill="url(#gY)" stroke="#DDA850" stroke-width="0.45"/><circle cx="158.5" cy="711.8" r="11.2" fill="url(#gY)" stroke="#DDA850" stroke-width="0.45"/><circle cx="198.1" cy="711.9" r="10.4" fill="url(#gY)" stroke="#DDA850" stroke-width="0.45"/><circle cx="122.7" cy="712" r="10" fill="url(#gY)" stroke="#DDA850" stroke-width="0.45"/><circle cx="142.2" cy="712.6" r="9.9" fill="url(#gY)" stroke="#DDA850" stroke-width="0.45"/><circle cx="215" cy="712.6" r="10.4" fill="url(#gY)" stroke="#DDA850" stroke-width="0.45"/><circle cx="85" cy="712.6" r="10.1" fill="url(#gY)" stroke="#DDA850" stroke-width="0.45"/><circle cx="291.6" cy="712.9" r="9.9" fill="url(#gY)" stroke="#DDA850" stroke-width="0.45"/><circle cx="105.7" cy="713.2" r="10.8" fill="url(#gY)" stroke="#DDA850" stroke-width="0.45"/><circle cx="179.4" cy="714.1" r="11.1" fill="url(#gY)" stroke="#DDA850" stroke-width="0.45"/><circle cx="255.4" cy="715.1" r="10.8" fill="url(#gY)" stroke="#DDA850" stroke-width="0.45"/><circle cx="147.8" cy="720.2" r="11.3" fill="url(#gY)" stroke="#DDA850" stroke-width="0.45"/><circle cx="258.1" cy="721.7" r="11" fill="url(#gY)" stroke="#DDA850" stroke-width="0.45"/><circle cx="299.5" cy="721.7" r="11.3" fill="url(#gY)" stroke="#DDA850" stroke-width="0.45"/><circle cx="102.2" cy="722.9" r="11.3" fill="url(#gY)" stroke="#DDA850" stroke-width="0.45"/><circle cx="80.4" cy="723.2" r="9.3" fill="url(#gB)"/><circle cx="278.1" cy="723.7" r="9.5" fill="url(#gB)"/><circle cx="236" cy="724" r="11.3" fill="url(#gY)" stroke="#DDA850" stroke-width="0.45"/><circle cx="126.6" cy="725.6" r="11.3" fill="url(#gY)" stroke="#DDA850" stroke-width="0.45"/><circle cx="214.4" cy="726.8" r="11.3" fill="url(#gY)" stroke="#DDA850" stroke-width="0.45"/><circle cx="176.9" cy="727.9" r="11.3" fill="url(#gY)" stroke="#DDA850" stroke-width="0.45"/><path d="M472,672 482,660 500,652 580,650 612,657 620,672 616,700 610,724 598,734 545,737 497,737 480,724 480,700Z" fill="#DCA84A"/><circle cx="572.6" cy="627.5" r="8.5" fill="url(#gY)" stroke="#DDA850" stroke-width="0.45"/><circle cx="512.8" cy="629" r="8.2" fill="url(#gY)" stroke="#DDA850" stroke-width="0.45"/><circle cx="528.8" cy="630.4" r="8.2" fill="url(#gY)" stroke="#DDA850" stroke-width="0.45"/><circle cx="482.1" cy="637.7" r="8" fill="url(#gY)" stroke="#DDA850" stroke-width="0.45"/><circle cx="572.6" cy="640.7" r="8.5" fill="url(#gY)" stroke="#DDA850" stroke-width="0.45"/><circle cx="594.5" cy="642.1" r="8.5" fill="url(#gY)" stroke="#DDA850" stroke-width="0.45"/><circle cx="517.2" cy="642.1" r="8" fill="url(#gY)" stroke="#DDA850" stroke-width="0.45"/><circle cx="496.7" cy="645" r="8" fill="url(#gY)" stroke="#DDA850" stroke-width="0.45"/><circle cx="552.2" cy="645" r="8" fill="url(#gY)" stroke="#DDA850" stroke-width="0.45"/><circle cx="538" cy="650" r="8.3" fill="url(#gY)" stroke="#DDA850" stroke-width="0.45"/><circle cx="474.8" cy="650.9" r="9.5" fill="url(#gY)" stroke="#DDA850" stroke-width="0.45"/><circle cx="519" cy="652" r="8.3" fill="url(#gY)" stroke="#DDA850" stroke-width="0.45"/><circle cx="557" cy="653" r="8.3" fill="url(#gY)" stroke="#DDA850" stroke-width="0.45"/><circle cx="622.3" cy="653.8" r="10.5" fill="url(#gY)" stroke="#DDA850" stroke-width="0.45"/><circle cx="500" cy="655" r="8.3" fill="url(#gY)" stroke="#DDA850" stroke-width="0.45"/><circle cx="579.9" cy="658.2" r="8" fill="url(#gY)" stroke="#DDA850" stroke-width="0.45"/><circle cx="536" cy="659.5" r="7.4" fill="url(#gB)"/><circle cx="550" cy="659.5" r="7.4" fill="url(#gB)"/><circle cx="606.2" cy="661.1" r="9.5" fill="url(#gY)" stroke="#DDA850" stroke-width="0.45"/><circle cx="461.7" cy="662.6" r="10.5" fill="url(#gY)" stroke="#DDA850" stroke-width="0.45"/><circle cx="482.1" cy="664" r="9" fill="url(#gY)" stroke="#DDA850" stroke-width="0.45"/><circle cx="585.8" cy="666.9" r="9" fill="url(#gY)" stroke="#DDA850" stroke-width="0.45"/><circle cx="515" cy="670.3" r="7.4" fill="url(#gB)"/><circle cx="529" cy="670.3" r="7.4" fill="url(#gB)"/><circle cx="543" cy="670.3" r="7.4" fill="url(#gB)"/><circle cx="557" cy="670.3" r="7.4" fill="url(#gB)"/><circle cx="571" cy="670.3" r="7.4" fill="url(#gB)"/><circle cx="623.7" cy="671.3" r="11" fill="url(#gY)" stroke="#DDA850" stroke-width="0.45"/><circle cx="601.8" cy="675.7" r="9.5" fill="url(#gY)" stroke="#DDA850" stroke-width="0.45"/><circle cx="473.5" cy="680" r="11" fill="url(#gY)" stroke="#DDA850" stroke-width="0.45"/><circle cx="508" cy="681.1" r="7.4" fill="url(#gB)"/><circle cx="522" cy="681.1" r="7.4" fill="url(#gB)"/><circle cx="536" cy="681.1" r="7.4" fill="url(#gB)"/><circle cx="550" cy="681.1" r="7.4" fill="url(#gB)"/><circle cx="564" cy="681.1" r="7.4" fill="url(#gB)"/><circle cx="579.3" cy="683" r="9.6" fill="url(#gY)" stroke="#DDA850" stroke-width="0.45"/><circle cx="599.2" cy="688.9" r="9.3" fill="url(#gY)" stroke="#DDA850" stroke-width="0.45"/><circle cx="612.9" cy="691.8" r="10.2" fill="url(#gY)" stroke="#DDA850" stroke-width="0.45"/><circle cx="501" cy="691.9" r="7.4" fill="url(#gB)"/><circle cx="515" cy="691.9" r="7.4" fill="url(#gB)"/><circle cx="529" cy="691.9" r="7.4" fill="url(#gB)"/><circle cx="543" cy="691.9" r="7.4" fill="url(#gB)"/><circle cx="557" cy="691.9" r="7.4" fill="url(#gB)"/><circle cx="571" cy="691.9" r="7.4" fill="url(#gB)"/><circle cx="585.1" cy="696.1" r="10.2" fill="url(#gY)" stroke="#DDA850" stroke-width="0.45"/><circle cx="490" cy="700" r="9.5" fill="url(#gY)" stroke="#DDA850" stroke-width="0.45"/><circle cx="508" cy="702.7" r="7.4" fill="url(#gB)"/><circle cx="522" cy="702.7" r="7.4" fill="url(#gB)"/><circle cx="536" cy="702.7" r="7.4" fill="url(#gB)"/><circle cx="550" cy="702.7" r="7.4" fill="url(#gB)"/><circle cx="564" cy="702.7" r="7.4" fill="url(#gB)"/><circle cx="600" cy="704" r="10" fill="url(#gY)" stroke="#DDA850" stroke-width="0.45"/><circle cx="488.8" cy="706.4" r="9.6" fill="url(#gY)" stroke="#DDA850" stroke-width="0.45"/><circle cx="547.2" cy="709.3" r="9.6" fill="url(#gY)" stroke="#DDA850" stroke-width="0.45"/><circle cx="564.7" cy="710.7" r="10.2" fill="url(#gY)" stroke="#DDA850" stroke-width="0.45"/><circle cx="582.2" cy="712.2" r="9.6" fill="url(#gY)" stroke="#DDA850" stroke-width="0.45"/><circle cx="523.8" cy="712.2" r="9.6" fill="url(#gY)" stroke="#DDA850" stroke-width="0.45"/><circle cx="610" cy="718" r="11" fill="url(#gY)" stroke="#DDA850" stroke-width="0.45"/><circle cx="469.8" cy="718" r="10.2" fill="url(#gY)" stroke="#DDA850" stroke-width="0.45"/><circle cx="507.8" cy="718" r="9.6" fill="url(#gY)" stroke="#DDA850" stroke-width="0.45"/><circle cx="484.2" cy="718.1" r="9.5" fill="url(#gY)" stroke="#DDA850" stroke-width="0.45"/><circle cx="519.3" cy="725.2" r="9.7" fill="url(#gY)" stroke="#DDA850" stroke-width="0.45"/><circle cx="532.6" cy="726.8" r="10.2" fill="url(#gY)" stroke="#DDA850" stroke-width="0.45"/><circle cx="561.8" cy="726.8" r="10.2" fill="url(#gY)" stroke="#DDA850" stroke-width="0.45"/><circle cx="491.7" cy="731.2" r="11" fill="url(#gY)" stroke="#DDA850" stroke-width="0.45"/><circle cx="593.9" cy="732.6" r="11" fill="url(#gY)" stroke="#DDA850" stroke-width="0.45"/><circle cx="576.4" cy="732.6" r="8.8" fill="url(#gY)" stroke="#DDA850" stroke-width="0.45"/><circle cx="541.4" cy="732.6" r="11" fill="url(#gY)" stroke="#DDA850" stroke-width="0.45"/><circle cx="512.2" cy="738.5" r="10.2" fill="url(#gY)" stroke="#DDA850" stroke-width="0.45"/><path d="M98.8,645.8 99.1,646.3 99.3,646.8 99.5,647.4 99.7,648 99.9,648.6 100.2,649.1 100.4,649.7 100.6,650.4 100.8,651 101,651.6 101.3,652.2 101.5,652.8 101.8,653.5 102.1,654.1 102.4,654.7 102.8,655.3 103.2,655.9 103.6,656.5 104.1,657 104.6,657.5 105.1,658 105.7,658.4 106.2,658.9 106.8,659.3 107.4,659.7 108,660.1 108.6,660.4 109.3,660.8 109.9,661.1 110.6,661.4 111.3,661.7 112,662 112.7,662.2 113.4,662.5 114.1,662.7 114.9,662.9 115.6,663 116.3,663.2 117,663.3 117.8,663.4 118.5,663.5 119.3,663.5 120.1,663.5 120.8,663.5 121.6,663.5 122.4,663.5 123.2,663.4 124,663.3 124.8,663.2 125.6,663.1 126.3,662.9 127.1,662.8 127.9,662.6 128.7,662.4 129.4,662.2 130.2,662 130.9,661.8 131.6,661.6 132.3,661.3 133,661.1 133.7,660.8 134.4,660.5 135.1,660.2 135.8,659.9 136.5,659.6 137.1,659.2 137.8,658.8 138.4,658.5 139,658.1 139.6,657.7 140.2,657.3 140.8,656.9 141.4,656.5 141.9,656.1 142.4,655.8 143,655.4 143.5,655 144,654.7 144.4,654.3 144.9,654 145.3,653.7 145.7,653.4 146.2,653.1 146.5,652.8 146.9,652.5 147.3,652.3 147.7,652 148,651.7 148.4,651.4 148.7,651.1 149.1,650.8 149.4,650.5 149.8,650.1 150.2,649.8 150.5,649.4 150.9,649 151.3,648.6 151.7,648.2 152.1,647.7 152.6,647.2 153.1,646.6 153.6,646 154.1,645.4 154.6,644.8 155.1,644.1 155.7,643.4 159.7,646.4 160.3,630.9 146,636.3 150,639.2 149.6,639.9 149.1,640.6 148.6,641.2 148.2,641.8 147.8,642.3 147.4,642.8 147,643.3 146.7,643.8 146.3,644.2 146,644.5 145.7,644.9 145.4,645.2 145.1,645.5 144.9,645.8 144.6,646 144.4,646.3 144.1,646.5 143.8,646.8 143.6,647 143.3,647.2 143,647.5 142.7,647.8 142.3,648 141.9,648.3 141.5,648.7 141.1,649 140.7,649.4 140.2,649.7 139.7,650.1 139.2,650.5 138.8,650.9 138.3,651.3 137.8,651.7 137.3,652 136.8,652.4 136.3,652.8 135.7,653.2 135.2,653.5 134.7,653.9 134.2,654.2 133.7,654.5 133.1,654.8 132.6,655.1 132.1,655.4 131.5,655.7 131,655.9 130.4,656.1 129.8,656.4 129.2,656.6 128.6,656.8 127.9,657 127.3,657.2 126.6,657.4 125.9,657.6 125.2,657.8 124.6,657.9 123.9,658.1 123.2,658.2 122.5,658.3 121.9,658.4 121.2,658.5 120.6,658.6 120,658.6 119.4,658.6 118.8,658.6 118.2,658.6 117.7,658.5 117.1,658.5 116.5,658.4 115.9,658.3 115.3,658.2 114.7,658 114.1,657.9 113.5,657.7 112.9,657.5 112.3,657.3 111.8,657 111.2,656.8 110.7,656.6 110.1,656.3 109.6,656 109.1,655.7 108.7,655.4 108.2,655.1 107.8,654.8 107.4,654.5 107.1,654.2 106.7,653.8 106.4,653.5 106.1,653.1 105.9,652.7 105.6,652.2 105.3,651.7 105.1,651.2 104.8,650.7 104.6,650.1 104.3,649.6 104.1,649 103.8,648.4 103.6,647.8 103.4,647.2 103.1,646.6 102.8,646 102.6,645.4 102.3,644.8 102,644.2Z" fill="url(#gGr)" stroke-linejoin="round"/><circle cx="91.7" cy="636.7" r="3.1" fill="url(#gH)"/><circle cx="103.4" cy="635.3" r="3.1" fill="url(#gH)"/><circle cx="99" cy="639.6" r="5.4" fill="url(#gC)"/><circle cx="94" cy="645.5" r="3.1" fill="url(#gH)"/><circle cx="105.7" cy="645.5" r="3.1" fill="url(#gH)"/><circle cx="115" cy="658.6" r="5.5" fill="url(#gR)"/><path d="M185.9,621.6 186.1,621 186.4,620.4 186.6,619.8 186.8,619.2 187.1,618.6 187.3,618.1 187.5,617.5 187.7,616.9 187.9,616.3 188.1,615.8 188.3,615.2 188.5,614.7 188.8,614.2 189,613.7 189.2,613.2 189.5,612.8 189.7,612.3 190,611.9 190.3,611.5 190.5,611.2 190.9,610.8 191.2,610.5 191.5,610.1 191.9,609.8 192.3,609.4 192.6,609.1 193,608.8 193.4,608.5 193.8,608.2 194.2,607.9 194.6,607.7 195.1,607.4 195.5,607.2 196,606.9 196.4,606.7 196.9,606.5 197.4,606.3 197.9,606.1 198.3,605.9 198.8,605.7 199.4,605.5 199.9,605.4 200.4,605.3 201,605.1 201.6,605 202.1,604.9 202.7,604.8 203.4,604.7 204,604.6 204.6,604.5 205.3,604.5 205.9,604.4 206.5,604.4 207.2,604.4 207.8,604.3 208.5,604.3 209.1,604.3 209.8,604.3 210.4,604.3 211,604.4 211.6,604.4 212.2,604.4 212.8,604.5 213.4,604.6 214.1,604.6 214.7,604.7 215.3,604.8 216,604.9 216.6,605 217.3,605.2 217.9,605.3 218.5,605.4 219.1,605.6 219.7,605.7 220.3,605.9 220.9,606 221.5,606.2 222,606.4 222.5,606.5 223.1,606.7 223.5,606.9 224,607.1 224.4,607.2 224.9,607.4 225.3,607.6 225.6,607.7 226,607.9 226.4,608.1 226.7,608.3 227.1,608.4 227.4,608.6 227.7,608.8 228.1,609.1 228.4,609.3 228.8,609.5 229.2,609.8 229.6,610.1 230,610.4 230.4,610.7 230.8,611 231.3,611.4 228.7,614.8 243.5,617.5 238.2,601.9 235.7,605.3 235.2,605 234.7,604.6 234.1,604.3 233.6,604 233.2,603.7 232.7,603.4 232.2,603.1 231.7,602.9 231.2,602.6 230.7,602.4 230.2,602.1 229.8,601.9 229.3,601.7 228.8,601.5 228.2,601.3 227.7,601.1 227.2,600.9 226.7,600.8 226.1,600.6 225.5,600.4 224.9,600.3 224.3,600.1 223.7,600 223.1,599.8 222.4,599.7 221.7,599.6 221.1,599.5 220.4,599.3 219.7,599.2 219,599.1 218.2,599 217.5,598.9 216.8,598.9 216.1,598.8 215.3,598.7 214.6,598.7 213.9,598.7 213.2,598.6 212.4,598.6 211.7,598.6 211,598.6 210.3,598.7 209.6,598.7 208.9,598.8 208.2,598.8 207.5,598.9 206.8,599 206,599.1 205.3,599.2 204.6,599.3 203.9,599.4 203.2,599.5 202.5,599.7 201.8,599.8 201.1,600 200.4,600.2 199.7,600.4 199.1,600.6 198.4,600.8 197.8,601 197.2,601.3 196.6,601.6 196,601.8 195.4,602.1 194.9,602.4 194.3,602.7 193.8,603 193.2,603.4 192.7,603.7 192.2,604.1 191.7,604.4 191.2,604.8 190.8,605.2 190.3,605.6 189.9,606 189.4,606.5 189,606.9 188.6,607.4 188.2,607.8 187.8,608.3 187.5,608.8 187.1,609.4 186.7,609.9 186.4,610.5 186.2,611.1 185.9,611.7 185.6,612.3 185.4,612.8 185.2,613.5 185,614.1 184.8,614.7 184.7,615.3 184.5,615.9 184.3,616.5 184.2,617.1 184,617.6 183.8,618.2 183.7,618.8 183.5,619.4 183.3,619.9 183.1,620.4Z" fill="#D8434A" stroke-linejoin="round"/><circle cx="163.8" cy="618.3" r="3" fill="url(#gH)"/><circle cx="169" cy="620.1" r="5.3" fill="url(#gR)"/><circle cx="171.1" cy="633.2" r="3" fill="url(#gH)"/><circle cx="188.6" cy="633.2" r="3" fill="url(#gH)"/><circle cx="180.7" cy="633.2" r="6" fill="url(#gC)"/><circle cx="181.3" cy="642.6" r="3" fill="url(#gH)"/><circle cx="240" cy="622.7" r="3" fill="url(#gH)"/><circle cx="252.8" cy="623.6" r="5.8" fill="url(#gR)"/><circle cx="263.4" cy="626.5" r="5.8" fill="url(#gR)"/><circle cx="271.2" cy="623" r="3" fill="url(#gH)"/><circle cx="243.5" cy="630.9" r="6.5" fill="url(#gC)"/><circle cx="237.7" cy="628" r="3" fill="url(#gH)"/><circle cx="240.6" cy="639.6" r="3" fill="url(#gH)"/><text x="141.3" y="603.7" font-size="10.5" fill="#1c1c1c" text-anchor="start" font-weight="normal" textLength="36.5" lengthAdjust="spacingAndGlyphs" >C1 path</text><circle cx="281.3" cy="598.7" r="2.7" fill="url(#gH)"/><text x="287.9" y="602.9" font-size="9" fill="#1c1c1c" text-anchor="start" font-weight="normal" >H</text><circle cx="312.6" cy="598.2" r="3.7" fill="url(#gR)"/><text x="319.9" y="602.9" font-size="9" fill="#1c1c1c" text-anchor="start" font-weight="normal" >O</text><circle cx="347.5" cy="598.2" r="4.2" fill="url(#gC)"/><text x="355.4" y="602.9" font-size="9" fill="#1c1c1c" text-anchor="start" font-weight="normal" >C</text><circle cx="384.3" cy="597.7" r="6.8" fill="url(#gB)"/><text x="394" y="602.9" font-size="9" fill="#1c1c1c" text-anchor="start" font-weight="normal" >Fe</text><circle cx="425.5" cy="597.7" r="7.9" fill="url(#gY)" stroke="#DDA850" stroke-width="0.45"/><text x="436" y="602.9" font-size="9" fill="#1c1c1c" text-anchor="start" font-weight="normal" >Ga</text><text x="378" y="659.5" font-size="10.5" fill="#1c1c1c" text-anchor="middle" font-weight="normal" textLength="108" lengthAdjust="spacingAndGlyphs" >Reversible conversion</text><path d="M318.2,675.5 L342,666.2 L339.5,672 L416,672 L413.5,666.2 L439.3,675.5 L413.5,684.8 L416,679 L339.5,679 L342,684.8 Z" fill="url(#gArr)"/><text x="381.6" y="704.1" font-size="10.5" fill="#1c1c1c" text-anchor="middle" font-weight="normal" textLength="86" lengthAdjust="spacingAndGlyphs" >Magnetic field on</text><line x1="325.5" y1="711.1" x2="430" y2="711.1" stroke="#7CC6F2" stroke-width="1.5"/><path d="M426,708.3 L432.5,711.1 L426,713.9" fill="none" stroke="#7CC6F2" stroke-width="1.3"/><line x1="327" y1="719.3" x2="432" y2="719.3" stroke="#7FD0E0" stroke-width="1.5"/><path d="M331.5,716.5 L325,719.3 L331.5,722.1" fill="none" stroke="#5BBFA9" stroke-width="1.3"/><text x="381.6" y="731" font-size="10.5" fill="#1c1c1c" text-anchor="middle" font-weight="normal" textLength="86" lengthAdjust="spacingAndGlyphs" >Magnetic field off</text><path d="M483.7,630.9 483.9,631.6 484.2,632.4 484.4,633.1 484.6,633.9 484.9,634.7 485.1,635.5 485.3,636.3 485.5,637.1 485.8,638 486,638.8 486.3,639.6 486.5,640.4 486.8,641.3 487.1,642.1 487.4,642.9 487.8,643.7 488.2,644.5 488.6,645.3 489,646.1 489.5,646.8 490,647.5 490.4,648.1 490.9,648.7 491.4,649.3 491.9,649.9 492.4,650.5 493,651.1 493.5,651.7 494.1,652.2 494.7,652.8 495.4,653.3 496,653.8 496.7,654.3 497.4,654.7 498.1,655.2 498.9,655.6 499.7,656 500.5,656.4 501.3,656.8 502.2,657.2 503.1,657.5 504,657.9 505,658.2 506.1,658.5 507.1,658.8 508.2,659.1 509.4,659.4 510.5,659.7 511.7,659.9 512.8,660.1 514,660.3 515.2,660.5 516.4,660.7 517.6,660.8 518.7,660.9 519.9,661 521,661.1 522.1,661.1 523.2,661.1 524.3,661 525.3,660.9 526.3,660.8 527.3,660.6 528.3,660.4 529.2,660.1 530.1,659.8 531,659.5 531.9,659.2 532.8,658.8 533.6,658.4 534.4,658 535.2,657.6 536,657.2 536.7,656.7 537.5,656.3 538.2,655.8 538.9,655.3 539.6,654.8 540.3,654.3 541,653.8 541.8,653.2 542.6,652.6 543.3,651.9 544,651.3 547.2,654.5 549,637 533.6,641.1 536.8,644.3 536.3,644.8 535.9,645.3 535.4,645.7 535,646.2 534.4,646.6 533.8,647.1 533.3,647.6 532.7,648 532.2,648.4 531.6,648.8 531,649.2 530.5,649.6 529.9,649.9 529.4,650.2 528.8,650.6 528.3,650.8 527.7,651.1 527.1,651.4 526.5,651.6 525.9,651.8 525.3,652 524.7,652.1 524,652.3 523.3,652.4 522.6,652.5 521.8,652.6 521,652.6 520.1,652.6 519.1,652.6 518.2,652.6 517.1,652.6 516.1,652.5 515.1,652.4 514,652.3 513,652.2 511.9,652 510.9,651.9 509.9,651.7 508.9,651.5 507.9,651.3 507,651.1 506.2,650.9 505.4,650.7 504.6,650.4 503.9,650.2 503.3,650 502.7,649.7 502,649.4 501.5,649.1 500.9,648.9 500.4,648.6 499.9,648.2 499.4,647.9 498.9,647.6 498.4,647.2 497.9,646.8 497.5,646.4 497,646 496.6,645.6 496.2,645.2 495.8,644.7 495.3,644.2 494.9,643.7 494.5,643.2 494.1,642.7 493.8,642.2 493.4,641.7 493.1,641.1 492.8,640.5 492.5,639.8 492.2,639.2 491.9,638.5 491.6,637.7 491.3,637 491,636.2 490.7,635.5 490.5,634.7 490.2,633.9 489.9,633.1 489.6,632.3 489.3,631.5 489,630.7 488.7,629.9 488.3,629.1Z" fill="#ffffff" stroke="#ffffff" stroke-width="3" stroke-linejoin="round" opacity="0.9" filter="url(#glow)"/><path d="M483.7,630.9 483.9,631.6 484.2,632.4 484.4,633.1 484.6,633.9 484.9,634.7 485.1,635.5 485.3,636.3 485.5,637.1 485.8,638 486,638.8 486.3,639.6 486.5,640.4 486.8,641.3 487.1,642.1 487.4,642.9 487.8,643.7 488.2,644.5 488.6,645.3 489,646.1 489.5,646.8 490,647.5 490.4,648.1 490.9,648.7 491.4,649.3 491.9,649.9 492.4,650.5 493,651.1 493.5,651.7 494.1,652.2 494.7,652.8 495.4,653.3 496,653.8 496.7,654.3 497.4,654.7 498.1,655.2 498.9,655.6 499.7,656 500.5,656.4 501.3,656.8 502.2,657.2 503.1,657.5 504,657.9 505,658.2 506.1,658.5 507.1,658.8 508.2,659.1 509.4,659.4 510.5,659.7 511.7,659.9 512.8,660.1 514,660.3 515.2,660.5 516.4,660.7 517.6,660.8 518.7,660.9 519.9,661 521,661.1 522.1,661.1 523.2,661.1 524.3,661 525.3,660.9 526.3,660.8 527.3,660.6 528.3,660.4 529.2,660.1 530.1,659.8 531,659.5 531.9,659.2 532.8,658.8 533.6,658.4 534.4,658 535.2,657.6 536,657.2 536.7,656.7 537.5,656.3 538.2,655.8 538.9,655.3 539.6,654.8 540.3,654.3 541,653.8 541.8,653.2 542.6,652.6 543.3,651.9 544,651.3 547.2,654.5 549,637 533.6,641.1 536.8,644.3 536.3,644.8 535.9,645.3 535.4,645.7 535,646.2 534.4,646.6 533.8,647.1 533.3,647.6 532.7,648 532.2,648.4 531.6,648.8 531,649.2 530.5,649.6 529.9,649.9 529.4,650.2 528.8,650.6 528.3,650.8 527.7,651.1 527.1,651.4 526.5,651.6 525.9,651.8 525.3,652 524.7,652.1 524,652.3 523.3,652.4 522.6,652.5 521.8,652.6 521,652.6 520.1,652.6 519.1,652.6 518.2,652.6 517.1,652.6 516.1,652.5 515.1,652.4 514,652.3 513,652.2 511.9,652 510.9,651.9 509.9,651.7 508.9,651.5 507.9,651.3 507,651.1 506.2,650.9 505.4,650.7 504.6,650.4 503.9,650.2 503.3,650 502.7,649.7 502,649.4 501.5,649.1 500.9,648.9 500.4,648.6 499.9,648.2 499.4,647.9 498.9,647.6 498.4,647.2 497.9,646.8 497.5,646.4 497,646 496.6,645.6 496.2,645.2 495.8,644.7 495.3,644.2 494.9,643.7 494.5,643.2 494.1,642.7 493.8,642.2 493.4,641.7 493.1,641.1 492.8,640.5 492.5,639.8 492.2,639.2 491.9,638.5 491.6,637.7 491.3,637 491,636.2 490.7,635.5 490.5,634.7 490.2,633.9 489.9,633.1 489.6,632.3 489.3,631.5 489,630.7 488.7,629.9 488.3,629.1Z" fill="url(#gGr)" stroke-linejoin="round"/><path d="M486.7,690.1 487.4,690.6 488.1,691.1 488.8,691.6 489.5,692.2 490.3,692.7 491,693.3 491.7,693.9 492.5,694.5 493.2,695 494,695.6 494.7,696.2 495.5,696.7 496.3,697.3 497.1,697.8 498,698.3 498.8,698.8 499.7,699.3 500.6,699.8 501.5,700.2 502.4,700.5 503.3,700.9 504.2,701.1 505.2,701.4 506.1,701.7 507,701.9 508,702.1 508.9,702.3 509.9,702.4 510.8,702.5 511.8,702.6 512.8,702.7 513.7,702.8 514.7,702.9 515.7,702.9 516.6,702.9 517.6,702.9 518.5,702.8 519.5,702.8 520.4,702.7 521.4,702.6 522.4,702.5 523.3,702.4 524.3,702.2 525.3,702 526.2,701.8 527.2,701.6 528.2,701.4 529.2,701.1 530.1,700.8 531.1,700.5 532,700.2 533,699.9 533.9,699.5 534.8,699.1 535.7,698.8 536.6,698.4 537.5,698 538.4,697.6 539.3,697.1 540.1,696.7 540.9,696.3 541.8,695.8 542.6,695.3 543.4,694.8 544.1,694.3 544.9,693.8 545.7,693.3 546.4,692.7 547.2,692.2 547.9,691.6 548.6,691 549.3,690.4 550,689.8 550.7,689.1 551.4,688.5 552.1,687.9 552.7,687.2 553.4,686.5 554,685.8 554.7,685.1 555.4,684.3 556,683.6 556.6,682.7 557.3,681.9 557.9,681.1 558.4,680.3 562.2,682.7 561,666 546.3,672.4 550,674.8 549.6,675.6 549.1,676.3 548.7,677 548.2,677.7 547.8,678.3 547.3,678.9 546.8,679.5 546.3,680.1 545.8,680.7 545.3,681.3 544.7,681.9 544.2,682.5 543.7,683.1 543.1,683.6 542.6,684.2 542,684.7 541.4,685.2 540.9,685.7 540.3,686.2 539.7,686.7 539.1,687.1 538.5,687.6 537.8,688 537.2,688.5 536.6,688.9 535.9,689.3 535.2,689.7 534.5,690.1 533.8,690.5 533.1,690.9 532.3,691.3 531.5,691.7 530.8,692 530,692.4 529.2,692.7 528.4,693 527.6,693.4 526.8,693.7 526,693.9 525.2,694.2 524.4,694.4 523.6,694.7 522.8,694.9 522,695.1 521.2,695.2 520.4,695.4 519.6,695.5 518.8,695.6 518,695.7 517.2,695.8 516.4,695.8 515.6,695.9 514.8,695.9 513.9,695.9 513.1,695.9 512.3,695.9 511.5,695.9 510.7,695.8 509.8,695.7 509,695.6 508.2,695.5 507.5,695.4 506.7,695.2 505.9,695.1 505.1,694.9 504.4,694.7 503.7,694.4 503,694.2 502.3,693.9 501.6,693.6 500.9,693.2 500.1,692.8 499.4,692.4 498.7,692 497.9,691.5 497.2,691 496.4,690.5 495.7,690 494.9,689.5 494.1,689 493.4,688.4 492.6,687.9 491.8,687.4 491,686.9 490.1,686.4 489.3,685.9Z" fill="#ffffff" stroke="#ffffff" stroke-width="3" stroke-linejoin="round" opacity="0.9" filter="url(#glow)"/><path d="M486.7,690.1 487.4,690.6 488.1,691.1 488.8,691.6 489.5,692.2 490.3,692.7 491,693.3 491.7,693.9 492.5,694.5 493.2,695 494,695.6 494.7,696.2 495.5,696.7 496.3,697.3 497.1,697.8 498,698.3 498.8,698.8 499.7,699.3 500.6,699.8 501.5,700.2 502.4,700.5 503.3,700.9 504.2,701.1 505.2,701.4 506.1,701.7 507,701.9 508,702.1 508.9,702.3 509.9,702.4 510.8,702.5 511.8,702.6 512.8,702.7 513.7,702.8 514.7,702.9 515.7,702.9 516.6,702.9 517.6,702.9 518.5,702.8 519.5,702.8 520.4,702.7 521.4,702.6 522.4,702.5 523.3,702.4 524.3,702.2 525.3,702 526.2,701.8 527.2,701.6 528.2,701.4 529.2,701.1 530.1,700.8 531.1,700.5 532,700.2 533,699.9 533.9,699.5 534.8,699.1 535.7,698.8 536.6,698.4 537.5,698 538.4,697.6 539.3,697.1 540.1,696.7 540.9,696.3 541.8,695.8 542.6,695.3 543.4,694.8 544.1,694.3 544.9,693.8 545.7,693.3 546.4,692.7 547.2,692.2 547.9,691.6 548.6,691 549.3,690.4 550,689.8 550.7,689.1 551.4,688.5 552.1,687.9 552.7,687.2 553.4,686.5 554,685.8 554.7,685.1 555.4,684.3 556,683.6 556.6,682.7 557.3,681.9 557.9,681.1 558.4,680.3 562.2,682.7 561,666 546.3,672.4 550,674.8 549.6,675.6 549.1,676.3 548.7,677 548.2,677.7 547.8,678.3 547.3,678.9 546.8,679.5 546.3,680.1 545.8,680.7 545.3,681.3 544.7,681.9 544.2,682.5 543.7,683.1 543.1,683.6 542.6,684.2 542,684.7 541.4,685.2 540.9,685.7 540.3,686.2 539.7,686.7 539.1,687.1 538.5,687.6 537.8,688 537.2,688.5 536.6,688.9 535.9,689.3 535.2,689.7 534.5,690.1 533.8,690.5 533.1,690.9 532.3,691.3 531.5,691.7 530.8,692 530,692.4 529.2,692.7 528.4,693 527.6,693.4 526.8,693.7 526,693.9 525.2,694.2 524.4,694.4 523.6,694.7 522.8,694.9 522,695.1 521.2,695.2 520.4,695.4 519.6,695.5 518.8,695.6 518,695.7 517.2,695.8 516.4,695.8 515.6,695.9 514.8,695.9 513.9,695.9 513.1,695.9 512.3,695.9 511.5,695.9 510.7,695.8 509.8,695.7 509,695.6 508.2,695.5 507.5,695.4 506.7,695.2 505.9,695.1 505.1,694.9 504.4,694.7 503.7,694.4 503,694.2 502.3,693.9 501.6,693.6 500.9,693.2 500.1,692.8 499.4,692.4 498.7,692 497.9,691.5 497.2,691 496.4,690.5 495.7,690 494.9,689.5 494.1,689 493.4,688.4 492.6,687.9 491.8,687.4 491,686.9 490.1,686.4 489.3,685.9Z" fill="url(#gGr)" stroke-linejoin="round"/><path d="M557.2,642.9 557.5,643.6 557.8,644.2 558,644.9 558.3,645.5 558.5,646.2 558.8,647 559,647.7 559.3,648.5 559.5,649.2 559.8,650 560.1,650.8 560.4,651.5 560.8,652.3 561.1,653 561.6,653.8 562,654.5 562.6,655.2 563.2,655.9 563.8,656.5 564.5,657.1 565.2,657.6 566,658.1 566.8,658.5 567.6,658.9 568.4,659.3 569.3,659.6 570.2,660 571.1,660.2 572.1,660.5 573,660.7 574,661 574.9,661.1 575.9,661.3 576.9,661.4 577.9,661.5 578.8,661.5 579.8,661.5 580.8,661.5 581.7,661.5 582.7,661.4 583.7,661.2 584.7,661 585.7,660.7 586.6,660.4 587.6,660.1 588.5,659.7 589.5,659.3 590.4,658.8 591.3,658.4 592.2,657.9 593.1,657.4 594,657 594.8,656.5 595.6,656 596.4,655.5 597.2,655 598,654.5 598.7,654.1 599.4,653.7 600.1,653.3 600.8,652.8 601.5,652.4 602.2,652 602.9,651.5 603.5,651.1 604.2,650.7 604.8,650.2 605.4,649.8 606,649.3 606.6,648.9 607.2,648.4 607.7,648 608.3,647.5 608.9,647 609.4,646.6 610,646.1 610.5,645.6 611,645.1 611.6,644.6 612.1,644.1 612.7,643.6 613.3,643 613.8,642.5 616.7,645.2 618,630 604.2,633.7 607.1,636.4 606.7,636.9 606.3,637.4 605.9,637.9 605.4,638.4 605,638.9 604.5,639.3 604,639.8 603.6,640.3 603.1,640.7 602.7,641.2 602.2,641.6 601.7,642 601.3,642.5 600.8,642.9 600.3,643.3 599.8,643.8 599.3,644.2 598.8,644.6 598.2,645 597.7,645.5 597.1,645.9 596.5,646.3 595.9,646.7 595.2,647.2 594.5,647.7 593.8,648.2 593.1,648.7 592.4,649.3 591.6,649.8 590.9,650.3 590.1,650.8 589.4,651.3 588.6,651.8 587.9,652.3 587.2,652.7 586.4,653.1 585.7,653.5 585,653.9 584.3,654.2 583.6,654.5 582.9,654.7 582.3,654.9 581.7,655 581,655.2 580.3,655.3 579.6,655.3 578.8,655.4 578.1,655.4 577.3,655.4 576.5,655.4 575.7,655.3 574.9,655.2 574.1,655.1 573.3,655 572.6,654.8 571.8,654.6 571.1,654.4 570.4,654.2 569.7,654 569.1,653.7 568.5,653.5 568,653.2 567.5,652.9 567.1,652.6 566.7,652.3 566.3,652 566,651.6 565.6,651.1 565.3,650.6 565,650.1 564.7,649.5 564.3,648.9 564,648.2 563.7,647.6 563.4,646.9 563.1,646.2 562.8,645.4 562.5,644.7 562.2,644 561.9,643.2 561.5,642.5 561.2,641.8 560.8,641.1Z" fill="#ffffff" stroke="#ffffff" stroke-width="3" stroke-linejoin="round" opacity="0.9" filter="url(#glow)"/><path d="M557.2,642.9 557.5,643.6 557.8,644.2 558,644.9 558.3,645.5 558.5,646.2 558.8,647 559,647.7 559.3,648.5 559.5,649.2 559.8,650 560.1,650.8 560.4,651.5 560.8,652.3 561.1,653 561.6,653.8 562,654.5 562.6,655.2 563.2,655.9 563.8,656.5 564.5,657.1 565.2,657.6 566,658.1 566.8,658.5 567.6,658.9 568.4,659.3 569.3,659.6 570.2,660 571.1,660.2 572.1,660.5 573,660.7 574,661 574.9,661.1 575.9,661.3 576.9,661.4 577.9,661.5 578.8,661.5 579.8,661.5 580.8,661.5 581.7,661.5 582.7,661.4 583.7,661.2 584.7,661 585.7,660.7 586.6,660.4 587.6,660.1 588.5,659.7 589.5,659.3 590.4,658.8 591.3,658.4 592.2,657.9 593.1,657.4 594,657 594.8,656.5 595.6,656 596.4,655.5 597.2,655 598,654.5 598.7,654.1 599.4,653.7 600.1,653.3 600.8,652.8 601.5,652.4 602.2,652 602.9,651.5 603.5,651.1 604.2,650.7 604.8,650.2 605.4,649.8 606,649.3 606.6,648.9 607.2,648.4 607.7,648 608.3,647.5 608.9,647 609.4,646.6 610,646.1 610.5,645.6 611,645.1 611.6,644.6 612.1,644.1 612.7,643.6 613.3,643 613.8,642.5 616.7,645.2 618,630 604.2,633.7 607.1,636.4 606.7,636.9 606.3,637.4 605.9,637.9 605.4,638.4 605,638.9 604.5,639.3 604,639.8 603.6,640.3 603.1,640.7 602.7,641.2 602.2,641.6 601.7,642 601.3,642.5 600.8,642.9 600.3,643.3 599.8,643.8 599.3,644.2 598.8,644.6 598.2,645 597.7,645.5 597.1,645.9 596.5,646.3 595.9,646.7 595.2,647.2 594.5,647.7 593.8,648.2 593.1,648.7 592.4,649.3 591.6,649.8 590.9,650.3 590.1,650.8 589.4,651.3 588.6,651.8 587.9,652.3 587.2,652.7 586.4,653.1 585.7,653.5 585,653.9 584.3,654.2 583.6,654.5 582.9,654.7 582.3,654.9 581.7,655 581,655.2 580.3,655.3 579.6,655.3 578.8,655.4 578.1,655.4 577.3,655.4 576.5,655.4 575.7,655.3 574.9,655.2 574.1,655.1 573.3,655 572.6,654.8 571.8,654.6 571.1,654.4 570.4,654.2 569.7,654 569.1,653.7 568.5,653.5 568,653.2 567.5,652.9 567.1,652.6 566.7,652.3 566.3,652 566,651.6 565.6,651.1 565.3,650.6 565,650.1 564.7,649.5 564.3,648.9 564,648.2 563.7,647.6 563.4,646.9 563.1,646.2 562.8,645.4 562.5,644.7 562.2,644 561.9,643.2 561.5,642.5 561.2,641.8 560.8,641.1Z" fill="#D8434A" stroke-linejoin="round"/><circle cx="484.4" cy="620.2" r="11.4" fill="#ffffff" opacity="0.85" filter="url(#glow)"/><circle cx="475.7" cy="617.3" r="3.1" fill="url(#gH)"/><circle cx="488.8" cy="615.8" r="3.1" fill="url(#gH)"/><circle cx="484.4" cy="620.2" r="5.4" fill="url(#gC)"/><circle cx="478.6" cy="626" r="3.1" fill="url(#gH)"/><circle cx="490.3" cy="626" r="3.1" fill="url(#gH)"/><circle cx="555.4" cy="627" r="12.0" fill="#ffffff" opacity="0.85" filter="url(#glow)"/><circle cx="545.7" cy="626" r="3.1" fill="url(#gH)"/><circle cx="551.6" cy="620.2" r="3.1" fill="url(#gH)"/><circle cx="555.4" cy="627" r="6" fill="url(#gC)"/><circle cx="563.2" cy="627" r="3.1" fill="url(#gH)"/><circle cx="556" cy="637.7" r="3.1" fill="url(#gH)"/><circle cx="483" cy="678.6" r="11.4" fill="#ffffff" opacity="0.85" filter="url(#glow)"/><circle cx="475.7" cy="678.6" r="3.1" fill="url(#gH)"/><circle cx="487.3" cy="672.8" r="3.1" fill="url(#gH)"/><circle cx="483" cy="678.6" r="5.4" fill="url(#gC)"/><circle cx="481.5" cy="686.5" r="3.1" fill="url(#gH)"/><circle cx="491.7" cy="683" r="3.1" fill="url(#gH)"/><circle cx="573.5" cy="653.2" r="5.5" fill="url(#gR)"/><circle cx="564.7" cy="662" r="6.3" fill="url(#gC)"/><circle cx="610.8" cy="606.1" r="3.3" fill="url(#gH)"/><circle cx="603.2" cy="615.8" r="3.3" fill="url(#gH)"/><circle cx="609.7" cy="616.9" r="6.8" fill="url(#gC)"/><circle cx="606.5" cy="623.3" r="3.3" fill="url(#gH)"/><circle cx="630.1" cy="610.4" r="6.3" fill="url(#gR)"/><circle cx="622.6" cy="619" r="6.8" fill="url(#gC)"/><circle cx="628" cy="629.8" r="6" fill="url(#gR)"/><circle cx="635.5" cy="628.7" r="3.5" fill="url(#gH)"/><text x="560.6" y="605.5" font-size="10.5" fill="#1c1c1c" text-anchor="start" font-weight="normal" textLength="36.8" lengthAdjust="spacingAndGlyphs" >C2 path</text></svg></body></html>
